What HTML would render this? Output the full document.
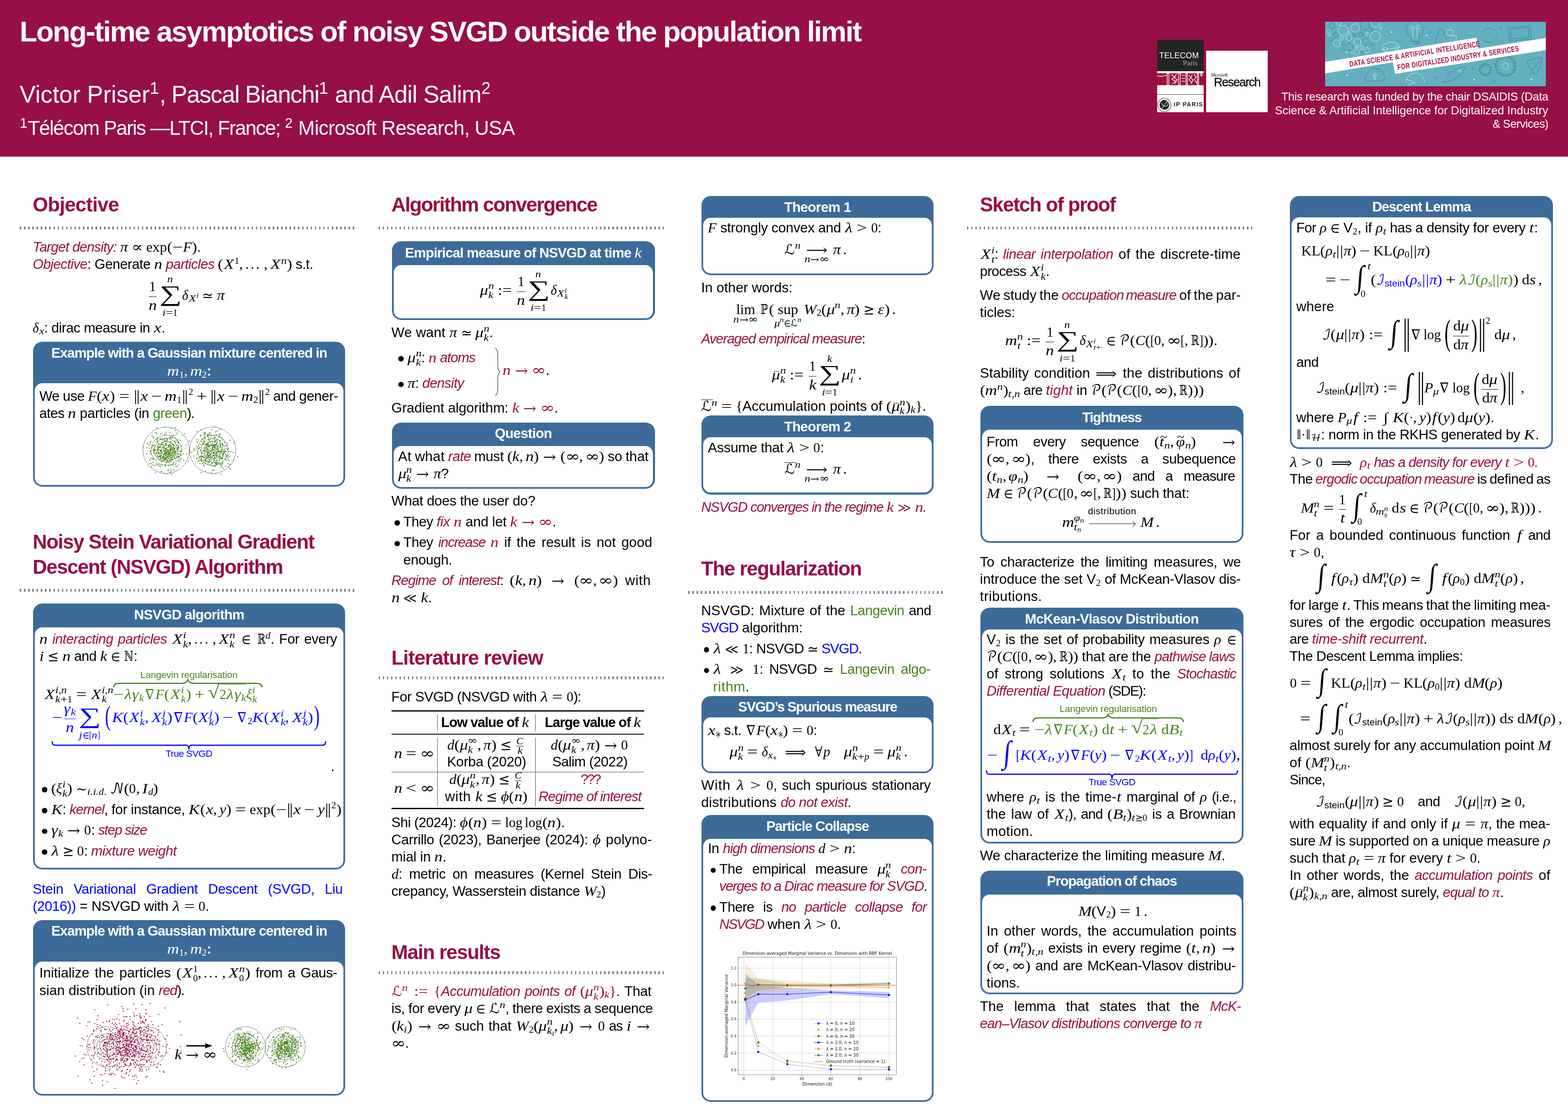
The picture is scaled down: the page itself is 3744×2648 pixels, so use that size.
<!DOCTYPE html><html><head><meta charset="utf-8"><title>Long-time asymptotics of noisy SVGD outside the population limit</title><style>

html,body{margin:0;padding:0;background:#fff}
body{width:3744px;height:2648px;position:relative;overflow:hidden;font-family:"Liberation Sans",sans-serif;-webkit-font-smoothing:antialiased}
.L{position:absolute;white-space:pre;line-height:400px;height:400px;font-family:"Liberation Sans",sans-serif;font-size:33.05px;color:#000;font-kerning:normal}
.L.b{font-weight:bold}
.t{font-family:"Liberation Sans",sans-serif;}
.em{font-style:italic;color:#960f46}
.cg{color:#47821f} .cb{color:#0000ff} .cr{color:#960f46} .ck{color:#000}
.m{font-family:"Liberation Serif","DejaVu Serif",serif;font-style:normal;font-weight:normal;letter-spacing:0;word-spacing:0;line-height:0}
.m .t{font-family:"Liberation Sans",sans-serif;line-height:0}
.m i,.m .r,.m .y,.m .c,.m .cs{display:inline-block;line-height:0;white-space:pre}
.m .cs{font-family:"DejaVu Sans",sans-serif}
.m i{font-style:italic}
.m .y,.m .c{font-family:"DejaVu Math TeX Gyre","DejaVu Sans",sans-serif}
.sp{display:inline-block}
.q3{padding-left:var(--q3,0)}
.q2{padding-left:var(--q2,0)}
.tsup{font-size:70%;vertical-align:.52em;line-height:0}
.su,.sd,.ss{font-size:69.46%;line-height:0}
.su{display:inline-block;vertical-align:0.523em}
.su.tall{vertical-align:0.662em}
.dm .su{vertical-align:0.595em}
.dm .su.tall{vertical-align:0.691em}
.sd{display:inline-block;vertical-align:-0.216em}
.ss{display:inline-flex;flex-direction:column;align-items:flex-start;vertical-align:0.576em}
.ss>*{line-height:0.950em;display:block}
.fr{display:inline-flex;flex-direction:column;align-items:center;vertical-align:0.627em;margin:0 .07em}
.fr>.n{line-height:1.389em;border-bottom:.045em solid;align-self:stretch;text-align:center;padding:0 .02em}
.fr>.dn{line-height:1.257em}
.tf{display:inline-flex;flex-direction:column;align-items:center;font-size:69.46%;vertical-align:0.567em;margin:0 .17em}
.tf>.n{line-height:1.03em;border-bottom:.06em solid;align-self:stretch;text-align:center}
.tf>.dn{line-height:.977em}
.bo{display:inline-block;position:relative;width:1.444em;line-height:1;text-align:left}
.bo .hi,.bo .lo,.in .ihi,.in .ilo{position:absolute;font-size:69.46%;line-height:1;white-space:pre}
.bo .hi,.bo .lo{left:50%;transform:translateX(-50%)}
.bo .hi{bottom:1.839em}
.bo .lo{bottom:-1.642em}
.big{display:inline-block;line-height:0;font-size:1.613em;transform:scaleX(1.39);transform-origin:0 50%;position:relative;top:.066em;left:-.03em;width:0}
.in{display:inline-block;position:relative;width:.556em;line-height:1;margin-right:.444em}
.in.lm{margin-right:.744em}
.bigint{display:inline-block;line-height:0;font-size:1.5em;position:relative;top:-.08em;left:.2em;width:0;transform:scale(1.25,1.509) skewX(-5deg);transform-origin:0 -.11em}
.in .ihi{left:1.512em;bottom:1.655em}
.in .ilo{left:0.835em;bottom:-1.224em}
.lim{display:inline-flex;flex-direction:column;align-items:center;vertical-align:baseline}
.lim>.o{line-height:1}
.lim>.lo{font-size:69.46%;line-height:.63em}
.lim.dp>.lo{padding-top:.37em}
.la{display:inline-flex;flex-direction:column;align-items:center;vertical-align:baseline}
.la>.ar{line-height:1}
.la>.lab{font-size:69.46%;line-height:.56em}
.xa{display:inline-flex;flex-direction:column;align-items:center;vertical-align:.893em}
.xa>.ar{align-self:stretch;height:.5em;position:relative;min-width:1.5em;margin:0 .1em}
.xa>.ar::before{content:"";position:absolute;left:0;right:.02em;top:50%;border-top:.045em solid;margin-top:-.022em}
.xa>.ar::after{content:"";position:absolute;right:.03em;top:50%;width:.26em;height:.26em;border-top:.045em solid;border-right:.045em solid;transform:translateY(-50%) rotate(45deg);margin-top:0}
.xa>.lab{font-size:69.46%;line-height:1.855em}
.sq{display:inline-block;position:relative;padding-left:.83em;line-height:0}
.rad{position:absolute;left:0;bottom:0;line-height:0;display:inline-block;font-size:1.32em;transform:scaleX(1.15);transform-origin:0 50%;top:-.12em}
.sqb{display:inline-block;position:relative;line-height:0}
.sqb::before{content:"";position:absolute;left:-.02em;right:0;top:-.76em;border-top:.045em solid}
.acc{display:inline-block;position:relative;line-height:0}
.acc.bar::before{content:"";position:absolute;left:25%;right:10%;top:-.245em;border-top:.045em solid}
.acc.overline::before{content:"";position:absolute;left:-.02em;right:-.08em;top:-.49em;border-top:.045em solid}
.acc.tilde::before{content:"~";position:absolute;left:12%;top:-.36em;line-height:0;font-size:.95em}
.dl{display:inline-block;line-height:0;text-align:center}
.dl>*{display:inline-block;line-height:0}
.dl>*>*{display:inline-block;line-height:0}

.g0{width:18.6px;transform:scaleX(1.12);text-align:center;transform-origin:50% 50%}
.g1{width:25.3px;transform:scaleX(1.23);text-align:center;transform-origin:50% 50%}
.g2{width:49.7px;transform:scaleX(1.04);text-align:center;transform-origin:50% 50%}
.g3{width:12.7px;transform:scaleX(1.15);text-align:center;transform-origin:50% 50%}
.g4{width:25.3px;transform:scaleX(1.36);text-align:center;transform-origin:50% 50%}
.g5{width:20.9px;transform:scaleX(1.04);text-align:center;transform-origin:50% 50%}
.g6{width:19.5px;transform:scaleX(1.18);text-align:center;transform-origin:50% 50%}
.g7{width:27.0px;transform:scaleX(1.20);text-align:center;transform-origin:50% 50%}
.g8{width:11.3px;transform:scaleX(0.99);transform-origin:0 50%}
.g9{width:9.0px;transform:scaleX(1.09);text-align:center;transform-origin:50% 50%}
.g10{width:38.0px;letter-spacing:4.40px}
.g11{width:13.6px;transform:scaleX(1.18);text-align:center;transform-origin:50% 50%}
.g12{width:16.3px;transform:scaleX(0.98);transform-origin:0 50%}
.g13{width:7.8px;transform:scaleX(1.20);text-align:center;transform-origin:50% 50%}
.g14{width:17.6px;transform:scaleX(1.36);text-align:center;transform-origin:50% 50%}
.g15{width:14.5px;transform:scaleX(0.94);transform-origin:0 50%}
.g16{width:18.7px;transform:scaleX(1.20);text-align:center;transform-origin:50% 50%}
.g17{width:5.4px;transform:scaleX(1.20);text-align:center;transform-origin:50% 50%}
.g18{width:25.3px;transform:scaleX(0.97);transform-origin:0 50%}
.g19{width:12.9px;transform:scaleX(1.20);text-align:center;transform-origin:50% 50%}
.g20{width:18.6px;transform:scaleX(1.20);text-align:center;transform-origin:50% 50%}
.g21{width:28.6px;transform:scaleX(1.20);text-align:center;transform-origin:50% 50%}
.g22{width:11.8px;transform:scaleX(1.16);text-align:center;transform-origin:50% 50%}
.g23{width:21.7px;transform:scaleX(0.82);transform-origin:0 50%}
.g24{width:20.8px;transform:scaleX(0.70);transform-origin:0 50%}
.g25{width:11.8px;transform:scaleX(1.03);text-align:center;transform-origin:50% 50%}
.g26{width:11.2px;transform:scaleX(1.20);text-align:center;transform-origin:50% 50%}
.g27{width:17.0px;transform:scaleX(1.16);text-align:center;transform-origin:50% 50%}
.g28{width:23.5px;transform:scaleX(0.72);transform-origin:0 50%}
.g29{width:6.3px;transform:scaleX(1.10);text-align:center;transform-origin:50% 50%}
.g30{width:19.0px;transform:scaleX(1.20);text-align:center;transform-origin:50% 50%}
.g31{width:16.9px;transform:scaleX(1.20);text-align:center;transform-origin:50% 50%}
.g32{width:27.1px;transform:scaleX(0.93);transform-origin:0 50%}
.g33{width:14.3px;transform:scaleX(1.01);text-align:center;transform-origin:50% 50%}
.g34{width:9.3px;transform:scaleX(1.20);text-align:center;transform-origin:50% 50%}
.g35{width:15.1px;transform:scaleX(0.82);transform-origin:0 50%}
.g36{width:6.3px;transform:scaleX(0.82);transform-origin:0 50%}
.g37{width:27.6px;transform:scaleX(1.20);text-align:center;transform-origin:50% 50%}
.g38{width:25.2px;transform:scaleX(0.97);transform-origin:0 50%}
.g39{width:32.8px;transform:scaleX(0.89);transform-origin:0 50%}
.g40{width:14.3px;transform:scaleX(1.20);text-align:center;transform-origin:50% 50%}
.g41{width:16.0px;transform:scaleX(1.09);text-align:center;transform-origin:50% 50%}
.g42{width:32.6px;transform:scaleX(0.99);transform-origin:0 50%}
.g43{width:32.6px;transform:scaleX(1.27);text-align:center;transform-origin:50% 50%}
.g44{width:19.6px;transform:scaleX(1.18);text-align:center;transform-origin:50% 50%}
.g45{width:34.4px;transform:scaleX(1.20);text-align:center;transform-origin:50% 50%}
.g46{width:8.2px;transform:scaleX(1.16);text-align:center;transform-origin:50% 50%}
.g47{width:32.6px;transform:scaleX(0.88);transform-origin:0 50%}
.g48{width:16.9px;transform:scaleX(1.02);text-align:center;transform-origin:50% 50%}
.g49{width:22.6px;transform:scaleX(1.27);text-align:center;transform-origin:50% 50%}
.g50{width:16.2px;transform:scaleX(1.06);text-align:center;transform-origin:50% 50%}
.g51{width:19.4px;transform:scaleX(1.13);text-align:center;transform-origin:50% 50%}
.g52{width:41.6px;transform:scaleX(0.98);transform-origin:0 50%}
.g53{width:30.7px;transform:scaleX(1.12);text-align:center;transform-origin:50% 50%}
.g54{width:25.1px;transform:scaleX(1.05);text-align:center;transform-origin:50% 50%}
.g55{width:16.3px;transform:scaleX(1.03);text-align:center;transform-origin:50% 50%}
.g56{width:53.3px;transform:scaleX(1.14);text-align:center;transform-origin:50% 50%}
.g57{width:22.6px;transform:scaleX(0.99);transform-origin:0 50%}
.g58{width:45.2px;transform:scaleX(1.03);text-align:center;transform-origin:50% 50%}
.g59{width:20.8px;transform:scaleX(0.75);transform-origin:0 50%}
.g60{width:49.0px;transform:scaleX(1.07);text-align:center;transform-origin:50% 50%}
.g61{width:9.4px;transform:scaleX(1.18);text-align:center;transform-origin:50% 50%}
.g62{width:17.4px;transform:scaleX(1.05);text-align:center;transform-origin:50% 50%}
.g63{width:15.2px;transform:scaleX(1.16);text-align:center;transform-origin:50% 50%}
.g64{width:11.3px;transform:scaleX(0.70);transform-origin:0 50%}
.g65{width:7.9px;transform:scaleX(0.70);transform-origin:0 50%}
.g66{width:21.7px;transform:scaleX(0.83);transform-origin:0 50%}
.g67{width:16.4px;transform:scaleX(0.99);transform-origin:0 50%}
.g68{width:11.4px;transform:scaleX(0.99);transform-origin:0 50%}
.g69{width:8.2px;transform:scaleX(1.20);text-align:center;transform-origin:50% 50%}
.g70{width:5.7px;transform:scaleX(1.20);text-align:center;transform-origin:50% 50%}
.g71{width:12.2px;transform:scaleX(1.36);text-align:center;transform-origin:50% 50%}
.g72{width:4.4px;transform:scaleX(0.82);transform-origin:0 50%}
.g73{width:24.8px;transform:scaleX(0.89);transform-origin:0 50%}
.g74{width:23.3px;transform:scaleX(1.06);text-align:center;transform-origin:50% 50%}
.g75{width:9.0px;transform:scaleX(0.82);transform-origin:0 50%}
.g76{width:11.8px;transform:scaleX(1.20);text-align:center;transform-origin:50% 50%}
.g77{width:21.3px;transform:scaleX(1.16);text-align:center;transform-origin:50% 50%}
.g78{width:31.6px;transform:scaleX(1.15);text-align:center;transform-origin:50% 50%}
.g79{width:14.8px;transform:scaleX(1.16);text-align:center;transform-origin:50% 50%}
.g80{width:16.8px;transform:scaleX(1.06);text-align:center;transform-origin:50% 50%}
.g81{width:18.1px;transform:scaleX(1.09);text-align:center;transform-origin:50% 50%}
.g82{width:24.7px;transform:scaleX(1.20);text-align:center;transform-origin:50% 50%}
.g83{width:17.6px;transform:scaleX(0.97);transform-origin:0 50%}
.g84{width:45.7px;transform:scaleX(1.04);text-align:center;transform-origin:50% 50%}
.g85{width:9.0px;transform:scaleX(1.20);text-align:center;transform-origin:50% 50%}
.g86{width:20.2px;transform:scaleX(0.85);transform-origin:0 50%}
.g87{width:10.6px;transform:scaleX(1.19);text-align:center;transform-origin:50% 50%}
.g88{width:15.3px;transform:scaleX(1.19);text-align:center;transform-origin:50% 50%}
.g89{width:16.0px;transform:scaleX(1.20);text-align:center;transform-origin:50% 50%}
.g90{width:21.7px;transform:scaleX(1.20);text-align:center;transform-origin:50% 50%}
.g91{width:13.0px;transform:scaleX(1.20);text-align:center;transform-origin:50% 50%}
.g92{width:24.1px;transform:scaleX(1.06);text-align:center;transform-origin:50% 50%}
.g93{width:19.8px;transform:scaleX(1.20);text-align:center;transform-origin:50% 50%}
.g94{width:7.4px;transform:scaleX(1.19);text-align:center;transform-origin:50% 50%}
.g95{width:14.2px;transform:scaleX(1.20);text-align:center;transform-origin:50% 50%}
.g96{width:9.9px;transform:scaleX(1.20);text-align:center;transform-origin:50% 50%}
</style></head><body>
<style>.hd{position:absolute;left:0;top:0;width:3744px;height:373.8px;background:#960f46}.bk{position:absolute;background:#3d6b99;border-radius:22px}.bi{position:absolute;left:4.2px;right:4.2px;bottom:4.2px;background:#fff;border-radius:18px}.ru{position:absolute;height:6.6px;background:repeating-linear-gradient(90deg,#80859a 0 3.5px,transparent 3.5px 10.02px)}.bu{position:absolute;width:12.6px;height:12.6px;border-radius:50%;background:#000}.ab{position:absolute}</style>
<div class="hd"></div>
<div class="ab" style="left:2763px;top:94.9px;width:111.1px;height:173.0px;background:#fff;overflow:hidden"><div class="ab" style="left:0;top:0;width:100%;height:75px;background:#262325"></div><div class="ab" style="left:5.4px;top:27.5px;width:100px;font:20.6px/1 'Liberation Sans',sans-serif;color:#fff;letter-spacing:.35px;white-space:nowrap;transform:scaleX(.93);transform-origin:0 0">TELECOM</div><div class="ab" style="left:61.5px;top:47.5px;font:17.5px/1 'Liberation Serif',serif;color:#b5b1ae;white-space:nowrap">Paris</div><svg class="ab" style="left:0;top:79.9px" width="111" height="29" viewBox="0 0 111 29"><rect width="111" height="28.5" fill="#9c1038"/><path d="M0 6Q12 9 24 4M24 0V28.5H28V0ZM33 3l8 5-6 6 9 5-8 7M46 2l-5 9 7 4-6 10M51 0V28.5H55V0ZM58 5h9M58 12h9M58 19h9M69 0V28.5H72V0ZM75 4l6 6-5 5 7 8M84 3l-4 8 6 5-5 9M88 2l5 7-4 6 6 9M96 0V28.5H99V0ZM104 0V6H107V0Z" fill="none" stroke="#fff" stroke-width="1.6"/></svg><div class="ab" style="left:0;top:130.5px;width:100%;height:1.1px;background:#333"></div><svg class="ab" style="left:0;top:136px" width="40" height="38" viewBox="0 0 40 38"><circle cx="17.4" cy="19.4" r="15.8" fill="none" stroke="#222" stroke-width="2.2" stroke-dasharray="1.6 1.5"/><circle cx="17.4" cy="19.4" r="11.6" fill="#222"/><path d="M11 29L24 10M24 10Q30 20 20 23Q12 22 10 14" fill="none" stroke="#fff" stroke-width="1.1"/></svg><div class="ab" style="left:39.6px;top:148.6px;font:bold 13.9px/1 'Liberation Sans',sans-serif;color:#222;letter-spacing:1.55px;white-space:nowrap">IP PARIS</div></div><div class="ab" style="left:2879.8px;top:121.1px;width:147.3px;height:146.8px;background:#fff;overflow:hidden"><div class="ab" style="left:11.6px;top:52.6px;font:10.6px/1 'Liberation Sans',sans-serif;color:#222;letter-spacing:-.35px;white-space:nowrap">Microsoft</div><div class="ab" style="left:18.6px;top:61.2px;font:28.6px/1 'Liberation Sans',sans-serif;color:#111;letter-spacing:-1.45px;white-space:nowrap;-webkit-text-stroke:.5px #111">Research</div></div><svg class="ab" style="left:3164px;top:51.9px" width="527.2" height="154.1" viewBox="0 0 527.2 154.1"><rect width="527.2" height="154.1" fill="#63b0c1"/><g fill="none" stroke="#e9f5f7" stroke-width="0.9"><circle cx="42.9" cy="21.0" r="12.1"/><circle cx="72.0" cy="14.7" r="10.1"/><circle cx="120.0" cy="3.3" r="10.1"/><circle cx="120.0" cy="34.9" r="12.1"/><circle cx="27.8" cy="51.3" r="8.1"/><circle cx="56.8" cy="37.4" r="7.6"/><circle cx="77.0" cy="48.8" r="8.8"/><circle cx="8.8" cy="23.5" r="4.5"/><circle cx="39.2" cy="39.9" r="4.0"/><circle cx="99.8" cy="28.5" r="3.5"/><circle cx="132.6" cy="14.7" r="2.8"/><circle cx="75.8" cy="72.8" r="6.3"/><circle cx="99.8" cy="67.7" r="6.3"/><circle cx="87.2" cy="61.4" r="4.3"/><circle cx="11.4" cy="32.8" r="2.3"/><circle cx="58.1" cy="24.8" r="2.3"/><circle cx="51.8" cy="72.8" r="2.0"/><circle cx="64.4" cy="74.0" r="2.0"/><circle cx="75.0" cy="61.4" r="2.3"/><circle cx="32.8" cy="3.3" r="5.6"/><path d="M136.4 63.9Q137.7 53.8 147.8 50.0Q162.9 45.0 175.6 55.1L179.4 61.4L137.7 67.7Z"/><circle cx="144.7" cy="66.4" r="5.1"/><circle cx="170.5" cy="62.1" r="4.5"/><path d="M193.3 144.7A22 22 0 0 1 237.5 144.7M195.8 137.2L214.7 146.0L198.3 149.8"/><rect x="290.5" y="19.7" width="15.2" height="12.6" rx="2"/><path d="M298.1 19.7V13.4M299.3 33.6H313.2V48.8"/><circle cx="430.7" cy="105.6" r="7.6"/><circle cx="320.8" cy="117.0" r="3.3"/><path d="M117.5 137.2V128.3H113.7L118.7 122.0L123.8 128.3H120.5V137.2Z"/><path d="M209.7 36.1V18.4M219.8 36.1V18.4"/><circle cx="208.4" cy="14.7" r="4"/><circle cx="220.5" cy="13.4" r="4"/></g><g fill="none" stroke="#2f6f80" stroke-width="0.8"><circle cx="94.7" cy="8.3" r="11.4"/><circle cx="96.0" cy="47.5" r="7.6"/><circle cx="58.1" cy="60.1" r="8.8"/><circle cx="25.3" cy="31.1" r="6.1"/><circle cx="15.2" cy="42.4" r="4.5"/><circle cx="85.9" cy="29.8" r="5.1"/><circle cx="111.2" cy="18.4" r="4.0"/><circle cx="42.9" cy="65.2" r="3.8"/><circle cx="69.5" cy="31.1" r="3.5"/><circle cx="89.7" cy="72.8" r="2.5"/><circle cx="111.7" cy="55.8" r="3.5"/><circle cx="16.4" cy="10.9" r="6.6"/><circle cx="55.6" cy="7.1" r="2.3"/><circle cx="43.7" cy="53.3" r="3.5"/><path d="M204.6 36.1A20.5 20.5 0 1 1 224.8 36.1L224.8 46.7H204.6ZM210.9 48.8H228.6M212.2 52.5H226.1"/><path d="M264.0 51.3V42.4Q266.5 34.9 271.6 33.6Q266.5 26.0 272.8 18.4Q281.7 15.9 284.2 26.0Q282.9 32.3 285.5 34.9L293.0 42.4"/><rect x="438.3" y="12.1" width="53.0" height="31.6" transform="rotate(-5 464.8 27.8)"/><rect x="443.3" y="15.9" width="42.9" height="23.2" transform="rotate(-5 464.8 27.8)"/><path d="M376.4 41.2A19 19 0 0 0 410.5 33.6M373.9 28.5A19 19 0 0 1 405.4 21.0"/><path d="M97.3 139.7Q90.9 129.6 102.3 123.3Q107.4 109.4 122.5 111.9Q137.7 111.9 137.7 123.3Q147.8 129.6 141.5 138.4Q120.0 144.7 97.3 139.7Z"/><path d="M282.9 144.7Q294.3 124.5 312.0 114.4Q327.1 106.9 333.5 107.4Q332.2 119.5 322.1 129.6Q309.5 139.7 282.9 144.7ZM290.5 123.3L301.9 117.0M304.4 142.2L312.0 133.4"/><circle cx="430.7" cy="105.6" r="24.0" stroke-dasharray="4 3" stroke-width="2"/><circle cx="430.7" cy="105.6" r="20.2"/><circle cx="382.7" cy="114.4" r="13.9" stroke-dasharray="3 2.5" stroke-width="2"/><circle cx="382.7" cy="114.4" r="10.6"/><path d="M481.2 93.0Q498.9 87.9 517.9 85.4Q516.6 109.4 502.7 125.8Q486.3 109.4 481.2 93.0ZM493.9 114.4L516.6 89.2"/></g><circle cx="159.1" cy="24.8" r="1.8" fill="#fff"/><circle cx="242.5" cy="32.3" r="1.8" fill="#fff"/><circle cx="53.0" cy="127.8" r="1.8" fill="#fff"/><circle cx="492.6" cy="137.2" r="1.8" fill="#fff"/><circle cx="356.2" cy="137.9" r="1.8" fill="#fff"/><circle cx="419.8" cy="14.1" r="1.8" fill="#3f8596"/><circle cx="264.0" cy="134.1" r="1.8" fill="#3f8596"/><circle cx="404.2" cy="140.5" r="1.8" fill="#3f8596"/><circle cx="251.4" cy="24.3" r="1.8" fill="#3f8596"/><circle cx="351.6" cy="112.4" r="1.8" fill="#3f8596"/><path d="M0.0 95.5L361.7 37.9L366.3 63.2L0.0 123.3Z" fill="#fff"/><path d="M161.7 95.5L527.2 38.7L527.2 67.7L166.7 124.5Z" fill="#fff"/><text transform="translate(58.9 107.4) rotate(-8.9) scale(.74 1)" font-family="Liberation Sans,sans-serif" font-weight="bold" font-size="18.6" letter-spacing=".6" fill="#b01146">DATA SCIENCE &amp; ARTIFICIAL INTELLIGENCE</text><text transform="translate(173.5 115.2) rotate(-8.9) scale(.74 1)" font-family="Liberation Sans,sans-serif" font-weight="bold" font-size="18.6" letter-spacing=".6" fill="#b01146">FOR DIGITALIZED INDUSTRY &amp; SERVICES</text></svg>
<div class="ru" style="left:47.0px;top:541.3px;width:798.9px;background:repeating-linear-gradient(90deg,#80859a 0 3.5px,transparent 3.5px 10.068px)"></div>
<div class="bk" style="left:78.9px;top:816.0px;width:745.3px;height:345.8px"><div class="bi" style="top:99.2px"></div></div>
<div class="ru" style="left:47.0px;top:1406.1px;width:798.9px;background:repeating-linear-gradient(90deg,#80859a 0 3.5px,transparent 3.5px 10.068px)"></div>
<div class="bk" style="left:78.9px;top:1440.8px;width:745.3px;height:635.6px"><div class="bi" style="top:57.2px"></div></div>
<div class="bu" style="left:100.0px;top:1879.1px"></div>
<div class="bu" style="left:100.0px;top:1929.1px"></div>
<div class="bu" style="left:100.0px;top:1978.6px"></div>
<div class="bu" style="left:100.0px;top:2028.1px"></div>
<div class="bk" style="left:78.9px;top:2197.2px;width:745.3px;height:419.2px"><div class="bi" style="top:98.8px"></div></div>
<div class="ru" style="left:903.6px;top:541.3px;width:681.6px;background:repeating-linear-gradient(90deg,#80859a 0 3.5px,transparent 3.5px 9.972px)"></div>
<div class="bk" style="left:935.5px;top:575.9px;width:628.0px;height:188.3px"><div class="bi" style="top:56.8px"></div></div>
<div class="bu" style="left:951.1px;top:850.3px"></div>
<div class="bu" style="left:951.1px;top:911.5px"></div>
<div class="bk" style="left:935.5px;top:1008.5px;width:628.0px;height:158.2px"><div class="bi" style="top:56.3px"></div></div>
<div class="bu" style="left:942.3px;top:1242.2px"></div>
<div class="bu" style="left:942.3px;top:1291.9px"></div>
<div class="ru" style="left:903.6px;top:1615.3px;width:681.6px;background:repeating-linear-gradient(90deg,#80859a 0 3.5px,transparent 3.5px 9.972px)"></div>
<div class="ab" style="left:935.3px;top:1696.4px;width:603px;height:2.4px;background:#000"></div><div class="ab" style="left:935.3px;top:1752.1px;width:603px;height:1.6px;background:#000"></div><div class="ab" style="left:935.3px;top:1842.9px;width:603px;height:1.1px;background:#444"></div><div class="ab" style="left:935.3px;top:1929.2px;width:603px;height:2.4px;background:#000"></div><div class="ab" style="left:1044.1px;top:1706px;width:1.1px;height:40px;background:#444"></div><div class="ab" style="left:1278.1px;top:1706px;width:1.1px;height:40px;background:#444"></div><div class="ab" style="left:1044.1px;top:1761px;width:1.1px;height:164px;background:#444"></div><div class="ab" style="left:1278.1px;top:1761px;width:1.1px;height:164px;background:#444"></div>
<div class="ru" style="left:903.6px;top:2319.0px;width:681.6px;background:repeating-linear-gradient(90deg,#80859a 0 3.5px,transparent 3.5px 9.972px)"></div>
<div class="bk" style="left:1675.1px;top:468.1px;width:554.0px;height:188.8px"><div class="bi" style="top:51.9px"></div></div>
<div class="bk" style="left:1675.1px;top:992.4px;width:554.0px;height:188.2px"><div class="bi" style="top:51.6px"></div></div>
<div class="ru" style="left:1643.2px;top:1411.3px;width:607.6px;background:repeating-linear-gradient(90deg,#80859a 0 3.5px,transparent 3.5px 10.068px)"></div>
<div class="bu" style="left:1680.7px;top:1545.2px"></div>
<div class="bu" style="left:1680.7px;top:1594.9px"></div>
<div class="bk" style="left:1675.1px;top:1661.9px;width:554.0px;height:183.9px"><div class="bi" style="top:51.5px"></div></div>
<div class="bk" style="left:1675.1px;top:1946.4px;width:554.0px;height:684.6px"><div class="bi" style="top:56.9px"></div></div>
<div class="bu" style="left:1696.7px;top:2071.7px"></div>
<div class="bu" style="left:1696.7px;top:2162.3px"></div>
<div class="ru" style="left:2308.8px;top:541.3px;width:681.6px;background:repeating-linear-gradient(90deg,#80859a 0 3.5px,transparent 3.5px 9.972px)"></div>
<div class="bk" style="left:2340.7px;top:969.2px;width:628.0px;height:326.5px"><div class="bi" style="top:57.0px"></div></div>
<div class="bk" style="left:2340.7px;top:1450.7px;width:628.0px;height:563.1px"><div class="bi" style="top:52.3px"></div></div>
<div class="bk" style="left:2340.7px;top:2078.8px;width:628.0px;height:295.0px"><div class="bi" style="top:57.2px"></div></div>
<div class="bk" style="left:3080.1px;top:468.1px;width:628.0px;height:603.8px"><div class="bi" style="top:50.9px"></div></div>
<svg class="ab" style="left:0px;top:1600px" width="3744" height="300" viewBox="0 1600 3744 300" ><path d="M271.5 1640.2C272.5 1633.7 276.5 1631.7 286.5 1631.7L433.5 1631.7C442.5 1631.7 447.0 1628.7 448.5 1622.2C450.0 1628.7 454.5 1631.7 463.5 1631.7L610.5 1631.7C620.5 1631.7 624.5 1633.7 625.5 1640.2" fill="none" stroke="#47821f" stroke-width="2.8" stroke-linecap="round" stroke-linejoin="round"/><path d="M124.5 1770.8C125.5 1781.3 129.5 1779.3 139.5 1779.3L436.0 1779.3C445.0 1779.3 449.5 1776.3 451.0 1788.8C452.5 1776.3 457.0 1779.3 466.0 1779.3L762.5 1779.3C772.5 1779.3 776.5 1781.3 777.5 1770.8" fill="none" stroke="#00f" stroke-width="2.8" stroke-linecap="round" stroke-linejoin="round"/><path d="M2466.5 1722.7C2467.5 1716.2 2471.5 1714.2 2481.5 1714.2L2631.0 1714.2C2640.0 1714.2 2644.5 1711.2 2646.0 1704.7C2647.5 1711.2 2652.0 1714.2 2661.0 1714.2L2810.5 1714.2C2820.5 1714.2 2824.5 1716.2 2825.5 1722.7" fill="none" stroke="#47821f" stroke-width="2.8" stroke-linecap="round" stroke-linejoin="round"/><path d="M2355.5 1840.2C2356.5 1850.7 2360.5 1848.7 2370.5 1848.7L2640.2 1848.7C2649.2 1848.7 2653.8 1845.7 2655.2 1858.2C2656.8 1845.7 2661.2 1848.7 2670.2 1848.7L2940.0 1848.7C2950.0 1848.7 2954.0 1850.7 2955.0 1840.2" fill="none" stroke="#00f" stroke-width="2.8" stroke-linecap="round" stroke-linejoin="round"/></svg><svg class="ab" style="left:1170px;top:820px" width="40" height="140" viewBox="1170 820 40 140" ><path d="M1182.6 831.3C1188.6 835.3 1188.6 843.3 1188.6 853.3L1188.6 872.0C1188.6 881.0 1190.6 885.0 1193.6 888.0C1190.6 891.0 1188.6 895.0 1188.6 904.0L1188.6 922.6C1188.6 932.6 1188.6 940.6 1182.6 944.6" fill="none" stroke="#222" stroke-width="1.2"/></svg>
<svg class="ab" style="left:300px;top:1005px" width="300" height="145" viewBox="300 1005 300 145" ><g fill="none" stroke="#333" stroke-width="0.7"><circle cx="396.7" cy="1075.0" r="2.2"/><circle cx="396.7" cy="1075.0" r="11.7"/><circle cx="396.7" cy="1075.0" r="20.5"/><circle cx="396.7" cy="1075.0" r="28.3"/><circle cx="396.7" cy="1075.0" r="36.1"/><circle cx="396.7" cy="1075.0" r="55.5"/><circle cx="507.8" cy="1075.0" r="2.2"/><circle cx="507.8" cy="1075.0" r="11.7"/><circle cx="507.8" cy="1075.0" r="20.5"/><circle cx="507.8" cy="1075.0" r="28.3"/><circle cx="507.8" cy="1075.0" r="36.1"/><circle cx="507.8" cy="1075.0" r="55.5"/></g><path d="M391.6 1087.7h0M392.2 1070.4h0M378.1 1072.5h0M418.9 1085.9h0M417.4 1082.2h0M404.6 1080.9h0M363.4 1095.0h0M406.8 1087.5h0M362.9 1040.4h0M378.9 1067.2h0M402.8 1076.0h0M407.1 1063.5h0M402.9 1085.3h0M383.5 1113.1h0M407.8 1102.1h0M384.3 1061.5h0M389.8 1074.8h0M409.3 1082.2h0M387.8 1056.9h0M386.3 1102.6h0M380.5 1082.1h0M405.2 1045.7h0M397.7 1104.4h0M356.4 1070.2h0M394.6 1059.8h0M406.6 1075.7h0M367.4 1094.4h0M410.1 1096.9h0M425.5 1084.6h0M399.1 1049.7h0M409.0 1064.2h0M387.6 1050.4h0M377.3 1065.8h0M422.5 1034.3h0M367.5 1082.0h0M425.6 1089.1h0M403.8 1061.5h0M374.3 1097.5h0M418.7 1080.3h0M401.6 1086.1h0M428.6 1090.0h0M407.1 1088.5h0M365.3 1103.9h0M415.8 1088.1h0M357.2 1063.7h0M413.5 1039.0h0M393.0 1098.4h0M370.5 1110.8h0M407.7 1073.8h0M403.2 1090.6h0M399.1 1101.1h0M383.5 1068.3h0M417.5 1077.6h0M379.1 1096.9h0M426.0 1067.7h0M369.1 1074.2h0M393.7 1070.7h0M424.8 1055.4h0M421.9 1050.4h0M381.0 1090.3h0M419.3 1095.0h0M403.6 1080.0h0M399.7 1089.1h0M393.2 1082.8h0M408.2 1077.0h0M412.0 1088.9h0M436.9 1083.8h0M388.1 1069.2h0M396.4 1096.4h0M390.0 1085.1h0M374.2 1082.1h0M404.7 1082.0h0M388.1 1090.8h0M402.3 1066.0h0M445.3 1084.5h0M385.6 1074.9h0M392.2 1075.7h0M342.1 1066.8h0M416.9 1052.5h0M395.4 1097.0h0M413.8 1108.3h0M362.7 1069.6h0M389.9 1090.1h0M418.5 1020.7h0M418.5 1046.6h0M410.4 1045.7h0M400.2 1102.1h0M393.7 1081.0h0M412.6 1080.0h0M394.9 1109.2h0M417.7 1070.8h0M451.6 1052.9h0M415.0 1071.4h0M399.3 1091.8h0M401.1 1090.4h0M366.2 1045.3h0M409.0 1056.8h0M376.2 1046.1h0M422.0 1092.7h0M426.2 1057.3h0M396.7 1053.1h0M412.0 1110.4h0M378.9 1109.8h0M416.5 1073.3h0M357.3 1106.5h0M394.8 1064.3h0M404.7 1085.6h0M426.7 1055.6h0M419.4 1108.2h0M425.7 1073.2h0M381.8 1098.4h0M399.0 1079.6h0M425.2 1071.5h0M350.8 1068.9h0M359.6 1094.2h0M403.0 1064.2h0M396.5 1094.5h0M398.3 1104.9h0M395.5 1098.8h0M426.5 1110.8h0M383.3 1095.5h0M359.2 1054.2h0M357.4 1099.4h0M372.1 1076.7h0M392.9 1076.4h0M384.9 1081.9h0M432.5 1077.9h0M407.3 1098.0h0M392.7 1050.5h0M385.6 1099.5h0M363.8 1064.4h0M416.8 1093.6h0M396.9 1093.9h0M400.0 1052.2h0M365.4 1063.6h0M415.2 1065.1h0M378.7 1060.8h0M366.1 1074.5h0M373.1 1084.6h0M349.5 1083.9h0M383.9 1036.2h0M411.2 1071.2h0M352.1 1058.6h0M402.5 1067.4h0M412.3 1092.7h0M410.0 1083.9h0M423.4 1090.9h0M405.7 1033.2h0M414.6 1104.5h0M390.8 1067.1h0M435.5 1040.1h0M406.1 1127.9h0M378.1 1091.5h0M434.4 1074.5h0M407.9 1096.0h0M378.6 1075.1h0M402.6 1094.3h0M396.0 1072.9h0M376.4 1069.5h0M414.5 1079.1h0M379.6 1059.3h0M450.0 1100.9h0M409.4 1022.5h0M409.1 1087.1h0M430.4 1086.0h0M395.4 1088.0h0M357.8 1098.7h0M403.2 1062.3h0M423.2 1115.0h0M368.7 1063.0h0M402.5 1080.9h0M388.7 1056.5h0M439.1 1098.8h0M372.8 1048.8h0M430.8 1097.8h0M433.1 1094.0h0M379.3 1082.5h0M353.5 1061.3h0M395.5 1088.0h0M382.1 1074.4h0M405.9 1084.9h0M409.5 1081.4h0M390.2 1093.6h0M397.7 1059.7h0M384.2 1077.0h0M394.5 1080.3h0M396.7 1080.7h0M394.0 1050.6h0M405.1 1099.1h0M405.4 1073.0h0M405.6 1056.7h0M358.8 1078.3h0M378.1 1092.5h0M375.0 1021.8h0M375.9 1110.1h0M389.1 1048.2h0M381.4 1087.9h0M406.6 1080.7h0M426.4 1091.8h0M396.3 1089.5h0M429.8 1097.4h0M417.2 1054.3h0M393.7 1092.3h0M390.8 1099.4h0M408.6 1096.1h0M392.5 1130.5h0M421.5 1072.5h0M398.5 1131.5h0M389.8 1095.4h0M416.3 1077.1h0M373.4 1080.9h0M403.9 1100.7h0M412.4 1077.5h0M413.8 1088.3h0M400.8 1078.2h0M391.8 1091.4h0M375.6 1063.8h0M396.8 1046.3h0M388.0 1034.8h0M383.0 1088.9h0M408.0 1075.9h0M392.1 1047.2h0M433.3 1087.8h0M418.6 1058.5h0M393.0 1038.8h0M412.3 1096.6h0M358.8 1075.9h0M409.3 1040.0h0M360.2 1054.6h0M384.1 1047.5h0M397.3 1082.2h0M409.4 1091.7h0M426.8 1101.5h0M370.5 1066.4h0M375.5 1054.4h0M395.1 1077.1h0M406.5 1043.7h0M371.9 1076.5h0M392.7 1070.5h0M395.4 1061.0h0M410.7 1084.4h0M394.9 1062.9h0M393.2 1019.8h0M377.1 1077.8h0M366.6 1081.2h0M399.6 1048.1h0M391.7 1070.4h0M405.9 1089.8h0M396.0 1059.1h0M393.8 1075.6h0M411.4 1083.2h0M382.2 1048.6h0M389.2 1061.5h0M374.5 1074.6h0M386.9 1079.2h0M407.2 1068.3h0M443.2 1070.2h0M418.7 1079.6h0M419.0 1027.1h0M381.7 1082.2h0M408.7 1126.1h0M403.2 1103.9h0M412.0 1096.9h0M406.9 1073.7h0M406.9 1054.4h0M420.3 1055.6h0M401.7 1121.5h0M392.2 1077.4h0M420.0 1077.6h0M380.5 1082.4h0M408.3 1091.9h0M381.2 1113.8h0M430.0 1077.4h0M402.1 1068.0h0M425.0 1062.2h0M410.2 1066.9h0M382.8 1092.1h0M423.4 1076.8h0M383.2 1094.0h0M395.7 1083.5h0M427.2 1100.8h0M386.3 1125.0h0M396.8 1093.5h0M383.8 1076.1h0M361.7 1114.5h0M424.0 1051.5h0M366.6 1043.0h0M420.2 1067.3h0M395.5 1070.4h0M394.3 1054.1h0M397.2 1046.8h0M395.3 1083.5h0M406.1 1072.1h0M378.6 1080.4h0M387.0 1109.9h0M412.1 1074.6h0M387.3 1062.2h0M378.0 1069.6h0M402.6 1087.8h0M408.1 1121.1h0M382.6 1077.3h0M386.3 1080.6h0M399.8 1085.6h0M391.9 1084.7h0M397.8 1093.2h0M358.8 1058.4h0M396.7 1055.3h0M375.8 1090.2h0M383.7 1090.3h0M411.6 1083.4h0M406.9 1074.8h0M368.5 1076.4h0M405.8 1065.9h0M394.7 1092.7h0M379.1 1090.4h0M434.0 1065.4h0M399.6 1073.8h0M427.5 1083.6h0M414.7 1062.5h0M396.4 1076.8h0M361.2 1107.3h0M414.7 1040.3h0M411.6 1074.2h0M405.7 1084.7h0M366.7 1072.5h0M426.6 1064.9h0M376.2 1048.4h0M372.3 1084.0h0M430.6 1086.0h0M401.6 1123.9h0M386.3 1062.8h0M407.3 1088.5h0M376.4 1052.4h0M402.5 1082.2h0M370.6 1072.8h0M385.8 1086.7h0M394.4 1075.2h0M389.6 1099.1h0M424.5 1069.3h0M413.6 1061.1h0M398.1 1092.7h0M427.0 1069.0h0M395.2 1081.1h0M366.7 1077.3h0M383.2 1084.8h0M374.1 1035.5h0M397.5 1082.5h0M385.7 1095.7h0M391.2 1064.3h0M406.3 1044.1h0M383.2 1076.6h0M413.7 1073.6h0M402.9 1063.2h0M402.7 1111.9h0M383.0 1126.7h0M383.8 1077.4h0M400.2 1098.5h0M372.0 1032.9h0M408.8 1093.7h0M409.2 1132.2h0M400.8 1082.3h0M415.3 1084.7h0M430.0 1051.0h0M412.9 1069.2h0M415.2 1122.2h0M396.6 1071.7h0M386.7 1059.4h0M384.1 1090.4h0M397.4 1078.4h0M393.2 1096.2h0M406.6 1074.0h0M410.0 1073.8h0M373.6 1107.6h0M406.0 1056.9h0M418.3 1084.2h0M365.4 1110.8h0M403.4 1095.7h0M400.7 1073.9h0M365.7 1097.4h0M397.3 1071.0h0M403.7 1078.6h0M410.2 1069.2h0M396.0 1032.1h0M388.2 1091.2h0M423.4 1069.4h0M394.3 1110.3h0M390.2 1092.4h0M430.3 1077.8h0M421.2 1062.1h0M400.9 1075.4h0M399.0 1100.7h0M444.5 1063.0h0M385.2 1087.4h0M375.6 1087.4h0M408.1 1071.2h0M407.3 1044.5h0M411.9 1044.6h0M382.8 1065.3h0M388.7 1095.0h0M398.3 1068.7h0M407.6 1110.2h0M396.8 1084.7h0M421.5 1082.6h0M371.0 1129.3h0M440.9 1035.3h0M395.9 1085.8h0M416.0 1091.0h0M391.3 1054.9h0M398.8 1098.7h0M374.9 1055.4h0M396.2 1036.3h0M391.5 1067.8h0M405.7 1062.3h0M379.1 1068.7h0M395.7 1063.0h0M396.9 1092.8h0M420.4 1112.8h0M381.0 1068.2h0M382.2 1076.3h0M407.2 1048.5h0M406.0 1076.4h0M360.2 1083.1h0M420.6 1037.8h0M412.8 1081.4h0M406.2 1086.3h0M422.8 1072.3h0M414.2 1068.4h0M411.3 1059.9h0M394.5 1113.4h0M405.6 1073.7h0M484.9 1060.4h0M511.7 1096.7h0M516.3 1088.0h0M507.0 1105.4h0M500.0 1065.5h0M525.6 1078.3h0M502.2 1064.9h0M502.7 1090.1h0M514.9 1051.6h0M516.3 1080.8h0M487.8 1093.2h0M502.2 1070.0h0M523.7 1104.7h0M494.0 1086.2h0M490.3 1125.6h0M497.9 1102.1h0M494.9 1094.0h0M499.1 1087.5h0M505.9 1063.0h0M550.8 1078.7h0M474.9 1094.9h0M473.4 1101.2h0M496.2 1080.0h0M533.0 1079.5h0M480.0 1041.4h0M531.5 1092.5h0M491.5 1095.0h0M517.7 1090.6h0M462.6 1070.7h0M525.8 1092.4h0M525.4 1025.4h0M511.2 1087.3h0M558.8 1057.0h0M501.2 1077.8h0M525.5 1067.7h0M530.7 1060.5h0M513.1 1065.9h0M511.0 1062.5h0M475.9 1100.0h0M513.9 1065.3h0M511.8 1097.8h0M488.3 1074.7h0M518.6 1088.0h0M501.1 1032.8h0M532.7 1083.9h0M508.1 1071.2h0M513.1 1068.1h0M487.3 1061.5h0M495.9 1064.1h0M484.6 1090.4h0M481.6 1090.9h0M487.5 1084.4h0M535.3 1081.3h0M493.2 1078.0h0M510.8 1040.6h0M495.6 1080.4h0M498.4 1078.7h0M522.5 1093.1h0M525.9 1089.4h0M502.0 1076.6h0M502.4 1070.4h0M504.2 1040.8h0M501.1 1076.5h0M488.3 1076.5h0M518.1 1073.5h0M503.7 1038.7h0M527.4 1132.7h0M457.8 1079.7h0M518.2 1070.6h0M518.8 1029.9h0M524.8 1084.8h0M508.3 1064.7h0M520.6 1066.8h0M512.3 1066.3h0M462.9 1076.3h0M511.8 1092.8h0M490.3 1076.3h0M520.1 1080.1h0M532.6 1118.8h0M489.6 1036.7h0M524.9 1109.1h0M526.2 1094.1h0M495.4 1062.0h0M525.6 1057.9h0M471.5 1056.1h0M494.1 1061.7h0M512.4 1061.3h0M534.0 1075.4h0M486.1 1104.5h0M496.1 1081.6h0M507.5 1070.4h0M514.3 1062.5h0M470.9 1030.6h0M482.5 1061.1h0M507.3 1078.2h0M518.9 1079.5h0M491.9 1062.1h0M465.4 1073.4h0M517.5 1088.1h0M505.4 1073.3h0M526.5 1077.3h0M522.6 1089.2h0M512.1 1104.4h0M496.3 1069.5h0M491.6 1060.3h0M538.9 1113.9h0M508.3 1088.9h0M531.3 1094.0h0M531.9 1050.5h0M495.0 1086.5h0M536.5 1079.2h0M490.6 1069.6h0M494.6 1059.0h0M537.8 1063.9h0M508.2 1122.4h0M531.5 1084.1h0M495.6 1085.6h0M540.2 1090.1h0M533.0 1079.1h0M518.1 1072.8h0M516.3 1104.3h0M479.2 1075.7h0M512.6 1065.0h0M501.6 1093.5h0M547.8 1090.2h0M514.3 1044.4h0M546.4 1078.6h0M507.1 1053.5h0M506.7 1054.0h0M509.2 1086.8h0M508.4 1082.9h0M490.8 1107.0h0M494.7 1038.8h0M504.0 1061.0h0M487.6 1069.5h0M513.6 1052.2h0M505.0 1107.0h0M521.5 1073.8h0M510.4 1074.5h0M506.8 1092.4h0M505.9 1026.5h0M507.4 1058.3h0M520.8 1064.2h0M510.8 1122.7h0M486.9 1053.4h0M479.6 1026.7h0M470.2 1084.7h0M495.0 1037.8h0M478.1 1090.0h0M492.3 1069.3h0M514.4 1105.5h0M546.6 1098.7h0M510.7 1080.9h0M543.8 1107.0h0M501.6 1086.6h0M513.5 1078.1h0M497.8 1049.1h0M497.1 1044.6h0M532.3 1088.3h0M483.7 1106.3h0M525.6 1036.9h0M544.6 1094.0h0M549.1 1051.1h0M518.4 1085.9h0M511.8 1080.6h0M528.9 1045.6h0M483.0 1047.7h0M496.6 1064.3h0M515.1 1082.6h0M508.4 1062.8h0M499.0 1097.0h0M523.1 1079.1h0M501.3 1109.6h0M495.9 1090.6h0M530.9 1071.4h0M524.3 1053.6h0M528.1 1081.2h0M476.1 1091.1h0M490.0 1103.9h0M494.2 1073.5h0M513.5 1070.0h0M513.0 1065.4h0M521.2 1077.1h0M512.0 1019.2h0M531.0 1077.7h0M472.1 1079.0h0M517.1 1099.5h0M486.1 1109.5h0M504.6 1127.3h0M504.9 1091.3h0M500.5 1053.6h0M529.7 1096.0h0M538.6 1095.0h0M496.3 1042.1h0M494.8 1062.8h0M491.5 1089.2h0M514.4 1071.3h0M511.3 1073.9h0M512.1 1092.8h0M527.0 1062.6h0M477.7 1107.0h0M510.1 1100.2h0M474.9 1070.1h0M508.3 1046.7h0M497.5 1092.2h0M529.4 1110.5h0M490.5 1047.6h0M518.2 1096.7h0M511.7 1049.7h0M523.4 1093.6h0M518.9 1066.8h0M513.9 1093.6h0M496.6 1038.3h0M514.4 1087.1h0M508.1 1095.7h0M496.1 1075.3h0M501.7 1089.0h0M539.7 1071.7h0M548.9 1109.1h0M523.6 1089.3h0M543.2 1073.2h0M505.6 1054.7h0M517.3 1105.2h0M518.4 1085.9h0M503.8 1080.6h0M479.3 1099.0h0M499.6 1053.8h0M492.8 1059.7h0M524.9 1099.2h0M480.6 1096.5h0M525.6 1064.8h0M478.1 1061.3h0M495.1 1084.2h0M500.6 1034.4h0M512.5 1044.8h0M525.9 1051.7h0M493.9 1059.1h0M496.9 1104.3h0M524.8 1089.6h0M514.2 1044.5h0M497.4 1065.4h0M488.3 1087.7h0M493.0 1062.1h0M486.9 1033.8h0M519.7 1104.9h0M511.3 1056.5h0M453.7 1080.6h0M532.1 1083.2h0M526.3 1108.0h0M530.3 1067.7h0M528.8 1093.3h0M477.1 1068.5h0M479.3 1074.7h0M519.4 1054.6h0M466.7 1104.3h0M515.3 1107.9h0M481.3 1099.3h0M549.3 1119.1h0M503.6 1082.7h0M504.7 1098.0h0M528.6 1078.8h0M480.6 1092.6h0M498.4 1090.2h0M513.1 1111.1h0M530.6 1067.5h0M514.8 1114.0h0M497.1 1086.1h0M531.6 1103.4h0M518.2 1049.3h0M482.6 1082.2h0M515.5 1130.5h0M490.6 1100.9h0M523.2 1041.9h0M491.4 1080.5h0M497.9 1073.8h0M517.2 1060.0h0M517.1 1063.6h0M496.9 1088.3h0M496.3 1083.0h0M539.8 1077.6h0M504.9 1092.4h0M500.5 1099.7h0M482.1 1090.0h0M497.6 1060.2h0M543.2 1059.1h0M542.9 1090.8h0M536.9 1056.5h0M531.8 1107.6h0M505.5 1074.3h0M556.9 1080.7h0M499.3 1063.8h0M516.7 1083.9h0M511.4 1113.2h0M501.2 1086.9h0M537.0 1055.9h0M528.6 1115.5h0M480.7 1054.0h0M487.0 1038.2h0M516.9 1038.0h0M517.8 1107.5h0M475.5 1070.4h0M469.4 1093.4h0M493.1 1071.4h0M508.9 1088.4h0M500.9 1077.3h0M496.9 1079.4h0M484.3 1078.3h0M469.2 1066.7h0M546.1 1078.7h0M482.6 1082.4h0M488.4 1042.3h0M493.1 1092.5h0M515.5 1075.0h0M489.3 1054.3h0M534.8 1082.1h0M488.8 1032.7h0M480.4 1129.0h0M484.8 1075.4h0M512.0 1073.7h0M502.2 1048.2h0M486.8 1112.5h0M492.7 1094.8h0M473.9 1071.2h0M513.0 1098.8h0M485.3 1089.5h0M515.5 1061.5h0M517.3 1058.1h0M491.9 1076.6h0M453.5 1074.7h0M487.8 1046.3h0M499.3 1093.0h0M499.7 1103.6h0M484.6 1049.4h0M538.8 1085.4h0M526.7 1059.6h0M523.9 1082.5h0M520.8 1077.5h0M531.9 1063.4h0M488.5 1046.0h0M531.0 1061.5h0M486.9 1057.3h0M498.9 1050.3h0M502.0 1063.8h0M496.8 1056.9h0M508.5 1067.3h0M510.1 1082.2h0M514.6 1031.0h0M497.1 1060.3h0M523.3 1043.9h0M493.5 1070.8h0M501.1 1097.8h0M498.9 1097.3h0M478.5 1038.9h0M532.2 1086.1h0M517.6 1079.6h0M517.5 1051.5h0M526.8 1065.8h0M527.5 1078.8h0M468.3 1050.0h0M530.4 1074.1h0M499.9 1082.1h0M499.3 1065.6h0M509.8 1080.0h0M538.1 1078.0h0M545.4 1114.9h0M542.1 1099.3h0M510.4 1079.9h0M504.9 1061.6h0M506.5 1063.5h0M540.6 1088.2h0M498.9 1036.8h0M506.7 1068.3h0M486.1 1053.1h0M462.8 1088.9h0M506.5 1131.2h0M507.2 1073.9h0M536.7 1079.8h0M511.1 1069.2h0M495.7 1108.5h0M527.8 1113.0h0M500.8 1077.6h0M490.2 1097.3h0M479.9 1088.9h0M529.7 1106.6h0M489.0 1099.9h0M493.5 1061.1h0M481.3 1101.3h0M540.8 1064.5h0M492.6 1069.9h0M557.9 1098.1h0M496.9 1039.3h0M494.3 1101.9h0M545.2 1071.4h0M494.0 1066.3h0M470.1 1096.1h0M486.1 1099.3h0M473.6 1050.3h0M513.6 1061.0h0M523.4 1077.2h0M484.3 1090.1h0M524.6 1036.8h0M544.3 1087.4h0M523.0 1037.9h0M493.4 1069.7h0M529.3 1046.3h0M490.1 1034.4h0M503.0 1084.3h0M474.1 1064.6h0M518.0 1110.3h0M521.1 1070.6h0M484.2 1057.3h0M494.5 1080.1h0M506.8 1112.0h0M513.5 1054.5h0M538.7 1096.9h0M509.8 1061.9h0M470.4 1055.5h0M526.0 1060.1h0M481.4 1081.1h0M512.7 1089.7h0M520.9 1106.6h0M491.0 1097.6h0M488.1 1091.6h0M511.4 1082.1h0M527.2 1076.6h0M530.0 1095.4h0M510.5 1065.1h0M492.7 1065.9h0M503.8 1076.5h0M567.4 1090.4h0" stroke="#4a8a22" stroke-width="2.6" stroke-linecap="round" fill="none"/></svg>
<svg class="ab" style="left:150px;top:2380px" width="620" height="220" viewBox="150 2380 620 220" ><g fill="none" stroke="#333" stroke-width="0.7"><circle cx="255.4" cy="2499.5" r="1.9"/><circle cx="255.4" cy="2499.5" r="10.1"/><circle cx="255.4" cy="2499.5" r="17.8"/><circle cx="255.4" cy="2499.5" r="24.5"/><circle cx="255.4" cy="2499.5" r="31.2"/><circle cx="255.4" cy="2499.5" r="48.0"/><circle cx="350.0" cy="2499.5" r="1.9"/><circle cx="350.0" cy="2499.5" r="10.1"/><circle cx="350.0" cy="2499.5" r="17.8"/><circle cx="350.0" cy="2499.5" r="24.5"/><circle cx="350.0" cy="2499.5" r="31.2"/><circle cx="350.0" cy="2499.5" r="48.0"/><circle cx="586.0" cy="2499.5" r="1.9"/><circle cx="586.0" cy="2499.5" r="10.1"/><circle cx="586.0" cy="2499.5" r="17.8"/><circle cx="586.0" cy="2499.5" r="24.5"/><circle cx="586.0" cy="2499.5" r="31.2"/><circle cx="586.0" cy="2499.5" r="48.0"/><circle cx="681.0" cy="2499.5" r="1.9"/><circle cx="681.0" cy="2499.5" r="10.1"/><circle cx="681.0" cy="2499.5" r="17.8"/><circle cx="681.0" cy="2499.5" r="24.5"/><circle cx="681.0" cy="2499.5" r="31.2"/><circle cx="681.0" cy="2499.5" r="48.0"/></g><path d="M335.1 2464.0h0M271.5 2483.5h0M310.3 2457.7h0M371.3 2474.7h0M348.4 2410.9h0M301.7 2505.0h0M310.2 2516.7h0M314.0 2500.8h0M220.6 2469.3h0M201.3 2517.6h0M315.2 2488.0h0M266.7 2474.1h0M381.4 2557.3h0M299.5 2541.4h0M233.7 2425.3h0M281.2 2463.5h0M278.0 2501.8h0M432.1 2471.2h0M304.1 2504.9h0M300.5 2528.5h0M378.3 2450.2h0M309.0 2485.5h0M317.3 2439.9h0M226.4 2411.6h0M324.6 2501.9h0M305.2 2409.8h0M285.9 2467.8h0M241.2 2462.0h0M332.0 2514.6h0M301.0 2513.5h0M276.1 2497.6h0M303.7 2515.0h0M299.0 2489.8h0M296.2 2471.8h0M398.0 2513.5h0M320.4 2577.5h0M362.3 2439.0h0M331.9 2525.2h0M383.1 2542.4h0M335.1 2452.6h0M264.6 2504.7h0M323.7 2458.2h0M285.5 2480.6h0M304.6 2507.1h0M289.7 2450.5h0M355.4 2552.5h0M297.4 2531.9h0M321.1 2518.7h0M322.7 2467.5h0M326.7 2531.4h0M263.5 2565.8h0M391.9 2560.6h0M387.5 2521.7h0M287.5 2473.4h0M267.0 2499.2h0M300.6 2519.1h0M215.1 2578.2h0M399.9 2494.0h0M331.1 2512.1h0M313.8 2487.5h0M296.7 2465.3h0M309.7 2494.1h0M315.8 2464.2h0M303.7 2496.7h0M328.0 2456.7h0M320.0 2530.4h0M327.7 2481.7h0M280.9 2486.5h0M333.4 2550.9h0M295.2 2471.9h0M318.2 2502.4h0M263.0 2468.5h0M297.6 2519.2h0M250.7 2458.3h0M323.5 2450.9h0M306.7 2507.7h0M297.2 2458.3h0M299.4 2483.0h0M316.5 2464.8h0M348.9 2434.7h0M294.4 2495.3h0M343.3 2473.1h0M325.5 2474.6h0M333.7 2557.5h0M284.8 2510.9h0M262.1 2530.0h0M354.1 2496.3h0M253.2 2509.5h0M351.4 2534.2h0M337.0 2429.1h0M272.8 2546.2h0M249.3 2535.7h0M382.9 2522.4h0M350.2 2483.0h0M249.3 2491.3h0M293.4 2493.3h0M332.0 2489.8h0M310.2 2510.3h0M301.8 2561.4h0M321.0 2498.0h0M293.1 2472.5h0M359.8 2500.4h0M255.6 2474.8h0M296.1 2479.0h0M348.6 2453.2h0M323.2 2500.2h0M251.4 2496.7h0M297.9 2513.0h0M282.6 2505.9h0M230.4 2456.0h0M335.8 2532.5h0M301.4 2473.4h0M348.6 2419.7h0M267.6 2519.2h0M330.1 2457.8h0M220.8 2547.3h0M308.6 2462.7h0M304.3 2527.5h0M190.6 2535.0h0M333.8 2420.1h0M335.1 2430.9h0M351.0 2509.3h0M398.9 2473.0h0M302.2 2532.7h0M274.5 2469.6h0M286.0 2492.4h0M255.5 2512.4h0M325.4 2497.6h0M375.1 2483.2h0M358.2 2475.3h0M334.5 2425.3h0M310.5 2488.7h0M280.7 2473.0h0M287.1 2469.1h0M207.7 2473.5h0M278.4 2476.1h0M256.5 2490.1h0M335.7 2486.0h0M280.8 2543.9h0M344.0 2528.2h0M351.7 2483.2h0M296.4 2535.1h0M278.2 2490.7h0M318.2 2508.4h0M290.1 2530.4h0M294.3 2521.1h0M348.0 2518.7h0M333.5 2453.2h0M245.6 2472.7h0M322.4 2549.0h0M249.4 2506.0h0M265.3 2468.6h0M290.1 2519.9h0M311.2 2537.5h0M259.6 2527.0h0M342.0 2497.5h0M322.5 2474.7h0M255.1 2480.4h0M274.4 2599.0h0M281.1 2554.4h0M310.7 2506.2h0M334.0 2467.0h0M341.4 2508.5h0M236.8 2516.6h0M325.8 2511.3h0M370.2 2480.1h0M324.0 2521.9h0M263.3 2538.2h0M239.6 2448.2h0M324.5 2455.8h0M297.0 2435.8h0M305.0 2454.2h0M316.7 2439.8h0M321.3 2485.4h0M304.8 2492.6h0M307.6 2447.4h0M191.7 2496.2h0M261.8 2478.6h0M320.3 2423.5h0M269.2 2473.0h0M256.5 2506.8h0M296.0 2465.5h0M259.7 2524.1h0M273.6 2516.1h0M321.3 2426.8h0M255.4 2495.1h0M316.7 2523.1h0M336.5 2532.2h0M285.9 2487.4h0M335.4 2479.7h0M347.4 2437.8h0M330.1 2488.8h0M217.4 2530.3h0M315.4 2495.8h0M255.7 2478.2h0M367.0 2465.2h0M250.4 2490.2h0M285.1 2462.2h0M265.8 2532.7h0M240.0 2565.4h0M278.6 2455.7h0M335.9 2515.3h0M257.2 2522.0h0M222.9 2461.7h0M350.4 2485.8h0M246.0 2513.5h0M341.4 2494.2h0M224.3 2482.5h0M320.0 2522.7h0M381.7 2485.9h0M281.3 2493.6h0M353.9 2461.1h0M358.1 2396.0h0M336.3 2470.7h0M321.7 2519.8h0M251.1 2491.9h0M312.3 2516.1h0M262.0 2459.3h0M219.3 2586.4h0M293.7 2487.0h0M237.7 2528.5h0M279.0 2546.7h0M338.6 2495.8h0M333.3 2455.0h0M288.0 2474.3h0M247.4 2495.6h0M295.8 2546.7h0M262.5 2478.3h0M320.1 2509.5h0M303.2 2477.9h0M323.3 2508.0h0M222.8 2485.6h0M242.9 2452.5h0M308.3 2497.2h0M306.9 2463.5h0M293.3 2462.1h0M318.4 2519.8h0M377.5 2540.6h0M267.4 2478.5h0M261.6 2506.0h0M387.2 2520.5h0M207.4 2449.7h0M246.4 2513.5h0M302.1 2505.8h0M378.6 2465.2h0M265.6 2565.8h0M316.7 2467.0h0M214.8 2440.1h0M196.9 2497.5h0M303.9 2530.7h0M296.0 2470.0h0M270.1 2563.4h0M226.1 2501.3h0M303.1 2517.2h0M284.6 2513.0h0M337.1 2489.7h0M282.3 2488.3h0M260.5 2487.5h0M289.0 2502.6h0M359.5 2542.1h0M282.9 2516.7h0M314.7 2522.4h0M302.9 2504.6h0M281.8 2466.8h0M339.5 2541.8h0M330.5 2510.7h0M313.4 2478.8h0M225.3 2518.9h0M310.6 2475.0h0M260.5 2541.0h0M224.4 2558.4h0M329.5 2580.3h0M271.1 2494.2h0M280.2 2500.6h0M293.0 2468.1h0M348.2 2466.7h0M280.2 2515.0h0M278.9 2479.4h0M317.3 2481.8h0M248.4 2491.3h0M292.5 2556.4h0M254.8 2529.9h0M268.2 2482.2h0M288.0 2504.7h0M339.1 2558.0h0M274.6 2542.9h0M344.8 2524.3h0M269.3 2527.4h0M297.4 2507.7h0M290.4 2518.9h0M349.9 2535.7h0M293.2 2530.8h0M364.4 2461.3h0M365.3 2446.9h0M325.3 2516.4h0M365.8 2505.0h0M281.3 2466.3h0M248.2 2522.6h0M291.8 2469.2h0M324.9 2467.5h0M283.2 2478.5h0M373.1 2547.7h0M295.2 2438.4h0M313.9 2497.6h0M317.0 2515.4h0M288.2 2528.3h0M338.0 2502.6h0M284.5 2477.7h0M331.8 2455.4h0M295.1 2468.0h0M242.1 2516.7h0M300.9 2496.3h0M339.6 2441.2h0M299.1 2505.4h0M337.8 2455.9h0M332.8 2502.9h0M360.3 2536.0h0M325.6 2572.3h0M301.9 2479.7h0M287.3 2461.1h0M300.8 2427.4h0M298.4 2510.3h0M344.6 2482.5h0M361.7 2471.6h0M296.2 2427.4h0M269.3 2466.5h0M364.7 2513.6h0M255.6 2513.8h0M322.2 2486.8h0M303.0 2484.3h0M279.2 2432.7h0M298.2 2540.2h0M362.1 2485.2h0M270.6 2487.6h0M339.7 2507.4h0M277.5 2507.7h0M293.3 2513.1h0M284.9 2443.3h0M304.4 2521.7h0M255.6 2491.2h0M338.8 2481.9h0M274.7 2566.3h0M336.8 2531.1h0M262.4 2552.3h0M232.6 2476.8h0M333.0 2541.6h0M263.1 2471.7h0M310.2 2427.4h0M328.7 2514.6h0M283.3 2513.8h0M334.4 2505.8h0M323.8 2547.9h0M282.1 2500.7h0M280.2 2531.1h0M285.0 2511.6h0M307.7 2497.3h0M373.6 2492.0h0M361.0 2523.8h0M357.0 2489.3h0M340.6 2521.3h0M276.4 2504.4h0M296.6 2493.8h0M356.1 2469.9h0M232.1 2434.4h0M283.2 2472.6h0M302.6 2514.7h0M375.1 2505.7h0M321.2 2469.5h0M326.1 2542.2h0M357.6 2427.1h0M338.9 2550.0h0M336.3 2443.1h0M289.3 2515.4h0M319.2 2466.9h0M265.1 2528.5h0M246.7 2544.7h0M302.8 2505.4h0M246.8 2474.3h0M330.5 2444.0h0M387.7 2446.4h0M251.4 2496.5h0M321.9 2520.4h0M286.6 2487.8h0M292.2 2475.1h0M195.4 2528.3h0M312.4 2500.5h0M276.0 2503.7h0M301.5 2492.3h0M347.7 2435.4h0M312.4 2458.1h0M288.9 2546.8h0M257.2 2491.5h0M277.6 2527.8h0M261.5 2436.8h0M323.2 2482.8h0M288.8 2532.4h0M265.3 2482.1h0M308.1 2509.3h0M280.7 2530.8h0M394.6 2480.9h0M379.2 2422.1h0M360.1 2483.1h0M307.7 2483.3h0M275.7 2450.8h0M285.7 2539.8h0M349.1 2483.0h0M280.2 2470.7h0M252.5 2557.4h0M329.4 2499.1h0M281.7 2459.7h0M356.4 2522.0h0M262.7 2529.2h0M256.3 2517.2h0M262.3 2480.7h0M322.4 2509.9h0M343.8 2466.1h0M367.2 2541.5h0M301.6 2511.1h0M269.9 2489.7h0M247.5 2498.1h0M310.2 2541.4h0M341.1 2523.2h0M287.1 2487.2h0M287.9 2502.7h0M222.3 2521.6h0M237.3 2477.2h0M302.9 2477.3h0M370.6 2491.6h0M366.9 2535.6h0M281.5 2508.9h0M355.6 2483.5h0M305.6 2475.7h0M304.4 2482.8h0M305.4 2529.6h0M359.5 2499.6h0M310.3 2524.6h0M290.0 2458.4h0M347.8 2462.7h0M340.4 2461.7h0M377.6 2458.9h0M337.0 2546.8h0M262.3 2546.3h0M268.0 2434.0h0M331.8 2519.2h0M293.6 2407.7h0M299.7 2484.4h0M286.3 2485.0h0M228.1 2475.4h0M376.3 2548.4h0M287.1 2470.4h0M318.4 2531.7h0M331.9 2454.6h0M308.7 2499.8h0M361.4 2536.3h0M323.6 2537.0h0M285.7 2548.2h0M284.4 2508.7h0M339.9 2463.4h0M273.0 2434.2h0M308.8 2493.1h0M288.5 2512.2h0M214.6 2494.2h0M305.6 2485.8h0M334.8 2555.6h0M283.6 2462.5h0M277.0 2498.2h0M326.2 2465.2h0M343.3 2459.6h0M336.1 2509.8h0M321.1 2569.6h0M291.1 2489.3h0M321.7 2524.8h0M246.7 2504.5h0M271.4 2516.8h0M358.5 2496.8h0M297.6 2501.3h0M180.0 2521.6h0M325.2 2500.7h0M285.7 2469.7h0M294.6 2536.9h0M297.8 2541.6h0M195.8 2479.1h0M313.3 2494.5h0M233.5 2472.0h0M353.6 2450.4h0M261.1 2457.1h0M279.2 2517.2h0M326.5 2424.8h0M362.3 2474.5h0M277.7 2552.6h0M298.6 2452.2h0M275.6 2469.9h0M260.3 2483.5h0M338.2 2507.1h0M245.0 2591.3h0M261.1 2499.0h0M303.3 2521.3h0M288.4 2510.8h0M388.9 2498.3h0M257.3 2506.3h0M268.9 2482.2h0M309.8 2506.6h0M290.3 2524.3h0M294.0 2449.9h0M338.2 2482.4h0M352.1 2472.4h0M325.6 2505.9h0M190.7 2443.4h0M255.8 2543.6h0M224.1 2526.6h0M347.1 2512.1h0M329.8 2477.9h0M301.6 2502.8h0M319.4 2519.4h0M293.5 2470.8h0M278.8 2509.2h0M233.4 2451.7h0M285.0 2475.9h0M290.8 2403.0h0M287.9 2486.3h0M334.0 2426.6h0M289.4 2511.4h0M322.2 2536.3h0M345.6 2458.7h0M328.3 2483.4h0M268.8 2548.1h0M276.0 2465.5h0M285.1 2465.5h0M343.6 2508.2h0M359.9 2509.2h0M276.6 2531.3h0M274.9 2479.0h0M295.1 2496.4h0M351.4 2474.0h0M316.6 2494.0h0M249.9 2457.1h0M292.9 2509.0h0M315.3 2511.6h0M304.0 2479.5h0M319.7 2460.2h0M246.4 2483.5h0M242.8 2477.2h0M271.0 2475.8h0M300.1 2467.2h0M284.5 2435.7h0M308.0 2464.4h0M318.8 2396.9h0M268.8 2503.4h0M200.8 2482.5h0M305.9 2498.6h0M240.0 2503.0h0M308.2 2461.2h0M332.9 2493.3h0M302.8 2479.4h0M324.7 2498.4h0M349.2 2510.7h0M276.4 2487.2h0M340.1 2482.3h0M317.9 2513.1h0M294.5 2414.0h0M307.5 2502.4h0M307.6 2468.6h0M352.2 2490.3h0M276.1 2470.0h0M316.9 2457.0h0M260.4 2564.6h0M356.5 2531.7h0M358.8 2515.7h0M231.9 2536.6h0M353.5 2512.1h0M220.6 2538.3h0M358.8 2477.9h0M307.3 2522.1h0M298.5 2533.3h0M305.4 2519.1h0M305.6 2443.4h0M260.5 2605.4h0M313.6 2540.7h0M349.4 2554.8h0M325.1 2474.2h0M302.8 2428.0h0M294.2 2526.6h0M211.8 2501.9h0M336.4 2541.4h0M263.4 2472.2h0M223.8 2459.4h0M324.3 2567.3h0M254.2 2543.2h0M319.8 2477.7h0M393.6 2406.9h0M299.2 2502.7h0M390.9 2557.8h0M396.6 2499.7h0M343.0 2542.7h0M323.4 2507.6h0M294.3 2480.7h0M250.6 2563.2h0M283.3 2422.2h0M313.0 2493.8h0M309.4 2558.5h0M297.6 2485.7h0M270.8 2494.2h0M283.7 2502.2h0M432.6 2508.8h0M266.2 2562.6h0M338.1 2523.6h0M331.9 2523.7h0M330.2 2544.4h0M344.1 2542.2h0M281.0 2494.9h0M271.5 2528.5h0M336.8 2478.7h0M326.5 2587.0h0M353.8 2455.9h0M298.1 2517.3h0M300.5 2508.5h0M351.4 2506.5h0M256.0 2520.1h0M297.9 2499.0h0M278.3 2446.5h0M249.8 2482.6h0M257.2 2399.8h0M350.1 2454.3h0M271.6 2513.6h0M201.1 2542.1h0M269.8 2518.1h0M281.8 2505.7h0M306.4 2495.0h0M225.5 2443.5h0M300.3 2544.4h0M279.2 2513.7h0M308.8 2512.0h0M343.5 2442.4h0M313.5 2488.8h0M288.9 2465.1h0M269.1 2458.9h0M256.0 2583.0h0M373.2 2495.3h0M333.1 2460.8h0M185.5 2431.1h0M307.9 2545.5h0M300.2 2459.9h0M291.9 2460.0h0M243.6 2486.9h0M285.3 2466.5h0M264.9 2462.4h0M311.9 2543.9h0M293.2 2573.4h0M234.2 2504.6h0M253.5 2489.3h0M306.3 2514.6h0M349.3 2475.5h0M249.9 2488.4h0M314.3 2470.5h0M339.4 2554.1h0M242.4 2507.7h0M344.6 2427.6h0M310.6 2487.1h0M242.3 2541.2h0M311.1 2478.2h0M320.6 2517.6h0M334.2 2515.4h0M319.1 2453.7h0M284.3 2499.5h0M186.0 2569.8h0M286.1 2458.0h0M225.8 2503.7h0M303.4 2474.5h0M284.5 2463.8h0M270.6 2491.6h0M275.0 2518.8h0M296.0 2499.6h0M319.0 2539.6h0M327.2 2503.0h0M295.2 2466.7h0M287.7 2518.9h0M311.5 2481.4h0M246.2 2441.2h0M315.5 2531.0h0M317.7 2446.8h0M293.1 2502.8h0M263.5 2507.2h0M293.6 2465.7h0M250.0 2523.5h0M316.9 2463.9h0M259.5 2526.2h0M327.0 2484.3h0M368.7 2484.8h0M257.7 2533.3h0M294.1 2507.1h0M303.6 2459.9h0M252.3 2488.2h0M360.9 2459.8h0M358.9 2502.7h0M255.4 2504.3h0M325.8 2463.5h0M212.8 2507.5h0M255.5 2510.4h0M222.0 2490.0h0M268.1 2443.1h0M291.9 2501.0h0M278.7 2453.6h0M310.9 2433.7h0M324.4 2512.2h0M372.2 2525.9h0M316.8 2504.2h0M303.2 2448.6h0M363.2 2513.4h0M290.0 2454.9h0M364.0 2513.6h0M252.5 2518.5h0M381.2 2494.2h0M318.7 2480.5h0M275.7 2532.5h0M430.6 2499.1h0M296.8 2522.7h0M289.3 2520.5h0M336.6 2459.5h0M257.2 2492.4h0M336.8 2504.7h0M353.8 2446.9h0M322.6 2473.2h0M306.2 2506.2h0M261.5 2487.0h0M253.4 2504.3h0M266.5 2477.7h0M311.1 2472.2h0M349.9 2472.7h0M337.4 2504.9h0M258.9 2487.4h0M267.1 2482.4h0M290.7 2558.5h0M284.5 2549.8h0M320.6 2449.4h0M205.6 2518.7h0M219.0 2520.1h0M344.9 2508.6h0M293.3 2486.2h0M312.8 2484.4h0M279.7 2482.1h0M350.8 2473.4h0M317.8 2454.8h0M272.3 2447.1h0M293.8 2518.8h0M314.7 2477.8h0M327.5 2482.9h0M317.5 2504.5h0M324.5 2408.7h0M247.8 2522.0h0M297.5 2573.2h0M292.2 2475.8h0M364.2 2514.4h0M381.0 2512.8h0M293.5 2520.2h0M269.2 2479.4h0M278.9 2487.3h0M334.4 2478.2h0M315.4 2477.6h0M338.7 2399.0h0M293.4 2500.9h0M257.2 2530.3h0M311.0 2539.6h0M342.0 2517.3h0M295.8 2457.2h0M292.8 2479.0h0M312.4 2478.8h0M429.0 2439.4h0M350.8 2478.7h0M291.9 2527.2h0M302.1 2452.8h0M319.2 2488.2h0M216.5 2501.9h0M258.2 2469.1h0M322.0 2505.4h0M289.9 2570.4h0M319.4 2473.7h0M311.8 2490.8h0M210.5 2440.2h0M244.3 2566.8h0M294.4 2485.4h0M278.6 2529.1h0M303.2 2554.3h0M334.7 2552.2h0M297.1 2508.0h0M284.0 2489.1h0M230.2 2474.8h0M262.5 2472.4h0M352.5 2504.1h0M352.8 2524.8h0M340.2 2529.9h0M276.9 2522.8h0M288.6 2476.6h0M351.5 2570.1h0M261.4 2555.3h0M336.4 2465.6h0M313.3 2507.9h0M317.6 2482.6h0M248.7 2496.1h0M337.7 2522.2h0M329.4 2533.2h0M260.9 2493.5h0M316.1 2529.7h0M308.5 2513.0h0M307.5 2567.8h0M211.5 2494.1h0M404.6 2503.2h0M226.1 2499.6h0M242.6 2471.4h0M311.3 2554.4h0M321.2 2518.2h0M344.2 2501.9h0M266.5 2491.6h0M315.9 2485.4h0M274.4 2482.6h0M239.8 2459.5h0M298.2 2482.5h0M303.6 2543.7h0M314.4 2493.9h0M253.4 2457.6h0M317.5 2464.7h0M319.8 2457.8h0M307.6 2492.5h0M343.2 2481.4h0M286.6 2503.5h0M304.3 2553.5h0M291.3 2476.4h0M288.8 2511.4h0M311.7 2519.0h0M244.7 2580.8h0M378.1 2493.9h0M252.0 2500.4h0M319.2 2417.7h0M302.6 2443.8h0M321.0 2542.9h0M344.8 2442.8h0M359.2 2526.4h0M287.1 2512.4h0M364.8 2483.5h0M301.4 2475.6h0M349.9 2420.4h0M360.7 2461.5h0M340.3 2438.7h0M263.2 2474.3h0M336.3 2438.8h0M326.9 2473.0h0M353.4 2484.2h0M322.1 2489.0h0M376.2 2482.5h0M301.0 2563.7h0M305.2 2518.8h0M271.5 2501.9h0M208.1 2498.6h0M275.2 2442.9h0M243.4 2534.5h0M319.6 2442.5h0M377.1 2470.9h0M286.7 2503.5h0M255.0 2439.0h0M271.2 2535.9h0M341.4 2440.3h0M351.8 2496.2h0M322.7 2496.8h0M319.1 2460.3h0M264.4 2470.6h0M286.8 2516.5h0M251.7 2550.2h0M275.8 2474.6h0M331.1 2510.0h0M288.0 2457.9h0M260.6 2439.6h0M349.3 2532.5h0M379.3 2512.3h0M315.8 2521.2h0M341.4 2486.0h0M316.6 2569.6h0M231.9 2446.3h0M262.1 2521.1h0M351.2 2483.3h0M329.8 2493.3h0M314.4 2476.3h0M300.9 2494.8h0M348.8 2572.3h0M226.9 2513.5h0M301.8 2528.6h0M345.9 2522.1h0M335.5 2462.1h0M231.4 2552.9h0M352.0 2462.0h0M355.4 2518.1h0M200.4 2526.2h0M261.1 2535.4h0M273.8 2469.2h0M238.0 2487.5h0M344.1 2471.7h0M225.0 2569.4h0M378.4 2518.9h0M279.7 2453.0h0M234.1 2514.4h0M355.8 2458.2h0M302.0 2485.4h0" stroke="#960f46" stroke-width="2.6" stroke-linecap="round" fill="none"/><path d="M581.8 2509.7h0M620.3 2490.0h0M599.9 2519.9h0M581.3 2498.4h0M564.0 2519.7h0M577.3 2489.7h0M587.1 2486.1h0M568.9 2495.8h0M610.4 2497.4h0M594.6 2475.6h0M554.1 2532.5h0M579.5 2474.3h0M584.3 2511.5h0M557.7 2485.7h0M590.3 2485.0h0M599.1 2517.7h0M593.3 2493.5h0M585.2 2490.0h0M583.9 2506.5h0M581.1 2517.9h0M628.6 2491.5h0M591.6 2515.3h0M596.6 2496.9h0M578.1 2518.4h0M596.3 2509.8h0M572.8 2512.0h0M599.0 2497.8h0M596.6 2538.8h0M555.2 2511.5h0M566.8 2477.3h0M582.1 2510.5h0M586.9 2480.7h0M562.4 2491.3h0M586.2 2486.6h0M561.3 2531.5h0M572.2 2498.3h0M577.0 2490.8h0M586.7 2495.8h0M596.2 2480.4h0M561.6 2535.0h0M584.8 2514.4h0M605.4 2510.6h0M586.6 2473.9h0M559.7 2518.0h0M597.1 2510.9h0M558.7 2463.8h0M568.6 2480.4h0M588.6 2483.2h0M612.1 2490.1h0M576.7 2516.1h0M591.4 2485.3h0M599.5 2534.5h0M565.8 2496.7h0M568.2 2467.1h0M596.3 2513.2h0M602.1 2508.5h0M552.8 2500.5h0M575.0 2480.4h0M567.7 2514.4h0M581.1 2535.4h0M593.8 2467.6h0M600.8 2522.8h0M586.5 2479.8h0M615.2 2478.0h0M584.6 2467.6h0M565.3 2471.2h0M604.0 2521.6h0M579.3 2477.3h0M585.0 2507.6h0M560.8 2480.7h0M584.3 2513.3h0M587.2 2508.9h0M565.3 2457.3h0M591.2 2484.9h0M583.9 2494.4h0M594.0 2487.4h0M609.9 2501.5h0M594.8 2512.1h0M603.2 2508.1h0M557.0 2490.0h0M616.9 2509.3h0M595.3 2509.2h0M575.4 2489.1h0M575.3 2521.4h0M592.1 2532.3h0M594.3 2534.3h0M593.6 2480.2h0M615.0 2506.9h0M605.8 2504.8h0M580.6 2504.0h0M567.3 2479.9h0M571.2 2491.7h0M563.4 2499.2h0M591.1 2536.8h0M616.7 2500.1h0M600.8 2497.1h0M592.5 2500.4h0M577.0 2502.3h0M561.3 2508.8h0M581.2 2481.9h0M580.0 2510.8h0M574.6 2509.4h0M595.5 2528.6h0M567.8 2499.0h0M594.6 2527.6h0M590.4 2514.4h0M561.4 2490.7h0M613.8 2496.0h0M622.2 2488.1h0M581.3 2472.7h0M596.7 2505.7h0M619.8 2503.9h0M581.8 2476.0h0M584.6 2517.8h0M598.4 2522.8h0M600.5 2500.2h0M596.1 2504.1h0M563.6 2531.4h0M592.3 2482.3h0M592.5 2506.1h0M602.7 2526.7h0M534.9 2510.9h0M611.7 2484.1h0M554.8 2506.0h0M591.7 2507.2h0M567.3 2492.7h0M589.3 2514.3h0M622.9 2506.2h0M575.9 2459.0h0M604.1 2498.6h0M584.2 2483.4h0M598.4 2469.0h0M587.8 2503.2h0M591.1 2524.3h0M584.3 2502.7h0M600.4 2473.3h0M581.1 2502.2h0M602.1 2486.7h0M599.6 2507.9h0M560.9 2474.6h0M561.8 2503.5h0M589.5 2513.9h0M599.9 2491.1h0M604.1 2515.6h0M594.0 2509.6h0M564.3 2507.5h0M568.6 2479.7h0M580.1 2503.5h0M585.1 2495.1h0M569.1 2504.3h0M573.5 2475.8h0M587.6 2527.0h0M579.2 2482.0h0M609.4 2531.6h0M581.0 2497.2h0M589.6 2553.8h0M588.3 2518.8h0M593.5 2468.4h0M567.4 2478.9h0M593.3 2502.9h0M616.3 2496.2h0M591.2 2502.3h0M588.4 2542.5h0M590.8 2527.4h0M608.0 2490.1h0M597.6 2494.2h0M587.9 2503.8h0M586.4 2492.6h0M612.4 2496.2h0M597.9 2531.1h0M596.6 2519.4h0M609.5 2520.5h0M615.1 2475.4h0M619.2 2501.5h0M556.4 2489.5h0M562.4 2500.6h0M560.7 2482.9h0M591.0 2503.8h0M572.5 2496.8h0M584.3 2502.3h0M585.9 2497.0h0M600.9 2472.1h0M577.6 2503.4h0M579.2 2491.1h0M578.6 2504.8h0M607.1 2497.7h0M581.5 2507.4h0M581.9 2466.2h0M590.6 2494.2h0M576.3 2512.3h0M586.7 2490.8h0M549.0 2470.1h0M586.2 2498.9h0M593.4 2505.0h0M577.9 2478.2h0M567.4 2498.5h0M566.5 2514.6h0M563.5 2468.8h0M582.7 2469.1h0M613.7 2483.1h0M585.1 2496.6h0M572.1 2469.2h0M554.4 2516.6h0M603.4 2539.9h0M561.1 2511.1h0M585.8 2516.2h0M577.3 2514.0h0M601.2 2511.9h0M610.6 2497.9h0M612.2 2488.4h0M586.2 2486.6h0M586.0 2519.6h0M598.2 2502.7h0M614.9 2474.4h0M572.2 2528.2h0M591.6 2463.7h0M591.8 2479.7h0M611.1 2521.6h0M576.7 2524.3h0M571.8 2517.6h0M595.8 2498.7h0M561.8 2496.0h0M547.1 2490.9h0M554.5 2522.9h0M569.6 2457.2h0M595.9 2507.6h0M577.4 2539.1h0M599.1 2502.2h0M594.2 2518.3h0M575.9 2475.6h0M585.3 2470.9h0M586.1 2514.9h0M611.7 2505.8h0M589.3 2514.5h0M609.8 2495.3h0M565.1 2486.8h0M564.6 2485.0h0M583.9 2507.2h0M588.7 2502.3h0M579.9 2508.6h0M601.1 2514.7h0M611.5 2495.8h0M581.7 2531.5h0M589.4 2508.4h0M580.3 2518.4h0M579.2 2482.9h0M585.0 2493.0h0M600.2 2494.2h0M588.1 2497.1h0M591.8 2489.7h0M604.8 2475.4h0M579.4 2488.2h0M597.0 2501.7h0M594.2 2495.1h0M573.8 2480.8h0M580.3 2491.4h0M590.8 2507.4h0M602.6 2499.1h0M573.3 2481.9h0M587.0 2507.5h0M619.1 2504.3h0M615.9 2534.7h0M568.2 2522.8h0M605.3 2525.2h0M585.8 2518.2h0M577.8 2499.7h0M586.3 2533.1h0M582.3 2518.2h0M587.1 2488.2h0M590.1 2512.9h0M573.9 2512.4h0M573.9 2485.2h0M589.7 2496.8h0M569.3 2471.7h0M586.4 2505.4h0M578.2 2504.4h0M560.0 2508.1h0M593.1 2506.0h0M575.6 2502.4h0M588.2 2520.2h0M590.7 2505.6h0M573.7 2516.5h0M605.9 2492.1h0M596.9 2506.5h0M585.2 2477.9h0M615.9 2467.4h0M591.1 2494.2h0M605.5 2493.4h0M586.7 2512.0h0M593.7 2491.7h0M597.6 2508.0h0M602.8 2491.8h0M585.2 2494.0h0M571.8 2505.6h0M592.9 2526.5h0M580.5 2508.0h0M605.4 2499.0h0M587.1 2503.4h0M574.3 2483.3h0M604.9 2504.1h0M584.7 2478.7h0M588.0 2522.1h0M566.5 2485.0h0M604.8 2526.7h0M612.3 2491.1h0M596.2 2487.5h0M594.8 2494.5h0M589.3 2525.0h0M591.7 2496.7h0M586.9 2505.8h0M577.3 2504.7h0M596.2 2528.9h0M551.1 2479.7h0M565.1 2516.7h0M627.3 2504.5h0M588.1 2521.4h0M544.7 2497.8h0M533.3 2503.8h0M577.4 2492.3h0M591.7 2490.6h0M604.8 2500.9h0M592.4 2546.4h0M578.4 2517.6h0M572.0 2523.3h0M602.3 2503.5h0M602.7 2529.8h0M609.3 2501.0h0M585.1 2520.8h0M561.2 2490.2h0M594.2 2511.2h0M617.4 2532.4h0M591.5 2508.9h0M563.8 2497.7h0M590.4 2497.0h0M587.0 2511.8h0M570.0 2490.9h0M556.1 2521.4h0M568.2 2470.6h0M599.0 2497.2h0M602.3 2494.4h0M621.8 2513.7h0M588.5 2503.1h0M582.5 2515.4h0M619.6 2493.5h0M567.7 2511.6h0M603.9 2474.4h0M574.4 2483.3h0M595.4 2510.0h0M573.7 2481.0h0M597.5 2464.4h0M596.8 2498.2h0M618.2 2518.7h0M576.3 2496.1h0M581.4 2488.1h0M587.4 2518.1h0M560.7 2497.0h0M611.0 2514.2h0M572.4 2486.7h0M571.7 2472.5h0M605.3 2502.2h0M574.3 2475.6h0M579.6 2491.9h0M614.8 2492.9h0M587.9 2520.0h0M597.2 2497.8h0M549.5 2525.8h0M596.0 2493.3h0M584.5 2484.1h0M571.0 2474.7h0M594.4 2510.2h0M588.9 2514.8h0M595.0 2503.2h0M571.2 2511.5h0M605.8 2512.2h0M606.9 2492.6h0M569.6 2523.1h0M576.3 2505.3h0M582.8 2501.4h0M581.5 2491.5h0M556.2 2534.7h0M589.4 2467.0h0M570.9 2481.1h0M573.6 2456.0h0M595.6 2530.0h0M581.9 2514.1h0M596.0 2479.0h0M606.3 2471.2h0M576.4 2494.7h0M606.9 2503.1h0M583.9 2486.8h0M587.5 2501.7h0M598.2 2525.6h0M598.3 2501.3h0M583.5 2529.2h0M589.3 2500.7h0M615.9 2528.6h0M595.5 2499.1h0M575.4 2519.8h0M578.5 2517.9h0M573.0 2502.8h0M592.7 2503.6h0M589.9 2507.7h0M567.3 2481.5h0M583.6 2532.8h0M583.9 2484.7h0M575.0 2501.6h0M605.7 2491.0h0M595.3 2504.3h0M580.1 2484.4h0M583.5 2488.3h0M594.9 2470.0h0M604.7 2514.3h0M595.6 2527.3h0M596.0 2471.0h0M586.9 2508.9h0M574.7 2481.1h0M593.2 2510.0h0M578.9 2496.7h0M577.6 2491.0h0M585.0 2519.9h0M654.3 2495.0h0M707.8 2506.6h0M683.6 2515.7h0M664.4 2479.8h0M653.5 2475.4h0M685.1 2515.9h0M674.1 2489.1h0M687.7 2511.8h0M685.3 2467.6h0M672.0 2456.6h0M685.0 2486.1h0M670.1 2527.4h0M702.9 2509.5h0M685.6 2504.0h0M671.3 2500.1h0M712.7 2485.7h0M670.0 2503.8h0M695.8 2515.6h0M665.0 2498.7h0M676.6 2479.4h0M682.3 2492.6h0M696.2 2508.6h0M668.1 2502.4h0M675.1 2489.9h0M673.0 2519.6h0M674.2 2471.0h0M668.2 2515.1h0M716.6 2482.6h0M675.1 2495.2h0M657.7 2508.0h0M680.2 2505.9h0M718.0 2496.3h0M694.1 2515.6h0M670.5 2490.6h0M706.7 2513.5h0M683.4 2481.9h0M695.6 2510.2h0M717.3 2526.8h0M694.3 2505.7h0M682.0 2491.4h0M686.1 2505.3h0M691.8 2520.0h0M686.2 2491.5h0M694.3 2528.2h0M667.2 2508.4h0M690.1 2510.4h0M689.3 2499.4h0M679.3 2530.5h0M709.6 2476.5h0M639.1 2508.7h0M669.9 2492.0h0M654.7 2507.2h0M680.1 2491.6h0M695.9 2543.6h0M705.4 2521.5h0M674.2 2512.5h0M680.4 2521.2h0M690.6 2500.4h0M690.1 2488.5h0M694.1 2527.3h0M675.0 2510.7h0M653.5 2517.4h0M695.5 2483.2h0M709.8 2503.0h0M652.4 2477.1h0M695.4 2496.2h0M699.2 2473.9h0M679.4 2518.1h0M669.8 2512.9h0M675.1 2507.0h0M686.3 2540.1h0M660.6 2514.6h0M702.7 2481.3h0M682.3 2541.4h0M677.1 2471.1h0M686.0 2488.3h0M671.7 2486.4h0M685.9 2492.9h0M666.1 2497.0h0M687.7 2486.0h0M699.3 2472.0h0M687.7 2494.2h0M707.0 2489.8h0M670.0 2477.5h0M713.8 2511.8h0M663.1 2495.1h0M665.2 2527.6h0M687.9 2465.4h0M684.5 2517.0h0M681.0 2509.3h0M679.2 2504.7h0M684.5 2488.6h0M686.7 2503.9h0M680.4 2489.0h0M664.3 2505.3h0M694.6 2458.7h0M672.2 2524.7h0M696.1 2488.5h0M703.3 2483.7h0M668.0 2534.9h0M673.8 2497.2h0M653.7 2483.3h0M661.6 2498.6h0M650.7 2519.6h0M675.1 2490.4h0M670.5 2514.0h0M706.4 2493.9h0M707.7 2529.2h0M703.2 2506.2h0M656.4 2512.8h0M674.2 2504.4h0M649.8 2496.1h0M684.9 2484.6h0M685.9 2530.3h0M684.8 2489.0h0M665.8 2508.2h0M671.2 2460.8h0M685.3 2515.6h0M667.9 2526.7h0M689.3 2521.9h0M655.7 2500.9h0M707.5 2536.3h0M702.8 2501.0h0M684.0 2490.0h0M699.2 2488.8h0M683.0 2464.8h0M656.1 2532.2h0M682.0 2504.8h0M644.6 2500.4h0M715.3 2474.8h0M641.6 2498.2h0M672.2 2497.3h0M660.2 2477.2h0M660.5 2512.3h0M680.2 2515.4h0M663.1 2511.4h0M673.7 2502.6h0M696.5 2501.6h0M675.2 2471.7h0M682.1 2514.8h0M670.5 2499.8h0M651.6 2477.5h0M687.7 2523.8h0M675.8 2471.6h0M674.7 2473.5h0M676.4 2535.0h0M686.0 2498.3h0M698.3 2494.3h0M686.5 2504.5h0M688.4 2475.1h0M692.8 2516.6h0M666.1 2527.3h0M681.3 2513.0h0M690.2 2516.7h0M670.4 2490.7h0M687.3 2511.8h0M690.6 2507.0h0M672.9 2520.5h0M688.9 2519.8h0M638.5 2518.9h0M640.2 2504.7h0M669.9 2503.1h0M673.0 2495.5h0M684.2 2507.1h0M667.6 2456.2h0M667.9 2510.6h0M666.9 2508.6h0M674.8 2484.3h0M700.6 2530.4h0M679.3 2500.1h0M697.1 2477.4h0M666.4 2521.1h0M696.1 2492.2h0M668.0 2507.2h0M657.4 2492.1h0M677.1 2457.2h0M690.9 2514.6h0M698.9 2475.4h0M659.4 2486.5h0M659.1 2537.6h0M664.6 2495.4h0M684.5 2509.1h0M705.4 2481.6h0M695.8 2503.7h0M661.3 2503.7h0M657.4 2529.9h0M668.7 2519.0h0M702.9 2490.0h0M665.9 2503.3h0M663.3 2517.1h0M684.0 2487.4h0M669.4 2514.0h0M656.5 2531.2h0M667.7 2497.5h0M665.4 2530.0h0M694.9 2524.3h0M692.0 2502.6h0M709.6 2512.9h0M688.4 2511.3h0M693.4 2506.0h0M678.2 2472.4h0M715.8 2477.7h0M644.6 2488.2h0M713.7 2522.9h0M670.8 2505.7h0M680.6 2465.4h0M675.3 2506.2h0M700.9 2479.4h0M642.8 2472.7h0M686.6 2502.4h0M683.5 2503.7h0M674.8 2476.5h0M688.7 2507.9h0M690.8 2523.4h0M660.0 2459.0h0M650.7 2539.4h0M665.5 2508.2h0M680.7 2514.1h0M678.1 2490.3h0M685.2 2510.4h0M664.5 2524.7h0M700.5 2509.0h0M679.1 2496.7h0M653.1 2512.8h0M664.4 2492.0h0M697.9 2484.5h0M672.1 2516.4h0M712.6 2488.6h0M699.8 2489.2h0M687.6 2509.7h0M661.6 2519.5h0M711.6 2501.9h0M685.6 2479.9h0M711.4 2502.1h0M659.3 2514.8h0M656.2 2488.6h0M644.8 2525.8h0M718.6 2489.6h0M669.9 2490.6h0M671.4 2511.0h0M705.8 2482.9h0M688.5 2468.6h0M706.9 2499.4h0M669.1 2528.6h0M679.2 2525.7h0M699.3 2530.8h0M667.4 2502.0h0M687.3 2497.5h0M706.9 2488.1h0M698.0 2525.5h0M647.8 2483.5h0M665.6 2491.2h0M687.6 2497.9h0M682.3 2492.7h0M679.6 2509.7h0M693.7 2486.9h0M679.1 2487.3h0M678.0 2475.2h0M697.2 2513.1h0M678.9 2488.7h0M673.2 2489.0h0M654.8 2530.4h0M661.2 2511.4h0M691.3 2472.7h0M648.3 2510.8h0M647.1 2526.6h0M672.6 2502.5h0M680.9 2490.9h0M678.6 2495.6h0M702.2 2499.3h0M680.5 2491.5h0M670.2 2487.7h0M681.2 2534.1h0M700.0 2505.3h0M709.4 2519.2h0M684.5 2498.0h0M662.3 2505.5h0M675.6 2472.5h0M659.2 2535.9h0M684.6 2510.0h0M684.4 2492.6h0M688.8 2520.5h0M675.8 2510.2h0M698.4 2492.3h0M683.9 2487.7h0M691.3 2494.4h0M700.5 2487.2h0M709.7 2495.4h0M666.7 2484.7h0M692.3 2485.6h0M711.7 2524.1h0M689.8 2475.4h0M680.6 2487.9h0M650.2 2508.7h0M718.4 2491.4h0M694.8 2524.1h0M664.7 2494.9h0M685.6 2509.5h0M661.5 2504.9h0M679.2 2518.1h0M653.8 2490.8h0M672.4 2495.3h0M693.3 2489.7h0M727.5 2488.3h0M695.3 2519.4h0M697.4 2497.3h0M666.9 2496.4h0M692.3 2503.2h0M690.9 2511.3h0M666.0 2484.2h0M705.5 2492.3h0M654.1 2534.5h0M666.8 2484.2h0M697.4 2480.6h0M666.2 2519.9h0M667.1 2546.1h0M682.7 2549.3h0M683.2 2502.0h0M670.1 2497.0h0M672.5 2500.6h0M694.1 2478.1h0M665.4 2463.3h0M706.6 2499.7h0M680.8 2500.0h0M698.1 2506.8h0M695.5 2498.0h0M678.9 2500.0h0M649.3 2520.6h0M654.2 2483.1h0M692.4 2502.0h0M694.8 2531.7h0M712.7 2525.9h0M677.2 2537.9h0M666.0 2499.4h0M697.9 2497.2h0M678.9 2494.6h0M704.2 2456.6h0M702.6 2520.1h0M679.8 2511.1h0M664.5 2521.0h0M704.7 2500.0h0M675.3 2492.2h0M677.8 2478.5h0M657.9 2530.9h0M680.7 2510.9h0M686.3 2509.6h0M655.1 2483.9h0M691.8 2519.0h0M661.5 2490.6h0M662.8 2512.8h0M686.9 2501.6h0M670.0 2507.2h0M681.5 2487.6h0M686.7 2489.0h0M697.2 2512.3h0M669.3 2511.6h0M682.1 2488.3h0M665.5 2471.1h0M661.8 2507.2h0M701.5 2489.7h0M683.7 2507.2h0M694.3 2509.0h0M701.9 2514.8h0M668.0 2508.1h0M641.2 2497.8h0M681.3 2511.4h0M675.9 2516.0h0M703.5 2485.9h0M671.8 2505.7h0M689.3 2503.6h0M695.1 2479.7h0M694.2 2522.0h0M699.9 2508.7h0M677.0 2508.2h0M679.7 2472.4h0M670.7 2500.3h0M672.2 2484.2h0M677.1 2494.3h0M682.2 2500.1h0M683.9 2518.9h0M683.3 2508.3h0M674.2 2513.2h0M675.2 2489.8h0M659.9 2517.1h0M672.0 2505.4h0M700.2 2510.6h0M719.1 2498.6h0M697.3 2513.5h0M669.9 2501.9h0M671.4 2482.6h0M686.1 2487.1h0M709.6 2487.7h0M671.7 2502.6h0M672.2 2502.0h0M670.7 2475.4h0M640.0 2477.8h0M706.9 2509.0h0M683.6 2492.6h0M678.5 2506.4h0M657.4 2486.6h0M665.9 2523.7h0M663.0 2522.1h0M673.1 2550.1h0M679.7 2501.6h0M704.0 2516.7h0M697.0 2481.8h0M700.3 2531.2h0M679.3 2492.3h0M662.4 2519.3h0M686.0 2501.1h0M660.0 2530.2h0M695.9 2500.6h0M706.1 2483.9h0M696.0 2483.0h0M705.0 2496.0h0M701.8 2493.5h0M687.8 2521.6h0M665.7 2502.7h0M666.7 2516.3h0M670.7 2494.3h0" stroke="#4a8a22" stroke-width="2.6" stroke-linecap="round" fill="none"/><path d="M445 2495.5H492V2498.7H445Z M490 2491 L507 2497.1 L490 2503.2Z" fill="#000"/></svg>
<svg class="ab" style="left:1720px;top:2262px" width="440" height="345" viewBox="1720 2262 440 345" font-family="DejaVu Sans,sans-serif"><rect x="1762.6" y="2285.5" width="377.7" height="280.7" fill="#fff"/><path d="M1776.0 2285.5V2566.2M1845.3 2285.5V2566.2M1914.6 2285.5V2566.2M1983.9 2285.5V2566.2M2053.2 2285.5V2566.2M2122.5 2285.5V2566.2M1762.6 2555.3H2140.3M1762.6 2514.7H2140.3M1762.6 2474.2H2140.3M1762.6 2433.6H2140.3M1762.6 2393.1H2140.3M1762.6 2352.5H2140.3M1762.6 2311.9H2140.3" stroke="#b0b0b0" stroke-width="0.55" fill="none"/><path d="M1779.5 2324.1L1810.7 2352.5L1880.0 2358.6L1983.9 2364.7L2122.5 2368.7L2122.5 2382.9L1983.9 2373.8L1880.0 2389.0L1810.7 2394.1L1779.5 2449.8Z" fill="#00f" fill-opacity="0.2"/><path d="M1779.5 2297.7L1810.7 2336.3L1880.0 2340.3L1983.9 2348.4L2122.5 2352.5L2122.5 2361.6L1983.9 2360.6L1880.0 2364.7L1810.7 2374.8L1779.5 2397.1Z" fill="#e8a33d" fill-opacity="0.2"/><path d="M1779.5 2336.3L1810.7 2336.3L1880.0 2348.4L1983.9 2348.4L2122.5 2345.4L2122.5 2352.5L1983.9 2356.6L1880.0 2356.6L1810.7 2365.7L1779.5 2382.9Z" fill="#3f7f1f" fill-opacity="0.2"/><path d="M1779.5 2387.0L1810.7 2511.7L1880.0 2541.1L1983.9 2552.9L2122.5 2553.7" fill="none" stroke="#00f" stroke-width="1.0" stroke-dasharray="1 1.6"/><circle cx="1779.5" cy="2387.0" r="2.5" fill="#00f"/><circle cx="1810.7" cy="2511.7" r="2.5" fill="#00f"/><circle cx="1880.0" cy="2541.1" r="2.5" fill="#00f"/><circle cx="1983.9" cy="2552.9" r="2.5" fill="#00f"/><circle cx="2122.5" cy="2553.7" r="2.5" fill="#00f"/><path d="M1779.5 2370.8L1810.7 2497.5L1880.0 2536.0L1983.9 2545.2L2122.5 2549.2" fill="none" stroke="#e8a33d" stroke-width="1.0" stroke-dasharray="1 1.6"/><rect x="1777.1" y="2368.4" width="4.8" height="4.8" fill="#e8a33d"/><rect x="1808.3" y="2495.1" width="4.8" height="4.8" fill="#e8a33d"/><rect x="1877.6" y="2533.7" width="4.8" height="4.8" fill="#e8a33d"/><rect x="1981.5" y="2542.8" width="4.8" height="4.8" fill="#e8a33d"/><rect x="2120.1" y="2546.8" width="4.8" height="4.8" fill="#e8a33d"/><path d="M1779.5 2383.9L1810.7 2489.4L1880.0 2533.0L1983.9 2544.1L2122.5 2548.2" fill="none" stroke="#3f7f1f" stroke-width="1.0" stroke-dasharray="1 1.6"/><path d="M1779.5 2380.6l3.4 3.4l-3.4 3.4l-3.4 -3.4z" fill="#3f7f1f"/><path d="M1810.7 2486.0l3.4 3.4l-3.4 3.4l-3.4 -3.4z" fill="#3f7f1f"/><path d="M1880.0 2529.6l3.4 3.4l-3.4 3.4l-3.4 -3.4z" fill="#3f7f1f"/><path d="M1983.9 2540.8l3.4 3.4l-3.4 3.4l-3.4 -3.4z" fill="#3f7f1f"/><path d="M2122.5 2544.8l3.4 3.4l-3.4 3.4l-3.4 -3.4z" fill="#3f7f1f"/><path d="M1779.5 2387.0L1810.7 2373.8L1880.0 2373.8L1983.9 2369.1L2122.5 2375.8" fill="none" stroke="#00f" stroke-width="1.0"/><circle cx="1779.5" cy="2387.0" r="2.5" fill="#00f"/><circle cx="1810.7" cy="2373.8" r="2.5" fill="#00f"/><circle cx="1880.0" cy="2373.8" r="2.5" fill="#00f"/><circle cx="1983.9" cy="2369.1" r="2.5" fill="#00f"/><circle cx="2122.5" cy="2375.8" r="2.5" fill="#00f"/><path d="M1779.5 2348.0L1810.7 2355.5L1880.0 2353.5L1983.9 2354.5L2122.5 2357.6" fill="none" stroke="#e8a33d" stroke-width="1.0"/><rect x="1777.1" y="2345.7" width="4.8" height="4.8" fill="#e8a33d"/><rect x="1808.3" y="2353.2" width="4.8" height="4.8" fill="#e8a33d"/><rect x="1877.6" y="2351.1" width="4.8" height="4.8" fill="#e8a33d"/><rect x="1981.5" y="2352.2" width="4.8" height="4.8" fill="#e8a33d"/><rect x="2120.1" y="2355.2" width="4.8" height="4.8" fill="#e8a33d"/><path d="M1779.5 2360.2L1810.7 2350.9L1880.0 2352.5L1983.9 2352.5L2122.5 2348.4" fill="none" stroke="#3f7f1f" stroke-width="1.0"/><path d="M1779.5 2356.8l3.4 3.4l-3.4 3.4l-3.4 -3.4z" fill="#3f7f1f"/><path d="M1810.7 2347.5l3.4 3.4l-3.4 3.4l-3.4 -3.4z" fill="#3f7f1f"/><path d="M1880.0 2349.1l3.4 3.4l-3.4 3.4l-3.4 -3.4z" fill="#3f7f1f"/><path d="M1983.9 2349.1l3.4 3.4l-3.4 3.4l-3.4 -3.4z" fill="#3f7f1f"/><path d="M2122.5 2345.1l3.4 3.4l-3.4 3.4l-3.4 -3.4z" fill="#3f7f1f"/><path d="M1762.6 2352.5H2140.3" stroke="#f00" stroke-width="1.0" stroke-dasharray="3.2 1.4"/><rect x="1762.6" y="2285.5" width="377.7" height="280.7" fill="none" stroke="#222" stroke-width="0.6"/><path d="M1776.0 2566.2v2.3M1845.3 2566.2v2.3M1914.6 2566.2v2.3M1983.9 2566.2v2.3M2053.2 2566.2v2.3M2122.5 2566.2v2.3M1762.6 2555.3h-2.3M1762.6 2514.7h-2.3M1762.6 2474.2h-2.3M1762.6 2433.6h-2.3M1762.6 2393.1h-2.3M1762.6 2352.5h-2.3M1762.6 2311.9h-2.3" stroke="#222" stroke-width="0.6"/><g font-size="8.35" fill="#222" text-anchor="middle"><text x="1776.0" y="2579.2">0</text><text x="1845.3" y="2579.2">20</text><text x="1914.6" y="2579.2">40</text><text x="1983.9" y="2579.2">60</text><text x="2053.2" y="2579.2">80</text><text x="2122.5" y="2579.2">100</text></g><g font-size="8.35" fill="#222" text-anchor="end"><text x="1758.6" y="2558.1">0.0</text><text x="1758.6" y="2517.5">0.2</text><text x="1758.6" y="2477.0">0.4</text><text x="1758.6" y="2436.4">0.6</text><text x="1758.6" y="2395.9">0.8</text><text x="1758.6" y="2355.3">1.0</text><text x="1758.6" y="2314.7">1.2</text></g><text x="1951.5" y="2591.6" font-size="10.15" fill="#111" text-anchor="middle">Dimension (d)</text><text transform="translate(1737.6 2425.8) rotate(-90)" font-size="10.15" fill="#111" text-anchor="middle">Dimension-averaged Marginal Variance</text><text x="1951.5" y="2280.3" font-size="10.15" fill="#111" text-anchor="middle">Dimension-averaged Marginal Variance vs. Dimension with RBF Kernel</text><path d="M1944 2443.8h21" stroke="#00f" stroke-width="1.0" stroke-dasharray="1 1.6"/><circle cx="1954.5" cy="2443.8" r="2.5" fill="#00f"/><text x="1972.5" y="2447.1" font-size="10.15" fill="#111">λ = 0, n = 10</text><path d="M1944 2458.9h21" stroke="#e8a33d" stroke-width="1.0" stroke-dasharray="1 1.6"/><rect x="1952.1" y="2456.5" width="4.8" height="4.8" fill="#e8a33d"/><text x="1972.5" y="2462.2" font-size="10.15" fill="#111">λ = 0, n = 20</text><path d="M1944 2474.2h21" stroke="#3f7f1f" stroke-width="1.0" stroke-dasharray="1 1.6"/><path d="M1954.5 2470.8l3.4 3.4l-3.4 3.4l-3.4 -3.4z" fill="#3f7f1f"/><text x="1972.5" y="2477.5" font-size="10.15" fill="#111">λ = 0, n = 30</text><path d="M1944 2489.3h21" stroke="#00f" stroke-width="1.0"/><circle cx="1954.5" cy="2489.3" r="2.5" fill="#00f"/><text x="1972.5" y="2492.6" font-size="10.15" fill="#111">λ = 2.0, n = 10</text><path d="M1944 2504.6h21" stroke="#e8a33d" stroke-width="1.0"/><rect x="1952.1" y="2502.2" width="4.8" height="4.8" fill="#e8a33d"/><text x="1972.5" y="2507.9" font-size="10.15" fill="#111">λ = 2.0, n = 20</text><path d="M1944 2519.7h21" stroke="#3f7f1f" stroke-width="1.0"/><path d="M1954.5 2516.3l3.4 3.4l-3.4 3.4l-3.4 -3.4z" fill="#3f7f1f"/><text x="1972.5" y="2523.0" font-size="10.15" fill="#111">λ = 2.0, n = 30</text><path d="M1944 2535h21" stroke="#f00" stroke-width="1.0" stroke-dasharray="3.2 1.4"/><text x="1972.5" y="2538.3" font-size="10.15" fill="#111">Ground truth (variance = 1)</text></svg>
<div class="L b" style="left:47.0px;top:-124.5px;font-size:68.54px;color:#fff"><span class="t" style="letter-spacing:-2.34px">Long-time asymptotics of noisy SVGD outside the population limit</span></div>
<div class="L" style="left:47.0px;top:24.8px;font-size:57.12px;color:#fff"><span class="t" style="letter-spacing:0.04px">Victor Priser</span><span class="tsup"><span class="t" style="letter-spacing:0.95px">1</span></span><span class="t" style="letter-spacing:-1.59px">, Pascal Bianchi</span><span class="tsup"><span class="t" style="letter-spacing:0.95px">1</span></span><span class="t" style="letter-spacing:-0.88px"> and Adil Salim</span><span class="tsup"><span class="t" style="letter-spacing:0.95px">2</span></span></div>
<div class="L" style="left:47.0px;top:105.5px;font-size:47.60px;color:#fff"><span class="tsup"><span class="t" style="letter-spacing:0.80px">1</span></span><span class="t" style="letter-spacing:-1.78px">Télécom Paris —LTCI, France; </span><span class="tsup"><span class="t" style="letter-spacing:0.80px">2</span></span><span class="t" style="letter-spacing:-0.76px"> Microsoft Research, USA</span></div>
<div class="L sb" style="left:3059.3px;top:31.0px;font-size:27.54px;color:#fff"><span class="t" style="letter-spacing:-0.40px">This research was funded by the chair DSAIDIS (Data</span></div>
<div class="L sb" style="left:3043.9px;top:63.7px;font-size:27.54px;color:#fff"><span class="t" style="letter-spacing:-0.01px">Science &amp; Artificial Intelligence for Digitalized Industry</span></div>
<div class="L sb" style="left:3564.0px;top:96.4px;font-size:27.54px;color:#fff"><span class="t" style="letter-spacing:-0.71px">&amp; Services)</span></div>
<div class="L b" style="left:78.0px;top:288.5px;font-size:47.60px;color:#960f46"><span class="t" style="letter-spacing:-0.93px">Objective</span></div>
<div class="L" style="left:78.0px;top:389.5px"><span class="em"><span class="t" style="letter-spacing:-1.00px">Target density:</span></span><span class="t" style="letter-spacing:-0.72px"> </span><span class="m"><i class="g0">π</i><span class="sp q3" style="margin-left:0.278em"></span><span class="y g1">∝</span><span class="sp q3" style="margin-left:0.278em"></span><span class="r g2">exp</span><span class="r g3">(</span><span class="r g4">−</span><i class="g5">F</i><span class="r g3">)</span></span><span class="t" style="letter-spacing:-1.38px">.</span></div>
<div class="L" style="left:78.0px;top:430.8px"><span class="em"><span class="t" style="letter-spacing:-0.82px">Objective</span></span><span class="t" style="letter-spacing:-0.52px">: Generate </span><span class="m"><i class="g6">n</i></span><span class="t" style="letter-spacing:-0.72px"> </span><span class="em"><span class="t" style="letter-spacing:-0.78px">particles</span></span><span class="t" style="letter-spacing:-0.72px"> </span><span class="m"><span class="r g3">(</span><i class="g7">X</i><span class="su s1"><span class="r g8">1</span></span><span class="r g9">,</span><span class="sp" style="margin-left:0.167em"></span><span class="r g10">...</span><span class="sp" style="margin-left:0.167em"></span><span class="r g9">,</span><span class="sp" style="margin-left:0.167em"></span><i class="g7">X</i><span class="su s1"><i class="g11">n</i></span><span class="r g3">)</span></span><span class="t" style="letter-spacing:-0.61px"> s.t.</span></div>
<div class="L" style="left:352.5px;top:504.5px"><span class="m dm"><span class="fr"><span class="n"><span class="r g12">1</span></span><span class="dn"><i class="g6">n</i></span></span><span class="sp" style="margin-left:0.167em"></span><span class="bo"><span class="hi"><i class="g11">n</i></span><span class="o"><span class="big">∑</span></span><span class="lo"><i class="g13">i</i><span class="r g14">=</span><span class="r g8">1</span></span></span><span class="sp" style="margin-left:0.167em"></span><i class="g15">δ</i><span class="sd s1"><i class="g16">X</i><span class="su s2"><i class="g17">i</i></span></span><span class="sp q3" style="margin-left:0.278em"></span><span class="y g18">≃</span><span class="sp q3" style="margin-left:0.278em"></span><i class="g0">π</i></span></div>
<div class="L" style="left:78.0px;top:582.5px"><span class="m"><i class="g15">δ</i><span class="sd s1"><i class="g19">x</i></span></span><span class="t" style="letter-spacing:-0.55px">: dirac measure in </span><span class="m"><i class="g20">x</i></span><span class="t" style="letter-spacing:-1.38px">.</span></div>
<div class="L b" style="left:122.5px;top:643.0px;color:#fff"><span class="t" style="letter-spacing:-1.22px">Example with a Gaussian mixture centered in</span></div>
<div class="L b" style="left:399.4px;top:686.1px;color:#fff"><span class="m"><i class="g21">m</i><span class="sd s1"><span class="r g8">1</span></span><span class="r g9">,</span><span class="sp" style="margin-left:0.167em"></span><i class="g21">m</i><span class="sd s1"><span class="r g8">2</span></span></span><span class="t" style="letter-spacing:-2.50px">:</span></div>
<div class="L" style="left:94.0px;top:746.0px;word-spacing:-0.51px;--q3:-0.97px;--q2:-0.41px"><span class="t" style="letter-spacing:-0.53px">We use </span><span class="m"><i class="g5">F</i><span class="r g3">(</span><i class="g20">x</i><span class="r g3">)</span><span class="sp q3" style="margin-left:0.278em"></span><span class="r g4">=</span><span class="sp q3" style="margin-left:0.278em"></span><span class="dl" style="width:0.500em"><span class="y" style="transform:translateY(0.025em) scale(1.00,1.18);transform-origin:50% 0.017em"><span>‖</span></span></span><i class="g20">x</i><span class="sp q2" style="margin-left:0.222em"></span><span class="r g4">−</span><span class="sp q2" style="margin-left:0.222em"></span><i class="g21">m</i><span class="sd s1"><span class="r g8">1</span></span><span class="dl" style="width:0.500em"><span class="y" style="transform:translateY(0.025em) scale(1.00,1.18);transform-origin:50% 0.017em"><span>‖</span></span></span><span class="su" style="vertical-align:0.605em"><span class="r g8">2</span></span><span class="sp q2" style="margin-left:0.222em"></span><span class="r g4">+</span><span class="sp q2" style="margin-left:0.222em"></span><span class="dl" style="width:0.500em"><span class="y" style="transform:translateY(0.025em) scale(1.00,1.18);transform-origin:50% 0.017em"><span>‖</span></span></span><i class="g20">x</i><span class="sp q2" style="margin-left:0.222em"></span><span class="r g4">−</span><span class="sp q2" style="margin-left:0.222em"></span><i class="g21">m</i><span class="sd s1"><span class="r g8">2</span></span><span class="dl" style="width:0.500em"><span class="y" style="transform:translateY(0.025em) scale(1.00,1.18);transform-origin:50% 0.017em"><span>‖</span></span></span><span class="su" style="vertical-align:0.605em"><span class="r g8">2</span></span></span><span class="t" style="letter-spacing:-0.44px"> and gener-</span></div>
<div class="L" style="left:94.0px;top:787.3px"><span class="t" style="letter-spacing:-0.69px">ates </span><span class="m"><i class="g6">n</i></span><span class="t" style="letter-spacing:-0.27px"> particles (in </span><span class="cg"><span class="t" style="letter-spacing:-0.65px">green</span></span><span class="t" style="letter-spacing:-1.78px">).</span></div>
<div class="L b" style="left:78.0px;top:1093.6px;font-size:47.60px;color:#960f46"><span class="t" style="letter-spacing:-1.56px">Noisy Stein Variational Gradient</span></div>
<div class="L b" style="left:78.0px;top:1153.5px;font-size:47.60px;color:#960f46"><span class="t" style="letter-spacing:-1.54px">Descent (NSVGD) Algorithm</span></div>
<div class="L b" style="left:320.1px;top:1267.9px;color:#fff"><span class="t" style="letter-spacing:-0.96px">NSVGD algorithm</span></div>
<div class="L" style="left:94.0px;top:1326.0px;word-spacing:3.01px;--q3:5.72px"><span class="m"><i class="g6">n</i></span><span class="t" style="letter-spacing:-0.72px"> </span><span class="em"><span class="t" style="letter-spacing:-0.67px">interacting particles</span></span><span class="t" style="letter-spacing:-0.72px"> </span><span class="m"><i class="g7">X</i><span class="ss s1"><span class="u"><i class="g13">i</i></span><span class="d"><i class="g22">k</i></span></span><span class="r g9">,</span><span class="sp" style="margin-left:0.167em"></span><span class="r g10">...</span><span class="sp" style="margin-left:0.167em"></span><span class="r g9">,</span><span class="sp" style="margin-left:0.167em"></span><i class="g7">X</i><span class="ss s1"><span class="u"><i class="g11">n</i></span><span class="d"><i class="g22">k</i></span></span><span class="sp q3" style="margin-left:0.278em"></span><span class="y g23">∈</span><span class="sp q3" style="margin-left:0.278em"></span><span class="c g24">ℝ</span><span class="su s1"><i class="g25">d</i></span></span><span class="t" style="letter-spacing:-0.52px">. For every</span></div>
<div class="L" style="left:94.0px;top:1367.3px"><span class="m"><i class="g26">i</i><span class="sp q3" style="margin-left:0.278em"></span><span class="y g18">≤</span><span class="sp q3" style="margin-left:0.278em"></span><i class="g6">n</i></span><span class="t" style="letter-spacing:-0.64px"> and </span><span class="m"><i class="g27">k</i><span class="sp q3" style="margin-left:0.278em"></span><span class="y g23">∈</span><span class="sp q3" style="margin-left:0.278em"></span><span class="c g28">ℕ</span></span><span class="t" style="letter-spacing:-0.92px">:</span></div>
<div class="L" style="left:334.9px;top:1410.7px;font-size:22.96px"><span class="cg"><span class="t" style="letter-spacing:-0.22px">Langevin regularisation</span></span></div>
<div class="L" style="left:105.0px;top:1457.7px"><span class="m dm"><i class="g7">X</i><span class="ss s1"><span class="u"><i class="g13">i</i><span class="r g29">,</span><i class="g11">n</i></span><span class="d"><i class="g22">k</i><span class="r g14">+</span><span class="r g8">1</span></span></span><span class="sp q3" style="margin-left:0.278em"></span><span class="r g4">=</span><span class="sp q3" style="margin-left:0.278em"></span><i class="g7">X</i><span class="ss s1"><span class="u"><i class="g13">i</i><span class="r g29">,</span><i class="g11">n</i></span><span class="d"><i class="g22">k</i></span></span><span style="color:#47821f"><span class="r g4">−</span><i class="g30">λ</i><i class="g31">γ</i><span class="sd s1"><i class="g22">k</i></span><span class="y g32">∇</span><i class="g5">F</i><span class="r g3">(</span><i class="g7">X</i><span class="ss s1"><span class="u"><i class="g13">i</i></span><span class="d"><i class="g22">k</i></span></span><span class="r g3">)</span><span class="sp q2" style="margin-left:0.222em"></span><span class="r g4">+</span><span class="sp q2" style="margin-left:0.222em"></span><span class="sq"><span class="rad">√</span><span class="sqb"><span class="r g12">2</span><i class="g30">λ</i><i class="g31">γ</i><span class="sd s1"><i class="g22">k</i></span></span></span><i class="g33">ξ</i><span class="ss s1"><span class="u"><i class="g13">i</i></span><span class="d"><i class="g22">k</i></span></span></span></span></div>
<div class="L" style="left:124.0px;top:1512.8px"><span class="m dm"><span style="color:#00f"><span class="r g4">−</span><span class="fr"><span class="n"><i class="g31">γ</i><span class="sd s1"><i class="g22">k</i></span></span><span class="dn"><i class="g6">n</i></span></span><span class="sp" style="margin-left:0.167em"></span><span class="bo"><span class="o"><span class="big">∑</span></span><span class="lo"><i class="g34">j</i><span class="y g35">∈</span><span class="r g36">[</span><i class="g11">n</i><span class="r g36">]</span></span></span><span class="sp" style="margin-left:0.167em"></span><span class="sp" style="margin-left:0.167em"></span><span class="dl" style="width:0.560em"><span class="r" style="transform:translateY(-0.010em) scale(1.18,1.98);transform-origin:50% 0.097em"><span>(</span></span></span><i class="g37">K</i><span class="r g3">(</span><i class="g7">X</i><span class="ss s1"><span class="u"><i class="g13">i</i></span><span class="d"><i class="g22">k</i></span></span><span class="r g9">,</span><span class="sp" style="margin-left:0.167em"></span><i class="g7">X</i><span class="ss s1"><span class="u"><i class="g34">j</i></span><span class="d"><i class="g22">k</i></span></span><span class="r g3">)</span><span class="y g32">∇</span><i class="g5">F</i><span class="r g3">(</span><i class="g7">X</i><span class="ss s1"><span class="u"><i class="g34">j</i></span><span class="d"><i class="g22">k</i></span></span><span class="r g3">)</span><span class="sp q2" style="margin-left:0.222em"></span><span class="r g4">−</span><span class="sp q2" style="margin-left:0.222em"></span><span class="y g32">∇</span><span class="sd s1"><span class="r g8">2</span></span><i class="g37">K</i><span class="r g3">(</span><i class="g7">X</i><span class="ss s1"><span class="u"><i class="g13">i</i></span><span class="d"><i class="g22">k</i></span></span><span class="r g9">,</span><span class="sp" style="margin-left:0.167em"></span><i class="g7">X</i><span class="ss s1"><span class="u"><i class="g34">j</i></span><span class="d"><i class="g22">k</i></span></span><span class="r g3">)</span><span class="dl" style="width:0.560em"><span class="r" style="transform:translateY(-0.010em) scale(1.18,1.98);transform-origin:50% 0.097em"><span>)</span></span></span></span></span></div>
<div class="L" style="left:395.2px;top:1598.7px;font-size:22.96px"><span class="cb"><span class="t" style="letter-spacing:-0.68px">True SVGD</span></span></div>
<div class="L" style="left:790.0px;top:1630.0px"><span class="t" style="letter-spacing:-1.38px">.</span></div>
<div class="L" style="left:121.7px;top:1682.5px"><span class="m"><span class="r g3">(</span><i class="g33">ξ</i><span class="ss s1"><span class="u"><i class="g13">i</i></span><span class="d"><i class="g22">k</i></span></span><span class="r g3">)</span><span class="sp q3" style="margin-left:0.278em"></span><span class="y g38">∼</span><span class="sd s1"><i class="g13">i</i><span class="r g29">.</span><i class="g13">i</i><span class="r g29">.</span><i class="g25">d</i><span class="r g29">.</span></span><span class="sp q3" style="margin-left:0.278em"></span><span class="c g39">𝒩</span><span class="r g3">(</span><span class="r g12">0</span><span class="r g9">,</span><span class="sp" style="margin-left:0.167em"></span><i class="g40">I</i><span class="sd s1"><i class="g25">d</i></span><span class="r g3">)</span></span></div>
<div class="L" style="left:121.7px;top:1732.5px"><span class="m"><i class="g37">K</i></span><span class="t" style="letter-spacing:-0.82px">: </span><span class="em"><span class="t" style="letter-spacing:-1.23px">kernel</span></span><span class="t" style="letter-spacing:-0.36px">, for instance, </span><span class="m"><i class="g37">K</i><span class="r g3">(</span><i class="g20">x</i><span class="r g9">,</span><span class="sp" style="margin-left:0.167em"></span><i class="g41">y</i><span class="r g3">)</span><span class="sp q3" style="margin-left:0.278em"></span><span class="r g4">=</span><span class="sp q3" style="margin-left:0.278em"></span><span class="r g2">exp</span><span class="r g3">(</span><span class="r g4">−</span><span class="dl" style="width:0.500em"><span class="y" style="transform:translateY(0.025em) scale(1.00,1.18);transform-origin:50% 0.017em"><span>‖</span></span></span><i class="g20">x</i><span class="sp q2" style="margin-left:0.222em"></span><span class="r g4">−</span><span class="sp q2" style="margin-left:0.222em"></span><i class="g41">y</i><span class="dl" style="width:0.500em"><span class="y" style="transform:translateY(0.025em) scale(1.00,1.18);transform-origin:50% 0.017em"><span>‖</span></span></span><span class="su" style="vertical-align:0.605em"><span class="r g8">2</span></span><span class="r g3">)</span></span></div>
<div class="L" style="left:121.7px;top:1782.0px"><span class="m"><i class="g31">γ</i><span class="sd s1"><i class="g22">k</i></span><span class="sp q3" style="margin-left:0.278em"></span><span class="y g42">→</span><span class="sp q3" style="margin-left:0.278em"></span><span class="r g12">0</span></span><span class="t" style="letter-spacing:-0.82px">: </span><span class="em"><span class="t" style="letter-spacing:-1.61px">step size</span></span></div>
<div class="L" style="left:121.7px;top:1831.5px"><span class="m"><i class="g30">λ</i><span class="sp q3" style="margin-left:0.278em"></span><span class="y g18">≥</span><span class="sp q3" style="margin-left:0.278em"></span><span class="r g12">0</span></span><span class="t" style="letter-spacing:-0.82px">: </span><span class="em"><span class="t" style="letter-spacing:-0.63px">mixture weight</span></span></div>
<div class="L" style="left:78.0px;top:1922.5px;word-spacing:15.84px"><span class="cb"><span class="t" style="letter-spacing:-0.44px">Stein Variational Gradient Descent (SVGD, Liu</span></span></div>
<div class="L" style="left:78.0px;top:1963.8px"><span class="cb"><span class="t" style="letter-spacing:-0.48px">(2016))</span></span><span class="t" style="letter-spacing:-0.15px"> = NSVGD with </span><span class="m"><i class="g30">λ</i><span class="sp q3" style="margin-left:0.278em"></span><span class="r g4">=</span><span class="sp q3" style="margin-left:0.278em"></span><span class="r g12">0</span></span><span class="t" style="letter-spacing:-1.38px">.</span></div>
<div class="L b" style="left:122.5px;top:2023.2px;color:#fff"><span class="t" style="letter-spacing:-1.22px">Example with a Gaussian mixture centered in</span></div>
<div class="L b" style="left:399.4px;top:2066.3px;color:#fff"><span class="m"><i class="g21">m</i><span class="sd s1"><span class="r g8">1</span></span><span class="r g9">,</span><span class="sp" style="margin-left:0.167em"></span><i class="g21">m</i><span class="sd s1"><span class="r g8">2</span></span></span><span class="t" style="letter-spacing:-2.50px">:</span></div>
<div class="L" style="left:94.0px;top:2123.2px;word-spacing:3.75px"><span class="t" style="letter-spacing:-0.01px">Initialize the particles </span><span class="m"><span class="r g3">(</span><i class="g7">X</i><span class="ss s1"><span class="u"><span class="r g8">1</span></span><span class="d"><span class="r g8">0</span></span></span><span class="r g9">,</span><span class="sp" style="margin-left:0.167em"></span><span class="r g10">...</span><span class="sp" style="margin-left:0.167em"></span><span class="r g9">,</span><span class="sp" style="margin-left:0.167em"></span><i class="g7">X</i><span class="ss s1"><span class="u"><i class="g11">n</i></span><span class="d"><span class="r g8">0</span></span></span><span class="r g3">)</span></span><span class="t" style="letter-spacing:-0.45px"> from a Gaus-</span></div>
<div class="L" style="left:94.0px;top:2164.5px"><span class="t">sian distribution (in </span><span class="em"><span class="t" style="letter-spacing:-1.26px">red</span></span><span class="t" style="letter-spacing:-1.78px">).</span></div>
<div class="L" style="left:417.0px;top:2318.0px"><span class="m"><i class="g27">k</i><span class="sp q3" style="margin-left:0.278em"></span><span class="y g42">→</span><span class="sp q3" style="margin-left:0.278em"></span><span class="y g43">∞</span></span></div>
<div class="L b" style="left:934.6px;top:288.5px;font-size:47.60px;color:#960f46"><span class="t" style="letter-spacing:-1.93px">Algorithm convergence</span></div>
<div class="L b" style="left:967.1px;top:403.8px;color:#fff"><span class="t" style="letter-spacing:-1.09px">Empirical measure of NSVGD at time </span><span class="m"><i class="g27">k</i></span></div>
<div class="L" style="left:1146.0px;top:492.5px"><span class="m dm"><i class="g44">μ</i><span class="ss s1"><span class="u"><i class="g11">n</i></span><span class="d"><i class="g22">k</i></span></span><span class="sp q3" style="margin-left:0.278em"></span><span class="r g45">:=</span><span class="sp q3" style="margin-left:0.278em"></span><span class="fr"><span class="n"><span class="r g12">1</span></span><span class="dn"><i class="g6">n</i></span></span><span class="sp" style="margin-left:0.167em"></span><span class="bo"><span class="hi"><i class="g11">n</i></span><span class="o"><span class="big">∑</span></span><span class="lo"><i class="g13">i</i><span class="r g14">=</span><span class="r g8">1</span></span></span><span class="sp" style="margin-left:0.167em"></span><i class="g15">δ</i><span class="sd s1"><i class="g16">X</i><span class="ss s2"><span class="u"><i class="g17">i</i></span><span class="d"><i class="g46">k</i></span></span></span></span></div>
<div class="L" style="left:934.6px;top:594.1px"><span class="t" style="letter-spacing:0.14px">We want </span><span class="m"><i class="g0">π</i><span class="sp q3" style="margin-left:0.278em"></span><span class="y g18">≃</span><span class="sp q3" style="margin-left:0.278em"></span><i class="g44">μ</i><span class="ss s1"><span class="u"><i class="g11">n</i></span><span class="d"><i class="g22">k</i></span></span></span><span class="t" style="letter-spacing:-1.38px">.</span></div>
<div class="L" style="left:973.0px;top:653.7px"><span class="m"><i class="g44">μ</i><span class="ss s1"><span class="u"><i class="g11">n</i></span><span class="d"><i class="g22">k</i></span></span></span><span class="t" style="letter-spacing:-0.82px">: </span><span class="em"><span class="em"><span class="m"><i class="g6">n</i></span></span><span class="t" style="letter-spacing:-1.14px"> atoms</span></span></div>
<div class="L" style="left:973.0px;top:714.9px"><span class="m"><i class="g0">π</i></span><span class="t" style="letter-spacing:-0.82px">: </span><span class="em"><span class="t" style="letter-spacing:-0.79px">density</span></span></div>
<div class="L" style="left:1200.0px;top:683.5px"><span class="em"><span class="em"><span class="m"><i class="g6">n</i><span class="sp q3" style="margin-left:0.278em"></span><span class="y g42">→</span><span class="sp q3" style="margin-left:0.278em"></span><span class="y g43">∞</span></span></span></span><span class="t" style="letter-spacing:-1.38px">.</span></div>
<div class="L" style="left:934.6px;top:773.8px"><span class="t" style="letter-spacing:-0.09px">Gradient algorithm: </span><span class="em"><span class="em"><span class="m"><i class="g27">k</i><span class="sp q3" style="margin-left:0.278em"></span><span class="y g42">→</span><span class="sp q3" style="margin-left:0.278em"></span><span class="y g43">∞</span></span></span></span><span class="t" style="letter-spacing:-1.38px">.</span></div>
<div class="L b" style="left:1181.4px;top:835.1px;color:#fff"><span class="t" style="letter-spacing:-0.88px">Question</span></div>
<div class="L" style="left:950.6px;top:889.7px;word-spacing:-1.28px;--q3:-2.44px"><span class="t" style="letter-spacing:0.32px">At what </span><span class="em"><span class="t" style="letter-spacing:-0.62px">rate</span></span><span class="t" style="letter-spacing:-0.22px"> must </span><span class="m"><span class="r g3">(</span><i class="g27">k</i><span class="r g9">,</span><span class="sp" style="margin-left:0.167em"></span><i class="g6">n</i><span class="r g3">)</span><span class="sp q3" style="margin-left:0.278em"></span><span class="y g42">→</span><span class="sp q3" style="margin-left:0.278em"></span><span class="r g3">(</span><span class="y g43">∞</span><span class="r g9">,</span><span class="sp" style="margin-left:0.167em"></span><span class="y g43">∞</span><span class="r g3">)</span></span><span class="t" style="letter-spacing:-0.01px"> so that</span></div>
<div class="L" style="left:950.6px;top:930.9px"><span class="m"><i class="g44">μ</i><span class="ss s1"><span class="u"><i class="g11">n</i></span><span class="d"><i class="g22">k</i></span></span><span class="sp q3" style="margin-left:0.278em"></span><span class="y g42">→</span><span class="sp q3" style="margin-left:0.278em"></span><i class="g0">π</i></span><span class="t" style="letter-spacing:-3.00px">?</span></div>
<div class="L" style="left:934.6px;top:995.6px"><span class="t" style="letter-spacing:-0.33px">What does the user do?</span></div>
<div class="L" style="left:963.0px;top:1045.6px"><span class="t" style="letter-spacing:-0.65px">They </span><span class="em"><span class="t" style="letter-spacing:-0.38px">fix </span><span class="em"><span class="m"><i class="g6">n</i></span></span></span><span class="t" style="letter-spacing:-0.21px"> and let </span><span class="em"><span class="em"><span class="m"><i class="g27">k</i><span class="sp q3" style="margin-left:0.278em"></span><span class="y g42">→</span><span class="sp q3" style="margin-left:0.278em"></span><span class="y g43">∞</span></span></span></span><span class="t" style="letter-spacing:-1.38px">.</span></div>
<div class="L" style="left:963.0px;top:1095.3px;word-spacing:4.08px"><span class="t" style="letter-spacing:-0.65px">They </span><span class="em"><span class="t" style="letter-spacing:-1.53px">increase </span><span class="em"><span class="m"><i class="g6">n</i></span></span></span><span class="t" style="letter-spacing:0.03px"> if the result is not good</span></div>
<div class="L" style="left:963.0px;top:1136.6px"><span class="t" style="letter-spacing:-0.43px">enough.</span></div>
<div class="L" style="left:934.6px;top:1185.9px;word-spacing:6.83px;--q3:12.98px"><span class="em"><span class="t" style="letter-spacing:-1.26px">Regime of interest</span></span><span class="t" style="letter-spacing:-0.82px">: </span><span class="m"><span class="r g3">(</span><i class="g27">k</i><span class="r g9">,</span><span class="sp" style="margin-left:0.167em"></span><i class="g6">n</i><span class="r g3">)</span><span class="sp q3" style="margin-left:0.278em"></span><span class="y g42">→</span><span class="sp q3" style="margin-left:0.278em"></span><span class="r g3">(</span><span class="y g43">∞</span><span class="r g9">,</span><span class="sp" style="margin-left:0.167em"></span><span class="y g43">∞</span><span class="r g3">)</span></span><span class="t" style="letter-spacing:0.80px"> with</span></div>
<div class="L" style="left:934.6px;top:1227.2px"><span class="m"><i class="g6">n</i><span class="sp q3" style="margin-left:0.278em"></span><span class="y g47">≪</span><span class="sp q3" style="margin-left:0.278em"></span><i class="g27">k</i></span><span class="t" style="letter-spacing:-1.38px">.</span></div>
<div class="L b" style="left:934.6px;top:1370.6px;font-size:47.60px;color:#960f46"><span class="t" style="letter-spacing:-1.12px">Literature review</span></div>
<div class="L" style="left:934.6px;top:1464.4px"><span class="t" style="letter-spacing:-0.55px">For SVGD (NSVGD with </span><span class="m"><i class="g30">λ</i><span class="sp q3" style="margin-left:0.278em"></span><span class="r g4">=</span><span class="sp q3" style="margin-left:0.278em"></span><span class="r g12">0</span></span><span class="t" style="letter-spacing:-1.55px">):</span></div>
<div class="L b" style="left:1053.3px;top:1525.1px"><span class="t" style="letter-spacing:-1.31px">Low value of </span><span class="m"><i class="g27">k</i></span></div>
<div class="L b" style="left:1300.8px;top:1525.1px"><span class="t" style="letter-spacing:-1.40px">Large value of </span><span class="m"><i class="g27">k</i></span></div>
<div class="L" style="left:940.5px;top:1599.2px"><span class="m"><i class="g6">n</i><span class="sp q3" style="margin-left:0.278em"></span><span class="r g4">=</span><span class="sp q3" style="margin-left:0.278em"></span><span class="y g43">∞</span></span></div>
<div class="L" style="left:940.5px;top:1682.1px"><span class="m"><i class="g6">n</i><span class="sp q3" style="margin-left:0.278em"></span><span class="r g4">&lt;</span><span class="sp q3" style="margin-left:0.278em"></span><span class="y g43">∞</span></span></div>
<div class="L" style="left:1068.2px;top:1578.7px"><span class="m"><i class="g48">d</i><span class="r g3">(</span><i class="g44">μ</i><span class="ss s1"><span class="u"><span class="y g49">∞</span></span><span class="d"><i class="g22">k</i></span></span><span class="r g9">,</span><span class="sp" style="margin-left:0.167em"></span><i class="g0">π</i><span class="r g3">)</span><span class="sp q3" style="margin-left:0.278em"></span><span class="y g18">≤</span><span class="sp q3" style="margin-left:0.278em"></span><span class="tf"><span class="n"><i class="g50">C</i></span><span class="dn"><i class="g22">k</i></span></span></span></div>
<div class="L" style="left:1067.4px;top:1619.3px"><span class="t" style="letter-spacing:-0.32px">Korba (2020)</span></div>
<div class="L" style="left:1314.9px;top:1578.7px"><span class="m"><i class="g48">d</i><span class="r g3">(</span><i class="g44">μ</i><span class="ss s1"><span class="u"><span class="y g49">∞</span></span><span class="d"><i class="g22">k</i></span></span><span class="r g9">,</span><span class="sp" style="margin-left:0.167em"></span><i class="g0">π</i><span class="r g3">)</span><span class="sp q3" style="margin-left:0.278em"></span><span class="y g42">→</span><span class="sp q3" style="margin-left:0.278em"></span><span class="r g12">0</span></span></div>
<div class="L" style="left:1318.7px;top:1619.3px"><span class="t" style="letter-spacing:-0.63px">Salim (2022)</span></div>
<div class="L" style="left:1072.8px;top:1661.2px"><span class="m"><i class="g48">d</i><span class="r g3">(</span><i class="g44">μ</i><span class="ss s1"><span class="u"><i class="g11">n</i></span><span class="d"><i class="g22">k</i></span></span><span class="r g9">,</span><span class="sp" style="margin-left:0.167em"></span><i class="g0">π</i><span class="r g3">)</span><span class="sp q3" style="margin-left:0.278em"></span><span class="y g18">≤</span><span class="sp q3" style="margin-left:0.278em"></span><span class="tf"><span class="n"><i class="g50">C</i></span><span class="dn"><i class="g22">k</i></span></span></span></div>
<div class="L" style="left:1062.4px;top:1702.2px"><span class="t" style="letter-spacing:0.94px">with </span><span class="m"><i class="g27">k</i><span class="sp q3" style="margin-left:0.278em"></span><span class="y g18">≤</span><span class="sp q3" style="margin-left:0.278em"></span><i class="g51">ϕ</i><span class="r g3">(</span><i class="g6">n</i><span class="r g3">)</span></span></div>
<div class="L" style="left:1386.4px;top:1661.2px"><span class="cr"><span class="t" style="letter-spacing:-3.00px">???</span></span></div>
<div class="L" style="left:1285.8px;top:1702.2px"><span class="em"><span class="t" style="letter-spacing:-1.26px">Regime of interest</span></span></div>
<div class="L" style="left:934.6px;top:1763.8px"><span class="t" style="letter-spacing:-0.61px">Shi (2024): </span><span class="m"><i class="g51">ϕ</i><span class="r g3">(</span><i class="g6">n</i><span class="r g3">)</span><span class="sp q3" style="margin-left:0.278em"></span><span class="r g4">=</span><span class="sp q3" style="margin-left:0.278em"></span><span class="r g52">log</span><span class="sp" style="margin-left:0.167em"></span><span class="r g52">log</span><span class="r g3">(</span><i class="g6">n</i><span class="r g3">)</span></span><span class="t" style="letter-spacing:-1.38px">.</span></div>
<div class="L" style="left:934.6px;top:1804.7px;word-spacing:2.39px"><span class="t" style="letter-spacing:-0.35px">Carrillo (2023), Banerjee (2024): </span><span class="m"><i class="g51">ϕ</i></span><span class="t" style="letter-spacing:0.30px"> polyno-</span></div>
<div class="L" style="left:934.6px;top:1846.0px"><span class="t" style="letter-spacing:-0.26px">mial in </span><span class="m"><i class="g6">n</i></span><span class="t" style="letter-spacing:-1.38px">.</span></div>
<div class="L" style="left:934.6px;top:1886.5px;word-spacing:7.65px"><span class="m"><i class="g48">d</i></span><span class="t" style="letter-spacing:-0.43px">: metric on measures (Kernel Stein Dis-</span></div>
<div class="L" style="left:934.6px;top:1927.5px"><span class="t" style="letter-spacing:-0.42px">crepancy, Wasserstein distance </span><span class="m"><i class="g53">W</i><span class="sd s1"><span class="r g8">2</span></span></span><span class="t" style="letter-spacing:-2.19px">)</span></div>
<div class="L b" style="left:934.6px;top:2074.4px;font-size:47.60px;color:#960f46"><span class="t" style="letter-spacing:-1.50px">Main results</span></div>
<div class="L" style="left:934.6px;top:2167.1px;word-spacing:2.74px;--q3:5.20px"><span class="em"><span class="em"><span class="m"><span class="cs g54">ℒ</span><span class="su s1"><i class="g11">n</i></span><span class="sp q3" style="margin-left:0.278em"></span><span class="r g45">:=</span><span class="sp q3" style="margin-left:0.278em"></span><span class="r g55">{</span></span></span><span class="t" style="letter-spacing:-0.78px">Accumulation points of </span><span class="em"><span class="m"><span class="r g3">(</span><i class="g44">μ</i><span class="ss s1"><span class="u"><i class="g11">n</i></span><span class="d"><i class="g22">k</i></span></span><span class="r g3">)</span><span class="sd s1"><i class="g22">k</i></span><span class="r g55">}</span></span></span></span><span class="t" style="letter-spacing:-0.48px">. That</span></div>
<div class="L" style="left:934.6px;top:2208.4px;word-spacing:-0.57px;--q3:-1.07px"><span class="t" style="letter-spacing:-0.31px">is, for every </span><span class="m"><i class="g44">μ</i><span class="sp q3" style="margin-left:0.278em"></span><span class="y g23">∈</span><span class="sp q3" style="margin-left:0.278em"></span><span class="cs g54">ℒ</span><span class="su s1"><i class="g11">n</i></span></span><span class="t" style="letter-spacing:-0.54px">, there exists a sequence</span></div>
<div class="L" style="left:934.6px;top:2249.7px;word-spacing:1.88px;--q3:3.57px"><span class="m"><span class="r g3">(</span><i class="g27">k</i><span class="sd s1"><i class="g13">i</i></span><span class="r g3">)</span><span class="sp q3" style="margin-left:0.278em"></span><span class="y g42">→</span><span class="sp q3" style="margin-left:0.278em"></span><span class="y g43">∞</span></span><span class="t" style="letter-spacing:-0.16px"> such that </span><span class="m"><i class="g53">W</i><span class="sd s1"><span class="r g8">2</span></span><span class="r g3">(</span><i class="g44">μ</i><span class="ss s1"><span class="u"><i class="g11">n</i></span><span class="d"><i class="g22">k</i><span class="sd s2"><i class="g17">i</i></span></span></span><span class="r g9">,</span><span class="sp" style="margin-left:0.167em"></span><i class="g44">μ</i><span class="r g3">)</span><span class="sp q3" style="margin-left:0.278em"></span><span class="y g42">→</span><span class="sp q3" style="margin-left:0.278em"></span><span class="r g12">0</span></span><span class="t" style="letter-spacing:-1.40px"> as </span><span class="m"><i class="g26">i</i><span class="sp q3" style="margin-left:0.278em"></span><span class="y g42">→</span></span></div>
<div class="L" style="left:934.6px;top:2291.0px"><span class="m"><span class="y g43">∞</span></span><span class="t" style="letter-spacing:-1.38px">.</span></div>
<div class="L b" style="left:1872.5px;top:295.4px;color:#fff"><span class="t" style="letter-spacing:-0.88px">Theorem 1</span></div>
<div class="L" style="left:1690.2px;top:344.2px"><span class="m"><i class="g5">F</i></span><span class="t" style="letter-spacing:-0.31px"> strongly convex and </span><span class="m"><i class="g30">λ</i><span class="sp q3" style="margin-left:0.278em"></span><span class="r g4">&gt;</span><span class="sp q3" style="margin-left:0.278em"></span><span class="r g12">0</span></span><span class="t" style="letter-spacing:-0.92px">:</span></div>
<div class="L" style="left:1873.0px;top:396.3px"><span class="m dm"><span class="cs g54">ℒ</span><span class="su s1"><i class="g11">n</i></span><span class="sp q3" style="margin-left:0.278em"></span><span class="la"><span class="ar"><span class="y g56">⟶</span></span><span class="lab"><i class="g11">n</i><span class="y g57">→</span><span class="y g49">∞</span></span></span><span class="sp q3" style="margin-left:0.278em"></span><i class="g0">π</i><span class="sp" style="margin-left:0.167em"></span><span class="r g9">.</span></span></div>
<div class="L" style="left:1674.2px;top:487.2px"><span class="t" style="letter-spacing:-0.03px">In other words:</span></div>
<div class="L" style="left:1751.0px;top:538.5px"><span class="m dm"><span class="lim"><span class="o"><span class="r g58">lim</span></span><span class="lo"><i class="g11">n</i><span class="y g57">→</span><span class="y g49">∞</span></span></span><span class="sp" style="margin-left:0.167em"></span><span class="c g59">ℙ</span><span class="r g3">(</span><span class="lim dp"><span class="o"><span class="r g60">sup</span></span><span class="lo"><i class="g11">μ</i><span class="su s2"><i class="g61">n</i></span><span class="y g35">∈</span><span class="cs g62">ℒ</span><span class="su s2"><i class="g61">n</i></span></span></span><span class="sp" style="margin-left:0.167em"></span><i class="g53">W</i><span class="sd s1"><span class="r g8">2</span></span><span class="r g3">(</span><i class="g44">μ</i><span class="su s1"><i class="g11">n</i></span><span class="r g9">,</span><span class="sp" style="margin-left:0.167em"></span><i class="g0">π</i><span class="r g3">)</span><span class="sp q3" style="margin-left:0.278em"></span><span class="y g18">≥</span><span class="sp q3" style="margin-left:0.278em"></span><i class="g63">ε</i><span class="r g3">)</span><span class="sp" style="margin-left:0.167em"></span><span class="r g9">.</span></span></div>
<div class="L" style="left:1674.2px;top:609.0px"><span class="em"><span class="t" style="letter-spacing:-1.41px">Averaged empirical measure</span></span><span class="t" style="letter-spacing:-0.92px">:</span></div>
<div class="L" style="left:1843.0px;top:694.5px"><span class="m dm"><span class="acc bar"><i class="g44">μ</i></span><span class="ss s1"><span class="u"><i class="g11">n</i></span><span class="d"><i class="g22">k</i></span></span><span class="sp q3" style="margin-left:0.278em"></span><span class="r g45">:=</span><span class="sp q3" style="margin-left:0.278em"></span><span class="fr"><span class="n"><span class="r g12">1</span></span><span class="dn"><i class="g27">k</i></span></span><span class="sp" style="margin-left:0.167em"></span><span class="bo"><span class="hi"><i class="g22">k</i></span><span class="o"><span class="big">∑</span></span><span class="lo"><i class="g13">i</i><span class="r g14">=</span><span class="r g8">1</span></span></span><span class="sp" style="margin-left:0.167em"></span><i class="g44">μ</i><span class="ss s1"><span class="u"><i class="g11">n</i></span><span class="d"><i class="g13">i</i></span></span><span class="sp" style="margin-left:0.167em"></span><span class="r g9">.</span></span></div>
<div class="L" style="left:1674.2px;top:769.8px"><span class="m"><span class="acc overline"><span class="cs g54">ℒ</span></span><span class="su s1"><i class="g11">n</i></span><span class="sp q3" style="margin-left:0.278em"></span><span class="r g4">=</span><span class="sp q3" style="margin-left:0.278em"></span><span class="r g55">{</span></span><span class="t" style="letter-spacing:0.06px">Accumulation points of </span><span class="m"><span class="r g3">(</span><span class="acc bar"><i class="g44">μ</i></span><span class="ss s1"><span class="u"><i class="g11">n</i></span><span class="d"><i class="g22">k</i></span></span><span class="r g3">)</span><span class="sd s1"><i class="g22">k</i></span><span class="r g55">}</span></span><span class="t" style="letter-spacing:-1.38px">.</span></div>
<div class="L b" style="left:1872.5px;top:819.1px;color:#fff"><span class="t" style="letter-spacing:-0.88px">Theorem 2</span></div>
<div class="L" style="left:1690.2px;top:868.7px"><span class="t" style="letter-spacing:-0.30px">Assume that </span><span class="m"><i class="g30">λ</i><span class="sp q3" style="margin-left:0.278em"></span><span class="r g4">&gt;</span><span class="sp q3" style="margin-left:0.278em"></span><span class="r g12">0</span></span><span class="t" style="letter-spacing:-0.92px">:</span></div>
<div class="L" style="left:1873.0px;top:919.7px"><span class="m dm"><span class="acc overline"><span class="cs g54">ℒ</span></span><span class="su s1"><i class="g11">n</i></span><span class="sp q3" style="margin-left:0.278em"></span><span class="la"><span class="ar"><span class="y g56">⟶</span></span><span class="lab"><i class="g11">n</i><span class="y g57">→</span><span class="y g49">∞</span></span></span><span class="sp q3" style="margin-left:0.278em"></span><i class="g0">π</i><span class="sp" style="margin-left:0.167em"></span><span class="r g9">.</span></span></div>
<div class="L" style="left:1674.2px;top:1010.9px"><span class="em"><span class="t" style="letter-spacing:-1.54px">NSVGD converges in the regime </span><span class="em"><span class="m"><i class="g27">k</i><span class="sp q3" style="margin-left:0.278em"></span><span class="y g47">≫</span><span class="sp q3" style="margin-left:0.278em"></span><i class="g6">n</i></span></span><span class="t" style="letter-spacing:-1.45px">.</span></span></div>
<div class="L b" style="left:1674.2px;top:1158.3px;font-size:47.60px;color:#960f46"><span class="t" style="letter-spacing:-1.51px">The regularization</span></div>
<div class="L" style="left:1674.2px;top:1258.0px;word-spacing:2.22px"><span class="t" style="letter-spacing:0.07px">NSVGD: Mixture of the </span><span class="cg"><span class="t" style="letter-spacing:-0.61px">Langevin</span></span><span class="t" style="letter-spacing:-0.62px"> and</span></div>
<div class="L" style="left:1674.2px;top:1299.3px"><span class="cb"><span class="t" style="letter-spacing:-1.29px">SVGD</span></span><span class="t" style="letter-spacing:-0.02px"> algorithm:</span></div>
<div class="L" style="left:1702.6px;top:1348.6px"><span class="m"><i class="g30">λ</i><span class="sp q3" style="margin-left:0.278em"></span><span class="y g47">≪</span><span class="sp q3" style="margin-left:0.278em"></span><span class="r g12">1</span></span><span class="t" style="letter-spacing:-0.77px">: NSVGD </span><span class="m"><span class="y g18">≃</span></span><span class="t" style="letter-spacing:-0.72px"> </span><span class="cb"><span class="t" style="letter-spacing:-1.48px">SVGD</span></span><span class="t" style="letter-spacing:-1.38px">.</span></div>
<div class="L" style="left:1702.6px;top:1398.3px;word-spacing:6.46px;--q3:12.27px"><span class="m"><i class="g30">λ</i><span class="sp q3" style="margin-left:0.278em"></span><span class="y g47">≫</span><span class="sp q3" style="margin-left:0.278em"></span><span class="r g12">1</span></span><span class="t" style="letter-spacing:-0.77px">: NSVGD </span><span class="m"><span class="y g18">≃</span></span><span class="t" style="letter-spacing:-0.72px"> </span><span class="cg"><span class="t" style="letter-spacing:-0.49px">Langevin algo-</span></span></div>
<div class="L" style="left:1702.6px;top:1439.6px"><span class="cg"><span class="t" style="letter-spacing:0.80px">rithm</span></span><span class="t" style="letter-spacing:-1.38px">.</span></div>
<div class="L b" style="left:1762.6px;top:1488.0px;color:#fff"><span class="t" style="letter-spacing:-1.68px">SVGD’s Spurious measure</span></div>
<div class="L" style="left:1690.2px;top:1543.7px"><span class="m"><i class="g20">x</i><span class="sd s1"><span class="y g64">∗</span></span></span><span class="t" style="letter-spacing:-0.62px"> s.t. </span><span class="m"><span class="y g32">∇</span><i class="g5">F</i><span class="r g3">(</span><i class="g20">x</i><span class="sd s1"><span class="y g64">∗</span></span><span class="r g3">)</span><span class="sp q3" style="margin-left:0.278em"></span><span class="r g4">=</span><span class="sp q3" style="margin-left:0.278em"></span><span class="r g12">0</span></span><span class="t" style="letter-spacing:-0.92px">:</span></div>
<div class="L" style="left:1742.0px;top:1594.9px"><span class="m dm"><i class="g44">μ</i><span class="ss s1"><span class="u"><i class="g11">n</i></span><span class="d"><i class="g22">k</i></span></span><span class="sp q3" style="margin-left:0.278em"></span><span class="r g4">=</span><span class="sp q3" style="margin-left:0.278em"></span><i class="g15">δ</i><span class="sd s1"><i class="g19">x</i><span class="sd s2"><span class="y g65">∗</span></span></span><span class="sp q3" style="margin-left:0.278em"></span><span class="sp" style="margin-left:.278em"></span><span class="y g56">⟹</span><span class="sp" style="margin-left:.278em"></span><span class="sp q3" style="margin-left:0.278em"></span><span class="y g66">∀</span><i class="g67">p</i><span class="sp" style="margin-left:1.000em"></span><i class="g44">μ</i><span class="ss s1"><span class="u"><i class="g11">n</i></span><span class="d"><i class="g22">k</i><span class="r g14">+</span><i class="g68">p</i></span></span><span class="sp q3" style="margin-left:0.278em"></span><span class="r g4">=</span><span class="sp q3" style="margin-left:0.278em"></span><i class="g44">μ</i><span class="ss s1"><span class="u"><i class="g11">n</i></span><span class="d"><i class="g22">k</i></span></span><span class="sp" style="margin-left:0.167em"></span><span class="r g9">.</span></span></div>
<div class="L" style="left:1674.2px;top:1674.5px;word-spacing:2.61px;--q3:4.96px"><span class="t" style="letter-spacing:1.10px">With </span><span class="m"><i class="g30">λ</i><span class="sp q3" style="margin-left:0.278em"></span><span class="r g4">&gt;</span><span class="sp q3" style="margin-left:0.278em"></span><span class="r g12">0</span></span><span class="t" style="letter-spacing:-0.26px">, such spurious stationary</span></div>
<div class="L" style="left:1674.2px;top:1715.8px"><span class="t" style="letter-spacing:0.30px">distributions </span><span class="em"><span class="t" style="letter-spacing:-0.76px">do not exist</span></span><span class="t" style="letter-spacing:-1.38px">.</span></div>
<div class="L b" style="left:1829.7px;top:1772.6px;color:#fff"><span class="t" style="letter-spacing:-1.27px">Particle Collapse</span></div>
<div class="L" style="left:1690.2px;top:1826.4px"><span class="t" style="letter-spacing:-0.28px">In </span><span class="em"><span class="t" style="letter-spacing:-1.29px">high dimensions</span></span><span class="t" style="letter-spacing:-0.72px"> </span><span class="m"><i class="g48">d</i><span class="sp q3" style="margin-left:0.278em"></span><span class="r g4">&gt;</span><span class="sp q3" style="margin-left:0.278em"></span><i class="g6">n</i></span><span class="t" style="letter-spacing:-0.92px">:</span></div>
<div class="L" style="left:1717.6px;top:1875.1px;word-spacing:14.40px"><span class="t" style="letter-spacing:-0.51px">The empirical measure </span><span class="m"><i class="g44">μ</i><span class="ss s1"><span class="u"><i class="g11">n</i></span><span class="d"><i class="g22">k</i></span></span></span><span class="t" style="letter-spacing:-0.72px"> </span><span class="em"><span class="t" style="letter-spacing:-0.83px">con-</span></span></div>
<div class="L" style="left:1717.6px;top:1916.4px"><span class="em"><span class="t" style="letter-spacing:-1.48px">verges to a Dirac measure for SVGD</span></span><span class="t" style="letter-spacing:-1.38px">.</span></div>
<div class="L" style="left:1717.6px;top:1965.7px;word-spacing:12.49px"><span class="t" style="letter-spacing:-0.61px">There is </span><span class="em"><span class="t" style="letter-spacing:-0.89px">no particle collapse for</span></span></div>
<div class="L" style="left:1717.6px;top:2007.0px"><span class="em"><span class="t" style="letter-spacing:-2.32px">NSVGD</span></span><span class="t" style="letter-spacing:-0.14px"> when </span><span class="m"><i class="g30">λ</i><span class="sp q3" style="margin-left:0.278em"></span><span class="r g4">&gt;</span><span class="sp q3" style="margin-left:0.278em"></span><span class="r g12">0</span></span><span class="t" style="letter-spacing:-1.38px">.</span></div>
<div class="L b" style="left:2339.8px;top:288.5px;font-size:47.60px;color:#960f46"><span class="t" style="letter-spacing:-1.69px">Sketch of proof</span></div>
<div class="L" style="left:2339.8px;top:407.3px;word-spacing:3.37px"><span class="m"><i class="g7">X</i><span class="ss s1"><span class="u"><i class="g13">i</i></span><span class="d"><i class="g69">t</i></span></span></span><span class="t" style="letter-spacing:-0.82px">: </span><span class="em"><span class="t" style="letter-spacing:-0.52px">linear interpolation</span></span><span class="t" style="letter-spacing:0.19px"> of the discrete-time</span></div>
<div class="L" style="left:2339.8px;top:448.3px"><span class="t" style="letter-spacing:-0.79px">process </span><span class="m"><i class="g7">X</i><span class="ss s1"><span class="u"><i class="g13">i</i></span><span class="d"><i class="g22">k</i></span></span></span><span class="t" style="letter-spacing:-1.38px">.</span></div>
<div class="L" style="left:2339.8px;top:505.1px;word-spacing:-2.33px"><span class="t" style="letter-spacing:0.06px">We study the </span><span class="em"><span class="t" style="letter-spacing:-1.20px">occupation measure</span></span><span class="t" style="letter-spacing:0.10px"> of the par-</span></div>
<div class="L" style="left:2339.8px;top:546.1px"><span class="t" style="letter-spacing:-0.07px">ticles:</span></div>
<div class="L" style="left:2400.0px;top:613.3px"><span class="m dm"><i class="g21">m</i><span class="ss s1"><span class="u"><i class="g11">n</i></span><span class="d"><i class="g69">t</i></span></span><span class="sp q3" style="margin-left:0.278em"></span><span class="r g45">:=</span><span class="sp q3" style="margin-left:0.278em"></span><span class="fr"><span class="n"><span class="r g12">1</span></span><span class="dn"><i class="g6">n</i></span></span><span class="sp" style="margin-left:0.167em"></span><span class="bo"><span class="hi"><i class="g11">n</i></span><span class="o"><span class="big">∑</span></span><span class="lo"><i class="g13">i</i><span class="r g14">=</span><span class="r g8">1</span></span></span><span class="sp" style="margin-left:0.167em"></span><i class="g15">δ</i><span class="sd s1"><i class="g16">X</i><span class="ss s2"><span class="u"><i class="g17">i</i></span><span class="d"><i class="g70">t</i><span class="r g71">+</span><span class="r g72">·</span></span></span></span><span class="sp q3" style="margin-left:0.278em"></span><span class="y g23">∈</span><span class="sp q3" style="margin-left:0.278em"></span><span class="c g73">𝒫</span><span class="r g3">(</span><i class="g74">C</i><span class="r g3">(</span><span class="r g75">[</span><span class="r g12">0</span><span class="r g9">,</span><span class="sp" style="margin-left:0.167em"></span><span class="y g43">∞</span><span class="r g75">[</span><span class="r g9">,</span><span class="sp" style="margin-left:0.167em"></span><span class="c g24">ℝ</span><span class="r g75">]</span><span class="r g3">)</span><span class="r g3">)</span><span class="r g9">.</span></span></div>
<div class="L" style="left:2339.8px;top:691.1px;word-spacing:3.06px"><span class="t" style="letter-spacing:0.14px">Stability condition </span><span class="m"><span class="y g56">⟹</span></span><span class="t" style="letter-spacing:0.33px"> the distributions of</span></div>
<div class="L" style="left:2339.8px;top:732.1px"><span class="m"><span class="r g3">(</span><i class="g21">m</i><span class="su s1"><i class="g11">n</i></span><span class="r g3">)</span><span class="sd s1"><i class="g69">t</i><span class="r g29">,</span><i class="g11">n</i></span></span><span class="t" style="letter-spacing:-0.80px"> are </span><span class="em"><span class="t" style="letter-spacing:0.30px">tight</span></span><span class="t" style="letter-spacing:-0.20px"> in </span><span class="m"><span class="c g73">𝒫</span><span class="r g3">(</span><span class="c g73">𝒫</span><span class="r g3">(</span><i class="g74">C</i><span class="r g3">(</span><span class="r g75">[</span><span class="r g12">0</span><span class="r g9">,</span><span class="sp" style="margin-left:0.167em"></span><span class="y g43">∞</span><span class="r g3">)</span><span class="r g9">,</span><span class="sp" style="margin-left:0.167em"></span><span class="c g24">ℝ</span><span class="r g3">)</span><span class="r g3">)</span><span class="r g3">)</span></span></div>
<div class="L b" style="left:2583.9px;top:796.8px;color:#fff"><span class="t" style="letter-spacing:-1.55px">Tightness</span></div>
<div class="L" style="left:2355.8px;top:854.8px;word-spacing:27.70px;--q3:52.63px"><span class="t" style="letter-spacing:-0.60px">From every sequence </span><span class="m"><span class="r g3">(</span><span class="acc tilde"><i class="g76">t</i></span><span class="sd s1"><i class="g11">n</i></span><span class="r g9">,</span><span class="sp" style="margin-left:0.167em"></span><span class="acc tilde"><i class="g77">φ</i></span><span class="sd s1"><i class="g11">n</i></span><span class="r g3">)</span><span class="sp q3" style="margin-left:0.278em"></span><span class="y g42">→</span></span></div>
<div class="L" style="left:2355.8px;top:895.8px;word-spacing:24.73px"><span class="m"><span class="r g3">(</span><span class="y g43">∞</span><span class="r g9">,</span><span class="sp" style="margin-left:0.167em"></span><span class="y g43">∞</span><span class="r g3">)</span></span><span class="t" style="letter-spacing:-0.49px">, there exists a subequence</span></div>
<div class="L" style="left:2355.8px;top:936.7px;word-spacing:17.51px;--q3:33.26px"><span class="m"><span class="r g3">(</span><i class="g76">t</i><span class="sd s1"><i class="g11">n</i></span><span class="r g9">,</span><span class="sp" style="margin-left:0.167em"></span><i class="g77">φ</i><span class="sd s1"><i class="g11">n</i></span><span class="r g3">)</span><span class="sp q3" style="margin-left:0.278em"></span><span class="y g42">→</span><span class="sp q3" style="margin-left:0.278em"></span><span class="r g3">(</span><span class="y g43">∞</span><span class="r g9">,</span><span class="sp" style="margin-left:0.167em"></span><span class="y g43">∞</span><span class="r g3">)</span></span><span class="t" style="letter-spacing:-0.85px"> and a measure</span></div>
<div class="L" style="left:2355.8px;top:977.7px"><span class="m"><i class="g78">M</i><span class="sp q3" style="margin-left:0.278em"></span><span class="y g23">∈</span><span class="sp q3" style="margin-left:0.278em"></span><span class="c g73">𝒫</span><span class="r g3">(</span><span class="c g73">𝒫</span><span class="r g3">(</span><i class="g74">C</i><span class="r g3">(</span><span class="r g75">[</span><span class="r g12">0</span><span class="r g9">,</span><span class="sp" style="margin-left:0.167em"></span><span class="y g43">∞</span><span class="r g75">[</span><span class="r g9">,</span><span class="sp" style="margin-left:0.167em"></span><span class="c g24">ℝ</span><span class="r g75">]</span><span class="r g3">)</span><span class="r g3">)</span></span><span class="t" style="letter-spacing:-0.18px"> such that:</span></div>
<div class="L" style="left:2535.5px;top:1046.5px"><span class="m dm"><i class="g21">m</i><span class="ss s1"><span class="u"><i class="g79">φ</i><span class="sd s2"><i class="g61">n</i></span></span><span class="d"><i class="g69">t</i><span class="sd s2"><i class="g61">n</i></span></span></span><span class="sp q3" style="margin-left:0.278em"></span><span class="xa"><span class="lab"><span class="t" style="letter-spacing:0.42px">distribution</span></span><span class="ar"></span></span><span class="sp q3" style="margin-left:0.278em"></span><i class="g78">M</i><span class="sp" style="margin-left:0.167em"></span><span class="r g9">.</span></span></div>
<div class="L" style="left:2339.8px;top:1141.8px;word-spacing:5.83px"><span class="t" style="letter-spacing:-0.30px">To characterize the limiting measures, we</span></div>
<div class="L" style="left:2339.8px;top:1182.8px;word-spacing:0.45px"><span class="t" style="letter-spacing:-0.01px">introduce the set </span><span class="m"><span class="t" style="letter-spacing:0.33px">V</span><span class="sd s1"><span class="r g8">2</span></span></span><span class="t" style="letter-spacing:-0.31px"> of McKean-Vlasov dis-</span></div>
<div class="L" style="left:2339.8px;top:1223.7px"><span class="t" style="letter-spacing:0.46px">tributions.</span></div>
<div class="L b" style="left:2447.2px;top:1278.1px;color:#fff"><span class="t" style="letter-spacing:-0.92px">McKean-Vlasov Distribution</span></div>
<div class="L" style="left:2355.8px;top:1327.4px;word-spacing:2.40px;--q3:4.57px"><span class="m"><span class="t" style="letter-spacing:0.33px">V</span><span class="sd s1"><span class="r g8">2</span></span></span><span class="t" style="letter-spacing:-0.24px"> is the set of probability measures </span><span class="m"><i class="g80">ρ</i><span class="sp q3" style="margin-left:0.278em"></span><span class="y g23">∈</span></span></div>
<div class="L" style="left:2355.8px;top:1368.3px;word-spacing:-0.86px"><span class="m"><span class="c g73">𝒫</span><span class="r g3">(</span><i class="g74">C</i><span class="r g3">(</span><span class="r g75">[</span><span class="r g12">0</span><span class="r g9">,</span><span class="sp" style="margin-left:0.167em"></span><span class="y g43">∞</span><span class="r g3">)</span><span class="r g9">,</span><span class="sp" style="margin-left:0.167em"></span><span class="c g24">ℝ</span><span class="r g3">)</span><span class="r g3">)</span></span><span class="t" style="letter-spacing:-0.03px"> that are the </span><span class="em"><span class="t" style="letter-spacing:-0.98px">pathwise laws</span></span></div>
<div class="L" style="left:2355.8px;top:1409.3px;word-spacing:6.35px"><span class="t" style="letter-spacing:0.02px">of strong solutions </span><span class="m"><i class="g7">X</i><span class="sd s1"><i class="g69">t</i></span></span><span class="t" style="letter-spacing:0.32px"> to the </span><span class="em"><span class="t" style="letter-spacing:-1.13px">Stochastic</span></span></div>
<div class="L" style="left:2355.8px;top:1450.2px"><span class="em"><span class="t" style="letter-spacing:-0.69px">Differential Equation</span></span><span class="t" style="letter-spacing:-1.69px"> (SDE):</span></div>
<div class="L" style="left:2529.9px;top:1492.2px;font-size:22.96px"><span class="cg"><span class="t" style="letter-spacing:-0.22px">Langevin regularisation</span></span></div>
<div class="L" style="left:2372.0px;top:1541.5px"><span class="m dm"><span class="r g81">d</span><i class="g7">X</i><span class="sd s1"><i class="g69">t</i></span><span class="sp q3" style="margin-left:0.278em"></span><span class="r g4">=</span><span class="sp q3" style="margin-left:0.278em"></span><span style="color:#47821f"><span class="r g4">−</span><i class="g30">λ</i><span class="y g32">∇</span><i class="g5">F</i><span class="r g3">(</span><i class="g7">X</i><span class="sd s1"><i class="g69">t</i></span><span class="r g3">)</span><span class="sp" style="margin-left:0.278em"></span><span class="r g81">d</span><i class="g76">t</i><span class="sp q2" style="margin-left:0.222em"></span><span class="r g4">+</span><span class="sp q2" style="margin-left:0.222em"></span><span class="sq"><span class="rad">√</span><span class="sqb"><span class="r g12">2</span><i class="g30">λ</i></span></span><span class="sp" style="margin-left:0.278em"></span><span class="r g81">d</span><i class="g82">B</i><span class="sd s1"><i class="g69">t</i></span></span></span></div>
<div class="L" style="left:2356.5px;top:1603.1px"><span class="m dm"><span style="color:#00f"><span class="r g4">−</span><span class="sp" style="margin-left:0.167em"></span><span class="in"><span class="bigint">∫</span></span><span class="sp" style="margin-left:0.167em"></span><span class="r g75">[</span><i class="g37">K</i><span class="r g3">(</span><i class="g7">X</i><span class="sd s1"><i class="g69">t</i></span><span class="r g9">,</span><span class="sp" style="margin-left:0.167em"></span><i class="g41">y</i><span class="r g3">)</span><span class="y g32">∇</span><i class="g5">F</i><span class="r g3">(</span><i class="g41">y</i><span class="r g3">)</span><span class="sp q2" style="margin-left:0.222em"></span><span class="r g4">−</span><span class="sp q2" style="margin-left:0.222em"></span><span class="y g32">∇</span><span class="sd s1"><span class="r g8">2</span></span><i class="g37">K</i><span class="r g3">(</span><i class="g7">X</i><span class="sd s1"><i class="g69">t</i></span><span class="r g9">,</span><span class="sp" style="margin-left:0.167em"></span><i class="g41">y</i><span class="r g3">)</span><span class="r g75">]</span><span class="sp" style="margin-left:0.278em"></span><span class="sp" style="margin-left:0.278em"></span><span class="r g81">d</span><i class="g80">ρ</i><span class="sd s1"><i class="g69">t</i></span><span class="r g3">(</span><i class="g41">y</i><span class="r g3">)</span></span><span style="color:#000"><span class="r g9">,</span></span></span></div>
<div class="L" style="left:2599.2px;top:1667.2px;font-size:22.96px"><span class="cb"><span class="t" style="letter-spacing:-0.68px">True SVGD</span></span></div>
<div class="L" style="left:2355.8px;top:1703.4px;word-spacing:3.33px"><span class="t" style="letter-spacing:-0.02px">where </span><span class="m"><i class="g80">ρ</i><span class="sd s1"><i class="g69">t</i></span></span><span class="t" style="letter-spacing:0.14px"> is the time-</span><span class="m"><i class="g76">t</i></span><span class="t" style="letter-spacing:-0.31px"> marginal of </span><span class="m"><i class="g80">ρ</i></span><span class="t" style="letter-spacing:-1.10px"> (i.e.,</span></div>
<div class="L" style="left:2355.8px;top:1744.4px;word-spacing:2.92px"><span class="t" style="letter-spacing:0.11px">the law of </span><span class="m"><i class="g7">X</i><span class="sd s1"><i class="g69">t</i></span></span><span class="t" style="letter-spacing:-1.01px">), and </span><span class="m"><span class="r g3">(</span><i class="g82">B</i><span class="sd s1"><i class="g69">t</i></span><span class="r g3">)</span><span class="sd s1"><i class="g69">t</i><span class="y g83">≥</span><span class="r g8">0</span></span></span><span class="t" style="letter-spacing:-0.39px"> is a Brownian</span></div>
<div class="L" style="left:2355.8px;top:1785.3px"><span class="t" style="letter-spacing:0.37px">motion.</span></div>
<div class="L" style="left:2339.8px;top:1842.5px"><span class="t" style="letter-spacing:-0.19px">We characterize the limiting measure </span><span class="m"><i class="g78">M</i></span><span class="t" style="letter-spacing:-1.38px">.</span></div>
<div class="L b" style="left:2499.6px;top:1904.4px;color:#fff"><span class="t" style="letter-spacing:-1.38px">Propagation of chaos</span></div>
<div class="L" style="left:2574.5px;top:1975.5px"><span class="m dm"><i class="g78">M</i><span class="r g3">(</span><span class="t" style="letter-spacing:0.33px">V</span><span class="sd s1"><span class="r g8">2</span></span><span class="r g3">)</span><span class="sp q3" style="margin-left:0.278em"></span><span class="r g4">=</span><span class="sp q3" style="margin-left:0.278em"></span><span class="r g12">1</span><span class="sp" style="margin-left:0.167em"></span><span class="r g9">.</span></span></div>
<div class="L" style="left:2355.8px;top:2023.1px;word-spacing:4.60px"><span class="t" style="letter-spacing:-0.04px">In other words, the accumulation points</span></div>
<div class="L" style="left:2355.8px;top:2064.4px;word-spacing:2.33px;--q3:4.43px"><span class="t" style="letter-spacing:0.35px">of </span><span class="m"><span class="r g3">(</span><i class="g21">m</i><span class="ss s1"><span class="u"><i class="g11">n</i></span><span class="d"><i class="g69">t</i></span></span><span class="r g3">)</span><span class="sd s1"><i class="g69">t</i><span class="r g29">,</span><i class="g11">n</i></span></span><span class="t" style="letter-spacing:-0.39px"> exists in every regime </span><span class="m"><span class="r g3">(</span><i class="g76">t</i><span class="r g9">,</span><span class="sp" style="margin-left:0.167em"></span><i class="g6">n</i><span class="r g3">)</span><span class="sp q3" style="margin-left:0.278em"></span><span class="y g42">→</span></span></div>
<div class="L" style="left:2355.8px;top:2105.7px;word-spacing:2.56px"><span class="m"><span class="r g3">(</span><span class="y g43">∞</span><span class="r g9">,</span><span class="sp" style="margin-left:0.167em"></span><span class="y g43">∞</span><span class="r g3">)</span></span><span class="t" style="letter-spacing:-0.28px"> and are McKean-Vlasov distribu-</span></div>
<div class="L" style="left:2355.8px;top:2147.0px"><span class="t" style="letter-spacing:0.11px">tions.</span></div>
<div class="L" style="left:2339.8px;top:2202.9px;word-spacing:16.20px"><span class="t" style="letter-spacing:-0.11px">The lemma that states that the </span><span class="em"><span class="t" style="letter-spacing:-0.89px">McK-</span></span></div>
<div class="L" style="left:2339.8px;top:2244.2px"><span class="em"><span class="t" style="letter-spacing:-1.00px">ean–Vlasov distributions converge to </span><span class="em"><span class="m"><i class="g0">π</i></span></span></span></div>
<div class="L b" style="left:3276.5px;top:294.1px;color:#fff"><span class="t" style="letter-spacing:-1.41px">Descent Lemma</span></div>
<div class="L" style="left:3095.2px;top:343.6px"><span class="t" style="letter-spacing:-0.74px">For </span><span class="m"><i class="g80">ρ</i><span class="sp q3" style="margin-left:0.278em"></span><span class="y g23">∈</span><span class="sp q3" style="margin-left:0.278em"></span><span class="t" style="letter-spacing:0.33px">V</span><span class="sd s1"><span class="r g8">2</span></span></span><span class="t" style="letter-spacing:-0.15px">, if </span><span class="m"><i class="g80">ρ</i><span class="sd s1"><i class="g69">t</i></span></span><span class="t" style="letter-spacing:-0.37px"> has a density for every </span><span class="m"><i class="g76">t</i></span><span class="t" style="letter-spacing:-0.92px">:</span></div>
<div class="L" style="left:3106.5px;top:398.8px"><span class="m dm"><span class="r g84">KL</span><span class="r g3">(</span><i class="g80">ρ</i><span class="sd s1"><i class="g69">t</i></span><span class="r g85">|</span><span class="r g85">|</span><i class="g0">π</i><span class="r g3">)</span><span class="sp q2" style="margin-left:0.222em"></span><span class="r g4">−</span><span class="sp q2" style="margin-left:0.222em"></span><span class="r g84">KL</span><span class="r g3">(</span><i class="g80">ρ</i><span class="sd s1"><span class="r g8">0</span></span><span class="r g85">|</span><span class="r g85">|</span><i class="g0">π</i><span class="r g3">)</span></span></div>
<div class="L" style="left:3165.0px;top:468.4px"><span class="m dm"><span class="r g4">=</span><span class="sp q3" style="margin-left:0.278em"></span><span class="r g4">−</span><span class="sp" style="margin-left:0.167em"></span><span class="in lm"><span class="bigint">∫</span><span class="ihi"><i class="g69">t</i></span><span class="ilo"><span class="r g8">0</span></span></span><span class="r g3">(</span><span style="color:#00f"><span class="c g86">ℐ</span><span class="sd s1"><span class="t" style="letter-spacing:0.01px">stein</span></span><span class="r g3">(</span><i class="g80">ρ</i><span class="sd s1"><i class="g87">s</i></span><span class="r g85">|</span><span class="r g85">|</span><i class="g0">π</i><span class="r g3">)</span></span><span class="sp q2" style="margin-left:0.222em"></span><span class="r g4">+</span><span class="sp q2" style="margin-left:0.222em"></span><span style="color:#47821f"><i class="g30">λ</i><span class="c g86">ℐ</span><span class="r g3">(</span><i class="g80">ρ</i><span class="sd s1"><i class="g87">s</i></span><span class="r g85">|</span><span class="r g85">|</span><i class="g0">π</i><span class="r g3">)</span></span><span class="r g3">)</span><span class="sp" style="margin-left:0.278em"></span><span class="r g81">d</span><i class="g88">s</i><span class="sp" style="margin-left:0.167em"></span><span class="r g9">,</span></span></div>
<div class="L" style="left:3095.2px;top:531.6px"><span class="t" style="letter-spacing:0.13px">where</span></div>
<div class="L" style="left:3157.0px;top:598.9px"><span class="m dm"><span class="c g86">ℐ</span><span class="r g3">(</span><i class="g44">μ</i><span class="r g85">|</span><span class="r g85">|</span><i class="g0">π</i><span class="r g3">)</span><span class="sp q3" style="margin-left:0.278em"></span><span class="r g45">:=</span><span class="sp q3" style="margin-left:0.278em"></span><span class="in"><span class="bigint">∫</span></span><span class="sp" style="margin-left:0.167em"></span><span class="dl" style="width:0.500em"><span class="y" style="transform:translateY(0.025em) scale(1.23,2.84);transform-origin:50% 0.017em"><span>‖</span></span></span><span class="y g32">∇</span><span class="sp" style="margin-left:0.167em"></span><span class="r g52">log</span><span class="sp" style="margin-left:0.167em"></span><span class="dl" style="width:0.620em"><span class="r" style="transform:translateY(-0.010em) scale(1.31,2.65);transform-origin:50% 0.097em"><span>(</span></span></span><span class="fr"><span class="n"><span class="r g81">d</span><i class="g44">μ</i></span><span class="dn"><span class="r g81">d</span><i class="g0">π</i></span></span><span class="dl" style="width:0.620em"><span class="r" style="transform:translateY(-0.010em) scale(1.31,2.65);transform-origin:50% 0.097em"><span>)</span></span></span><span class="dl" style="width:0.500em"><span class="y" style="transform:translateY(0.025em) scale(1.23,2.84);transform-origin:50% 0.017em"><span>‖</span></span></span><span class="su" style="vertical-align:1.612em"><span class="r g8">2</span></span><span class="sp" style="margin-left:0.278em"></span><span class="r g81">d</span><i class="g44">μ</i><span class="sp" style="margin-left:0.167em"></span><span class="r g9">,</span></span></div>
<div class="L" style="left:3095.2px;top:665.4px"><span class="t" style="letter-spacing:-0.59px">and</span></div>
<div class="L" style="left:3142.5px;top:726.3px"><span class="m dm"><span class="c g86">ℐ</span><span class="sd s1"><span class="t" style="letter-spacing:0.01px">stein</span></span><span class="r g3">(</span><i class="g44">μ</i><span class="r g85">|</span><span class="r g85">|</span><i class="g0">π</i><span class="r g3">)</span><span class="sp q3" style="margin-left:0.278em"></span><span class="r g45">:=</span><span class="sp q3" style="margin-left:0.278em"></span><span class="in"><span class="bigint">∫</span></span><span class="sp" style="margin-left:0.167em"></span><span class="dl" style="width:0.500em"><span class="y" style="transform:translateY(0.025em) scale(1.23,2.84);transform-origin:50% 0.017em"><span>‖</span></span></span><i class="g5">P</i><span class="sd s1"><i class="g11">μ</i></span><span class="y g32">∇</span><span class="sp" style="margin-left:0.167em"></span><span class="r g52">log</span><span class="sp" style="margin-left:0.167em"></span><span class="dl" style="width:0.620em"><span class="r" style="transform:translateY(-0.010em) scale(1.31,2.65);transform-origin:50% 0.097em"><span>(</span></span></span><span class="fr"><span class="n"><span class="r g81">d</span><i class="g44">μ</i></span><span class="dn"><span class="r g81">d</span><i class="g0">π</i></span></span><span class="dl" style="width:0.620em"><span class="r" style="transform:translateY(-0.010em) scale(1.31,2.65);transform-origin:50% 0.097em"><span>)</span></span></span><span class="dl" style="width:0.500em"><span class="y" style="transform:translateY(0.025em) scale(1.23,2.84);transform-origin:50% 0.017em"><span>‖</span></span></span><span class="sp" style="margin-left:0.278em"></span><span class="sp" style="margin-left:0.167em"></span><span class="r g9">,</span></span></div>
<div class="L" style="left:3095.2px;top:796.5px"><span class="t" style="letter-spacing:-0.02px">where </span><span class="m"><i class="g5">P</i><span class="sd s1"><i class="g11">μ</i></span><i class="g89">f</i><span class="sp q3" style="margin-left:0.278em"></span><span class="r g45">:=</span><span class="sp q3" style="margin-left:0.278em"></span><span class="r g90">∫</span><span class="sp" style="margin-left:0.167em"></span><i class="g37">K</i><span class="r g3">(</span><span class="r g75">·</span><span class="r g9">,</span><span class="sp" style="margin-left:0.167em"></span><i class="g41">y</i><span class="r g3">)</span><i class="g89">f</i><span class="r g3">(</span><i class="g41">y</i><span class="r g3">)</span><span class="sp" style="margin-left:0.167em"></span><span class="r g81">d</span><i class="g44">μ</i><span class="r g3">(</span><i class="g41">y</i><span class="r g3">)</span></span><span class="t" style="letter-spacing:-1.38px">.</span></div>
<div class="L" style="left:3095.2px;top:837.5px"><span class="m"><span class="r g91">‖</span><span class="r g75">·</span><span class="r g91">‖</span><span class="sd s1"><span class="c g92">ℋ</span></span></span><span class="t" style="letter-spacing:-0.37px">: norm in the RKHS generated by </span><span class="m"><i class="g37">K</i></span><span class="t" style="letter-spacing:-1.38px">.</span></div>
<div class="L" style="left:3079.2px;top:903.5px"><span class="m"><i class="g30">λ</i><span class="sp q3" style="margin-left:0.278em"></span><span class="r g4">&gt;</span><span class="sp q3" style="margin-left:0.278em"></span><span class="r g12">0</span><span class="sp q3" style="margin-left:0.278em"></span><span class="sp" style="margin-left:.278em"></span><span class="y g56">⟹</span><span class="sp" style="margin-left:.278em"></span></span><span class="t" style="letter-spacing:-0.72px"> </span><span class="em"><span class="em"><span class="m"><i class="g80">ρ</i><span class="sd s1"><i class="g69">t</i></span></span></span><span class="t" style="letter-spacing:-1.22px"> has a density for every </span><span class="em"><span class="m"><i class="g76">t</i><span class="sp q3" style="margin-left:0.278em"></span><span class="r g4">&gt;</span><span class="sp q3" style="margin-left:0.278em"></span><span class="r g12">0</span></span></span><span class="t" style="letter-spacing:-1.45px">.</span></span></div>
<div class="L" style="left:3079.2px;top:943.5px;word-spacing:-1.92px"><span class="t" style="letter-spacing:-0.64px">The </span><span class="em"><span class="t" style="letter-spacing:-1.22px">ergodic occupation measure</span></span><span class="t" style="letter-spacing:-0.52px"> is defined as</span></div>
<div class="L" style="left:3105.5px;top:1013.3px"><span class="m dm"><i class="g78">M</i><span class="ss s1"><span class="u"><i class="g11">n</i></span><span class="d"><i class="g69">t</i></span></span><span class="sp q3" style="margin-left:0.278em"></span><span class="r g4">=</span><span class="sp q3" style="margin-left:0.278em"></span><span class="fr"><span class="n"><span class="r g12">1</span></span><span class="dn"><i class="g76">t</i></span></span><span class="sp" style="margin-left:0.167em"></span><span class="in lm"><span class="bigint">∫</span><span class="ihi"><i class="g69">t</i></span><span class="ilo"><span class="r g8">0</span></span></span><span class="sp" style="margin-left:0.167em"></span><i class="g15">δ</i><span class="sd s1"><i class="g93">m</i><span class="ss s2"><span class="u"><i class="g61">n</i></span><span class="d"><i class="g94">s</i></span></span></span><span class="sp" style="margin-left:0.278em"></span><span class="r g81">d</span><i class="g88">s</i><span class="sp q3" style="margin-left:0.278em"></span><span class="y g23">∈</span><span class="sp q3" style="margin-left:0.278em"></span><span class="c g73">𝒫</span><span class="r g3">(</span><span class="c g73">𝒫</span><span class="r g3">(</span><i class="g74">C</i><span class="r g3">(</span><span class="r g75">[</span><span class="r g12">0</span><span class="r g9">,</span><span class="sp" style="margin-left:0.167em"></span><span class="y g43">∞</span><span class="r g3">)</span><span class="r g9">,</span><span class="sp" style="margin-left:0.167em"></span><span class="c g24">ℝ</span><span class="r g3">)</span><span class="r g3">)</span><span class="r g3">)</span><span class="sp" style="margin-left:0.167em"></span><span class="r g9">.</span></span></div>
<div class="L" style="left:3079.2px;top:1078.2px;word-spacing:4.58px"><span class="t" style="letter-spacing:-0.02px">For a bounded continuous function </span><span class="m"><i class="g89">f</i></span><span class="t" style="letter-spacing:-0.62px"> and</span></div>
<div class="L" style="left:3079.2px;top:1119.2px"><span class="m"><i class="g95">τ</i><span class="sp q3" style="margin-left:0.278em"></span><span class="r g4">&gt;</span><span class="sp q3" style="margin-left:0.278em"></span><span class="r g12">0</span></span><span class="t" style="letter-spacing:-1.67px">,</span></div>
<div class="L" style="left:3137.0px;top:1181.4px"><span class="m dm"><span class="in"><span class="bigint">∫</span></span><span class="sp" style="margin-left:0.167em"></span><i class="g89">f</i><span class="r g3">(</span><i class="g80">ρ</i><span class="sd s1"><i class="g96">τ</i></span><span class="r g3">)</span><span class="sp" style="margin-left:0.278em"></span><span class="r g81">d</span><i class="g78">M</i><span class="ss s1"><span class="u"><i class="g11">n</i></span><span class="d"><i class="g69">t</i></span></span><span class="r g3">(</span><i class="g80">ρ</i><span class="r g3">)</span><span class="sp q3" style="margin-left:0.278em"></span><span class="y g18">≃</span><span class="sp q3" style="margin-left:0.278em"></span><span class="in"><span class="bigint">∫</span></span><span class="sp" style="margin-left:0.167em"></span><i class="g89">f</i><span class="r g3">(</span><i class="g80">ρ</i><span class="sd s1"><span class="r g8">0</span></span><span class="r g3">)</span><span class="sp" style="margin-left:0.278em"></span><span class="r g81">d</span><i class="g78">M</i><span class="ss s1"><span class="u"><i class="g11">n</i></span><span class="d"><i class="g69">t</i></span></span><span class="r g3">(</span><i class="g80">ρ</i><span class="r g3">)</span><span class="sp" style="margin-left:0.167em"></span><span class="r g9">,</span></span></div>
<div class="L" style="left:3079.2px;top:1244.5px;word-spacing:-1.84px"><span class="t" style="letter-spacing:-0.21px">for large </span><span class="m"><i class="g76">t</i></span><span class="t" style="letter-spacing:-0.20px">. This means that the limiting mea-</span></div>
<div class="L" style="left:3079.2px;top:1285.5px;word-spacing:4.64px"><span class="t" style="letter-spacing:-0.34px">sures of the ergodic occupation measures</span></div>
<div class="L" style="left:3079.2px;top:1326.4px"><span class="t" style="letter-spacing:-0.82px">are </span><span class="em"><span class="t" style="letter-spacing:-0.48px">time-shift recurrent</span></span><span class="t" style="letter-spacing:-1.38px">.</span></div>
<div class="L" style="left:3079.2px;top:1367.4px"><span class="t" style="letter-spacing:-0.55px">The Descent Lemma implies:</span></div>
<div class="L" style="left:3079.5px;top:1430.9px"><span class="m dm"><span class="r g12">0</span><span class="sp q3" style="margin-left:0.278em"></span><span class="r g4">=</span><span class="sp q3" style="margin-left:0.278em"></span><span class="in"><span class="bigint">∫</span></span><span class="sp" style="margin-left:0.167em"></span><span class="r g84">KL</span><span class="r g3">(</span><i class="g80">ρ</i><span class="sd s1"><i class="g69">t</i></span><span class="r g85">|</span><span class="r g85">|</span><i class="g0">π</i><span class="r g3">)</span><span class="sp q2" style="margin-left:0.222em"></span><span class="r g4">−</span><span class="sp q2" style="margin-left:0.222em"></span><span class="r g84">KL</span><span class="r g3">(</span><i class="g80">ρ</i><span class="sd s1"><span class="r g8">0</span></span><span class="r g85">|</span><span class="r g85">|</span><i class="g0">π</i><span class="r g3">)</span><span class="sp" style="margin-left:0.278em"></span><span class="r g81">d</span><i class="g78">M</i><span class="r g3">(</span><i class="g80">ρ</i><span class="r g3">)</span></span></div>
<div class="L" style="left:3103.5px;top:1515.6px"><span class="m dm"><span class="r g4">=</span><span class="sp q3" style="margin-left:0.278em"></span><span class="in"><span class="bigint">∫</span></span><span class="sp" style="margin-left:0.167em"></span><span class="in lm"><span class="bigint">∫</span><span class="ihi"><i class="g69">t</i></span><span class="ilo"><span class="r g8">0</span></span></span><span class="r g3">(</span><span class="c g86">ℐ</span><span class="sd s1"><span class="t" style="letter-spacing:0.01px">stein</span></span><span class="r g3">(</span><i class="g80">ρ</i><span class="sd s1"><i class="g87">s</i></span><span class="r g85">|</span><span class="r g85">|</span><i class="g0">π</i><span class="r g3">)</span><span class="sp q2" style="margin-left:0.222em"></span><span class="r g4">+</span><span class="sp q2" style="margin-left:0.222em"></span><i class="g30">λ</i><span class="c g86">ℐ</span><span class="r g3">(</span><i class="g80">ρ</i><span class="sd s1"><i class="g87">s</i></span><span class="r g85">|</span><span class="r g85">|</span><i class="g0">π</i><span class="r g3">)</span><span class="r g3">)</span><span class="sp" style="margin-left:0.278em"></span><span class="r g81">d</span><i class="g88">s</i><span class="sp" style="margin-left:0.278em"></span><span class="r g81">d</span><i class="g78">M</i><span class="r g3">(</span><i class="g80">ρ</i><span class="r g3">)</span><span class="sp" style="margin-left:0.167em"></span><span class="r g9">,</span></span></div>
<div class="L" style="left:3079.2px;top:1580.3px"><span class="t" style="letter-spacing:-0.14px">almost surely for any accumulation point </span><span class="m"><i class="g78">M</i></span></div>
<div class="L" style="left:3079.2px;top:1621.3px"><span class="t" style="letter-spacing:0.35px">of </span><span class="m"><span class="r g3">(</span><i class="g78">M</i><span class="ss s1"><span class="u"><i class="g11">n</i></span><span class="d"><i class="g69">t</i></span></span><span class="r g3">)</span><span class="sd s1"><i class="g69">t</i><span class="r g29">,</span><i class="g11">n</i></span></span><span class="t" style="letter-spacing:-1.38px">.</span></div>
<div class="L" style="left:3079.2px;top:1662.2px"><span class="t" style="letter-spacing:-1.21px">Since,</span></div>
<div class="L" style="left:3142.0px;top:1714.1px"><span class="m dm"><span class="c g86">ℐ</span><span class="sd s1"><span class="t" style="letter-spacing:0.01px">stein</span></span><span class="r g3">(</span><i class="g44">μ</i><span class="r g85">|</span><span class="r g85">|</span><i class="g0">π</i><span class="r g3">)</span><span class="sp q3" style="margin-left:0.278em"></span><span class="y g18">≥</span><span class="sp q3" style="margin-left:0.278em"></span><span class="r g12">0</span><span class="sp" style="margin-left:1.000em"></span><span class="t" style="letter-spacing:-0.59px">and</span><span class="sp" style="margin-left:1.000em"></span><span class="c g86">ℐ</span><span class="r g3">(</span><i class="g44">μ</i><span class="r g85">|</span><span class="r g85">|</span><i class="g0">π</i><span class="r g3">)</span><span class="sp q3" style="margin-left:0.278em"></span><span class="y g18">≥</span><span class="sp q3" style="margin-left:0.278em"></span><span class="r g12">0</span><span class="r g9">,</span></span></div>
<div class="L" style="left:3079.2px;top:1766.8px;word-spacing:1.08px;--q3:2.05px"><span class="t" style="letter-spacing:0.18px">with equality if and only if </span><span class="m"><i class="g44">μ</i><span class="sp q3" style="margin-left:0.278em"></span><span class="r g4">=</span><span class="sp q3" style="margin-left:0.278em"></span><i class="g0">π</i></span><span class="t" style="letter-spacing:-0.33px">, the mea-</span></div>
<div class="L" style="left:3079.2px;top:1807.8px;word-spacing:-0.16px"><span class="t" style="letter-spacing:-0.69px">sure </span><span class="m"><i class="g78">M</i></span><span class="t" style="letter-spacing:-0.38px"> is supported on a unique measure </span><span class="m"><i class="g80">ρ</i></span></div>
<div class="L" style="left:3079.2px;top:1848.7px"><span class="t" style="letter-spacing:-0.11px">such that </span><span class="m"><i class="g80">ρ</i><span class="sd s1"><i class="g69">t</i></span><span class="sp q3" style="margin-left:0.278em"></span><span class="r g4">=</span><span class="sp q3" style="margin-left:0.278em"></span><i class="g0">π</i></span><span class="t" style="letter-spacing:-0.10px"> for every </span><span class="m"><i class="g76">t</i><span class="sp q3" style="margin-left:0.278em"></span><span class="r g4">&gt;</span><span class="sp q3" style="margin-left:0.278em"></span><span class="r g12">0</span></span><span class="t" style="letter-spacing:-1.38px">.</span></div>
<div class="L" style="left:3079.2px;top:1889.7px;word-spacing:4.13px"><span class="t" style="letter-spacing:-0.04px">In other words, the </span><span class="em"><span class="t" style="letter-spacing:-0.75px">accumulation points</span></span><span class="t" style="letter-spacing:0.56px"> of</span></div>
<div class="L" style="left:3079.2px;top:1930.7px"><span class="m"><span class="r g3">(</span><span class="acc bar"><i class="g44">μ</i></span><span class="ss s1"><span class="u"><i class="g11">n</i></span><span class="d"><i class="g22">k</i></span></span><span class="r g3">)</span><span class="sd s1"><i class="g22">k</i><span class="r g29">,</span><i class="g11">n</i></span></span><span class="t" style="letter-spacing:-0.49px"> are, almost surely, </span><span class="em"><span class="t" style="letter-spacing:-0.95px">equal to </span><span class="em"><span class="m"><i class="g0">π</i></span></span></span><span class="t" style="letter-spacing:-1.38px">.</span></div>
</body></html>
